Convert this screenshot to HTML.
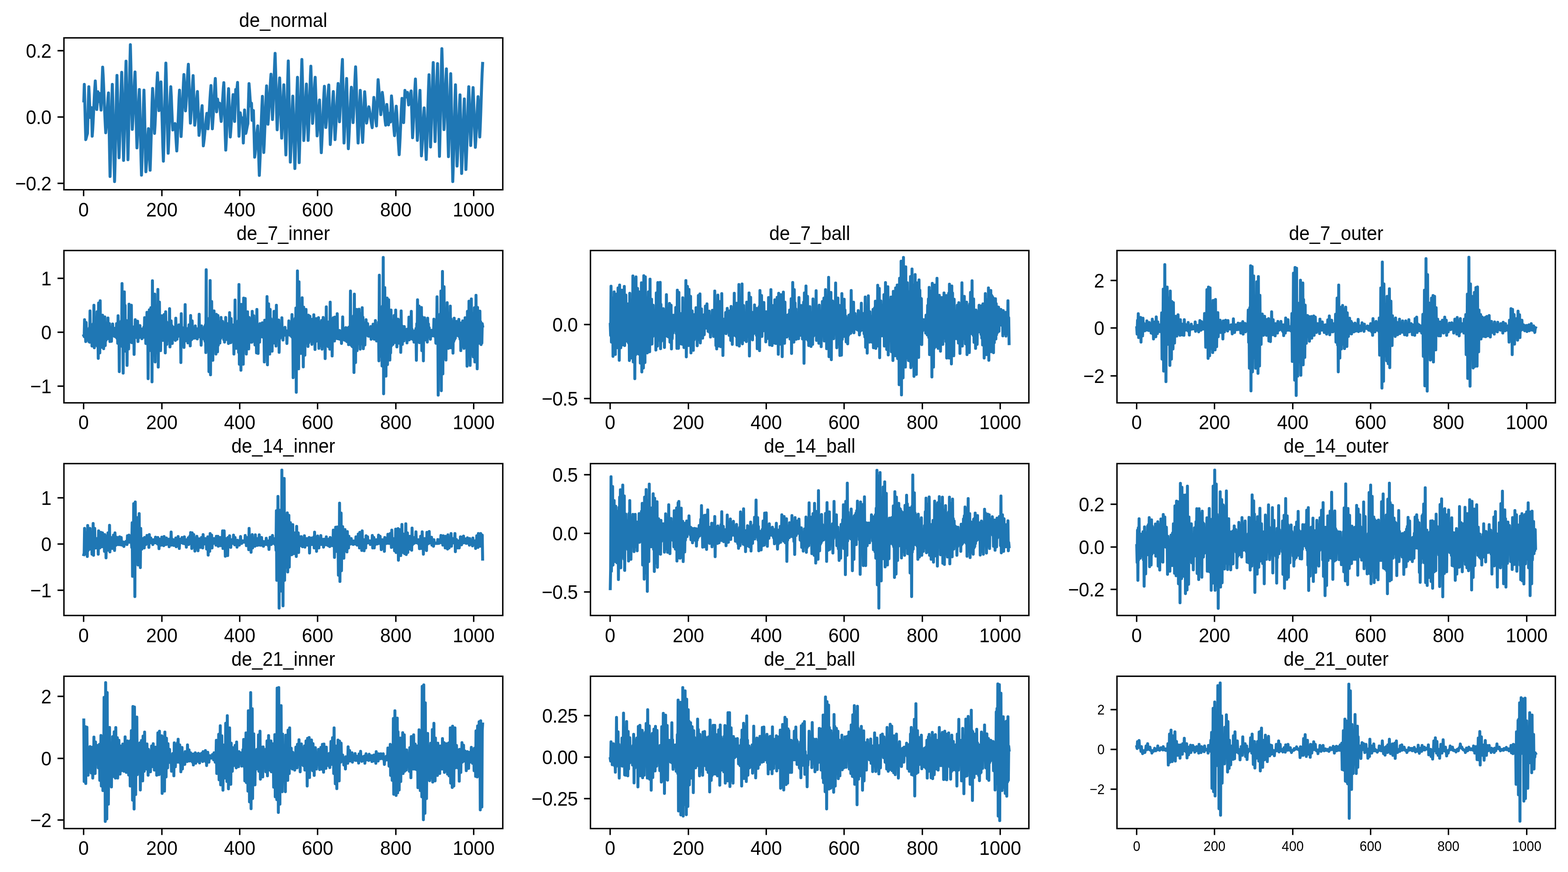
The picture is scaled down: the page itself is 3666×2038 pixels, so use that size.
<!DOCTYPE html>
<html lang="en"><head><meta charset="utf-8"><title>signals</title>
<style>
html,body{margin:0;padding:0;background:#fff;}
body{width:3666px;height:2038px;overflow:hidden;}
svg{display:block;}
text{font-family:"Liberation Sans","DejaVu Sans",sans-serif;fill:#000;}
.t{font-size:45.6px;text-anchor:middle;}
.x{font-size:46.8px;text-anchor:middle;}
.y{font-size:46.8px;text-anchor:end;letter-spacing:-0.7px;}
.xs{font-size:32.8px;text-anchor:middle;}
.ys{font-size:32.8px;text-anchor:end;}
.s{fill:none;stroke:#1f77b4;stroke-width:6.9;stroke-linejoin:round;stroke-linecap:square;}
.k{stroke:#000;stroke-width:3.33;fill:none;}
</style></head>
<body>
<svg width="3666" height="2038" viewBox="0 0 3666 2038">
<rect width="3666" height="2038" fill="#fff"/>
<g>
<path class="s" d="M195.9,235.8 196.5,216.5 197.1,197.3 198.2,237.1 199.4,286.5 200.5,326.3 201.8,321.8 203.2,316.2 204.5,311.7 205.5,278 206.6,236.2 207.7,202.6 208.8,224.8 210,252.3 211.1,274.5 212.4,263.1 213.8,251.7 214.7,285 215.6,318.3 216.7,303.5 217.7,285.2 218.7,264.6 219.7,243.1 220.7,222.4 221.8,204.1 222.8,189.3 223.9,209.9 225.1,235.4 226.2,255.9 227.6,235.2 228.9,214.5 229.8,225.9 230.8,237.4 231.8,227.9 232.9,218.5 234,230.5 235.2,245.3 236.3,257.3 237.6,226.3 238.8,187.9 240,156.9 241.1,174.6 242.1,196.3 243.1,220.9 244.1,246.4 245.2,271 246.2,292.7 247.2,310.3 248.3,297.6 249.3,281.6 250.4,263.8 251.5,245.9 252.5,229.9 253.6,217.2 254.8,277.4 256.1,352.3 257.3,412.5 258.4,376.2 259.4,329.9 260.5,279.9 261.5,233.6 262.6,197.3 263.7,235.6 264.7,284.4 265.8,337.3 266.8,386.1 267.9,424.4 269,382.6 270.1,329.2 271.2,271.4 272.4,217.9 273.5,176.1 274.7,218.2 275.9,272.4 277.1,326.5 278.3,368.7 279.3,341.4 280.4,307.1 281.4,268.8 282.5,230.5 283.6,196.2 284.6,168.9 285.7,214 286.7,271.9 287.8,329.7 288.9,374.8 290,335.7 291.2,285.8 292.4,231.9 293.5,182 294.7,142.9 295.8,193.3 297,258.1 298.1,322.8 299.2,373.2 300.3,327.9 301.4,270.1 302.6,207.5 303.7,149.7 304.8,104.4 305.9,147.7 307,203.4 308.2,259 309.3,302.4 310.4,284 311.4,261 312.5,235.2 313.5,209.5 314.6,186.5 315.7,168.1 316.8,207 317.9,256.9 319.1,306.8 320.2,345.6 321.3,322.6 322.4,293.3 323.5,261.6 324.6,232.2 325.8,209.2 326.8,243 327.8,286 328.8,332.6 329.8,375.6 330.8,409.3 332,375.8 333.1,333.1 334.3,286.8 335.5,244.1 336.6,210.6 337.8,252.3 338.9,306 340,359.6 341.1,401.4 342.3,384.4 343.5,362.8 344.6,339.4 345.8,317.7 347,300.8 348.3,330.7 349.6,368 351,397.9 352.1,365.6 353.3,324.5 354.5,280 355.6,238.8 356.8,206.6 357.9,229.6 359.1,259.1 360.2,288.7 361.3,311.7 362.5,292.3 363.6,268.1 364.8,240.9 365.9,213.8 367.1,189.6 368.2,170.2 369.4,197.5 370.5,231.3 371.7,258.6 372.8,243.9 373.9,225 375,206.1 376.2,191.4 377.3,222.7 378.5,262.5 379.7,305.6 380.8,345.4 382,376.7 383.2,338 384.3,288.7 385.5,235.4 386.7,186.1 387.8,147.4 388.9,182.9 390,228.2 391,277.3 392.1,322.6 393.2,358.1 394.2,336.8 395.2,310.2 396.2,280.3 397.2,250.5 398.2,223.9 399.3,202.6 400.5,224.7 401.6,253.1 402.8,281.6 404,303.7 405.1,301.2 406.2,298 407.2,294.5 408.3,291.3 409.3,288.8 410.7,308.6 412,333.1 413.3,352.8 414.4,333.3 415.4,308.9 416.5,281.7 417.6,254.4 418.6,230 419.7,210.6 420.9,244 422.2,285.6 423.4,319.1 424.5,299.3 425.6,274.4 426.7,246.6 427.8,218.9 428.9,194 430,174.2 431.3,200.4 432.5,232.9 433.8,259.1 434.9,244.2 436,225.6 437.1,204.7 438.2,183.9 439.3,165.2 440.4,150.3 441.6,180.4 442.8,219.1 444,257.7 445.2,287.8 446.2,272.6 447.3,253.6 448.4,232.3 449.4,211.1 450.5,192 451.5,176.8 452.8,212.5 454,256.9 455.3,292.6 456.3,281.8 457.4,268.3 458.4,253.3 459.5,238.2 460.6,224.7 461.6,214 462.9,245.6 464.1,284.9 465.3,316.4 466.4,308.5 467.4,298.6 468.4,287.5 469.4,275.9 470.5,264.7 471.5,254.9 472.5,246.9 474,293.9 475.4,340.9 476.4,333.4 477.5,324.2 478.5,313.9 479.5,302.9 480.6,291.9 481.6,281.6 482.6,272.5 483.6,265 485,283 486.3,301.1 487.5,287.2 488.6,269.9 489.8,250.5 490.9,231.1 492.1,213.8 493.3,199.9 494.3,231.1 495.4,269.9 496.5,301.1 497.6,285 498.8,264.8 499.9,242.3 501.1,219.7 502.2,199.6 503.4,183.5 504.4,207.5 505.5,237.3 506.5,261.3 507.6,246.5 508.7,231.8 509.7,239.9 510.8,248 512,244.5 513.2,241.1 514.5,254.2 515.8,270.6 517.2,283.8 518.2,271.4 519.2,255.9 520.2,238.6 521.2,221.2 522.2,205.7 523.3,193.3 524.4,227.8 525.5,272.1 526.6,316.4 527.8,350.9 528.9,331.3 530,306.6 531.1,279 532.2,251.5 533.3,226.8 534.4,207.1 535.7,242 537.1,285.3 538.4,320.2 539.5,306.6 540.6,289.6 541.7,270.7 542.8,251.7 543.9,234.7 545,221.2 546.2,240.5 547.3,264.5 548.5,283.8 549.8,246.5 551.1,209.2 552.2,212.7 553.2,216.1 554.3,204.5 555.4,192.8 556.5,231.5 557.7,279.6 558.8,318.3 560.3,291 561.7,263.6 563.1,273.1 564.4,282.5 565.7,279 567,275.6 568,304.9 568.9,334.2 570.4,295.6 571.8,257 573.3,284.3 574.7,311.7 575.9,306.7 577.1,300.4 578.3,294.1 579.5,289.1 580.8,242.3 582.2,195.4 583.5,211.6 584.8,231.8 586.1,248 587.1,244.5 588,241.1 588.7,261.1 589.3,281.2 590.4,274.1 591.5,265.4 592.5,258.3 594,312.9 595.4,367.4 596.5,359 597.5,348.6 598.5,336.9 599.5,324.7 600.6,312.9 601.6,302.6 602.6,294.1 603.8,329.8 605.1,374.2 606.3,409.9 607.3,388.6 608.4,362.5 609.4,332.9 610.4,302.1 611.4,272.5 612.5,246.4 613.5,225.1 614.5,265.6 615.6,315.8 616.7,356.3 617.8,335 618.9,308.3 620,278.5 621.1,248.7 622.2,222 623.3,200.7 624.4,228.4 625.4,262.8 626.5,290.4 627.5,277 628.5,260.4 629.6,241.7 630.6,222.2 631.6,203.4 632.6,186.8 633.6,173.4 634.8,206.1 635.9,246.6 637.1,279.3 638.1,258.2 639.1,231.7 640.1,202.1 641.2,172.5 642.2,146 643.2,124.8 644.4,163.9 645.6,214 646.8,264.1 648,303.2 649.1,282.8 650.3,256.7 651.5,228.6 652.6,202.6 653.8,182.2 655,213 656.2,252.5 657.4,292 658.6,322.8 659.6,301.8 660.6,275 661.6,245.9 662.6,219.1 663.6,198.1 664.8,234 666,280.1 667.2,326.2 668.4,362.1 669.5,325 670.6,277.8 671.8,226.7 672.9,179.4 674,142.4 675.2,194.1 676.4,260.6 677.6,327 678.8,378.8 679.9,352.8 681.1,319.7 682.3,283.8 683.4,250.6 684.6,224.6 685.8,261.7 687,309.3 688.2,356.9 689.4,393.9 690.4,364.8 691.4,328.1 692.4,287.2 693.4,246.4 694.5,209.7 695.5,180.6 696.8,242.1 698.1,318.6 699.5,380.1 700.5,347.1 701.6,305.8 702.6,259.5 703.7,213.3 704.8,171.9 705.8,138.9 707,180.4 708.1,233.6 709.2,286.9 710.3,328.4 711.4,310.3 712.4,287.7 713.4,262.4 714.4,237.2 715.4,214.5 716.4,196.5 717.8,237.1 719.1,287.5 720.4,328.1 721.5,304.4 722.5,274.7 723.6,241.5 724.7,208.3 725.7,178.5 726.8,154.8 728.1,196 729.4,247.2 730.8,288.3 731.8,273.6 732.8,255.1 733.8,234.4 734.8,213.8 735.9,195.3 736.9,180.6 738,210.5 739.1,249 740.3,287.5 741.4,317.5 742.5,303.4 743.6,285.3 744.7,265.8 745.8,247.8 747,233.6 748,260.6 749.1,295.2 750.1,329.8 751.2,356.8 752.2,339 753.2,317 754.3,292.2 755.3,266.4 756.3,241.5 757.3,219.6 758.4,201.8 759.5,231.4 760.7,268.2 761.8,297.9 763,284.3 764.1,267.3 765.3,248.2 766.4,229.2 767.6,212.2 768.7,198.6 769.9,241.5 771,294.8 772.2,337.7 773.2,323.5 774.2,306 775.2,286.1 776.3,265.5 777.3,245.7 778.3,228.2 779.3,214 780.7,248.6 782,291.6 783.3,326.3 784.3,311.2 785.4,292.6 786.4,271.6 787.4,249.8 788.4,228.8 789.5,210.2 790.5,195.2 791.5,222.7 792.6,257 793.7,284.6 794.8,264.7 796,239.7 797.1,211.8 798.3,183.8 799.4,158.8 800.6,138.9 801.8,199.1 803,274 804.3,334.2 805.3,313.6 806.3,287.7 807.3,258.9 808.3,230 809.4,204.1 810.4,183.5 811.7,234.1 813,296.9 814.4,347.5 815.4,331 816.4,310.7 817.4,287.7 818.5,263.7 819.5,240.7 820.5,220.4 821.5,203.9 822.8,229.4 824.2,261 825.5,286.5 826.7,264.5 827.9,236.5 829,206.1 830.2,178.1 831.4,156.2 832.6,186.2 833.7,224.5 834.9,265.9 836.1,304.2 837.2,334.2 838.3,313.5 839.3,287 840.3,258.3 841.3,231.8 842.3,211.1 843.4,231.6 844.5,257.8 845.6,286.2 846.7,312.4 847.9,332.9 849.1,307 850.3,273.7 851.4,240.4 852.6,214.5 853.8,230.6 854.9,251.2 856,271.7 857.2,287.8 858.2,281.3 859.3,273.1 860.3,264.2 861.4,256 862.5,249.6 863.6,255.2 864.7,262.1 865.8,269.9 866.9,278.1 868,285.9 869.1,292.8 870.2,298.4 871.5,276.6 872.8,249.6 874.1,227.8 875.2,236.9 876.2,248.3 877.2,261.1 878.2,273.9 879.2,285.3 880.2,294.4 881.5,261 882.7,219.5 884,186.1 885,197.3 886.1,211.3 887.1,227 888.2,242.7 889.3,256.7 890.3,267.9 891.5,251.8 892.6,231.9 893.8,215.9 894.9,224.7 896,235.5 897.2,247.8 898.3,260.6 899.5,272.9 900.6,283.8 901.7,292.6 903.1,268.4 904.4,244.3 905.7,258.9 907,277.1 908.4,291.8 909.3,278.4 910.2,265 911.6,275 912.9,285.1 914.1,254.7 915.3,224.3 916.3,235 917.3,248.1 918.3,262.9 919.4,278.4 920.4,293.2 921.4,306.3 922.4,317 923.8,295.8 925.1,269.4 926.4,248.2 927.6,263.7 928.7,283.2 929.9,304.9 931,326.6 932.2,346.1 933.3,361.6 934.4,343.6 935.5,321 936.6,295.7 937.7,270.5 938.8,247.9 939.9,229.9 941.2,247.4 942.4,269 943.7,286.5 944.7,263.3 945.8,234.5 946.8,211.3 947.9,216.1 949,222 950,226.8 951.4,221.3 952.7,215.9 954,230.6 955.3,245.3 956.5,239.8 957.7,232.7 958.8,225 960,218 961.2,212.4 962.3,246.1 963.5,288 964.6,321.8 965.7,303 966.8,279.5 967.9,253.3 969,227 970.2,203.5 971.3,184.8 972.4,216.2 973.5,256.5 974.6,296.7 975.8,328.1 976.8,312.1 977.8,292 978.8,269.6 979.8,247.2 980.9,227.1 981.9,211.1 983,258.3 984.2,317 985.3,364.2 986.4,348.9 987.4,329.7 988.5,308.2 989.6,286.7 990.6,267.5 991.7,252.2 992.9,278.6 994.1,312.5 995.3,346.3 996.5,372.7 997.6,345.6 998.7,311.7 999.8,273.7 1000.9,235.8 1002,201.8 1003.1,174.7 1004.3,226.8 1005.4,291.5 1006.6,343.5 1007.6,316.5 1008.7,282.6 1009.7,244.8 1010.8,206.9 1011.9,173.1 1012.9,146.1 1014,186.5 1015,238.4 1016.1,290.3 1017.2,330.8 1018.3,300.1 1019.5,260.9 1020.7,218.6 1021.8,179.4 1023,148.7 1024.1,196.1 1025.3,257 1026.4,317.9 1027.5,365.3 1028.6,322.8 1029.7,268.8 1030.9,210.2 1032,156.1 1033.1,113.7 1034.1,145.6 1035.1,186.3 1036.1,230.3 1037.1,271 1038.1,302.9 1039.2,279 1040.4,248.4 1041.5,215.4 1042.6,184.9 1043.7,160.9 1044.9,205.8 1046.1,263.5 1047.3,321.2 1048.5,366.1 1049.5,333.4 1050.6,291.6 1051.7,246.5 1052.7,204.8 1053.8,172.1 1055,227.3 1056.2,298.3 1057.4,369.2 1058.6,424.4 1059.6,393.5 1060.7,354.7 1061.7,311.3 1062.8,267.9 1063.9,229 1064.9,198.1 1066.2,256.7 1067.4,329.5 1068.6,388.1 1069.8,365.3 1070.9,336.8 1072.1,304.9 1073.2,273 1074.4,244.5 1075.5,221.7 1076.8,278.3 1078,348.7 1079.3,405.3 1080.3,381.5 1081.4,351.7 1082.4,318.3 1083.5,284.9 1084.6,255.1 1085.6,231.2 1086.9,282.1 1088.1,345.2 1089.3,396.1 1090.4,369.6 1091.6,336.4 1092.7,299.3 1093.8,262.2 1094.9,229 1096,202.6 1097.1,232.7 1098.2,271.3 1099.4,310 1100.5,340.1 1101.6,317.2 1102.7,288.1 1103.8,256.6 1104.9,227.5 1106.1,204.7 1107.1,228.3 1108.2,258.3 1109.2,290.8 1110.3,320.8 1111.4,344.3 1112.4,328.1 1113.5,307.8 1114.6,285.1 1115.6,262.4 1116.7,242.1 1117.7,225.9 1119.1,255 1120.4,291.1 1121.7,320.2 1122.8,296.6 1123.9,267.1 1125,234.2 1126.1,201.2 1127.2,171.7 1128.4,148.2"/>
<path class="k" d="M195.5,443.5 v15 M378.5,443.5 v15 M560.5,443.5 v15 M742.5,443.5 v15 M925.5,443.5 v15 M1107.5,443.5 v15 M149.5,118.5 h-15 M149.5,273.5 h-15 M149.5,428.5 h-15"/>
<rect class="k" x="149.5" y="88.5" width="1026" height="355"/>
<text class="x" transform="translate(195.5,505.6) scale(0.94,1)">0</text>
<text class="x" transform="translate(378.5,505.6) scale(0.94,1)">200</text>
<text class="x" transform="translate(560.5,505.6) scale(0.94,1)">400</text>
<text class="x" transform="translate(742.5,505.6) scale(0.94,1)">600</text>
<text class="x" transform="translate(925.5,505.6) scale(0.94,1)">800</text>
<text class="x" transform="translate(1107.5,505.6) scale(0.94,1)">1000</text>
<text class="y" transform="translate(119.7,134.5) scale(0.94,1)">0.2</text>
<text class="y" transform="translate(119.7,289.5) scale(0.94,1)">0.0</text>
<text class="y" transform="translate(119.7,444.5) scale(0.94,1)">−0.2</text>
<text class="t" transform="translate(662.2,63.2) scale(0.957,1)">de_normal</text>
</g>
<g>
<path class="s" d="M195.9,784.6 196.8,786.6 197.7,747.2 198.7,786.3 199.6,782.9 200.5,798.2 201.4,753.8 202.3,790.8 203.2,776.7 204.1,792.5 205,773 206,794.2 206.9,770.3 207.8,798.2 208.7,767 209.6,799.7 210.5,726.8 211.4,799.6 212.3,762.7 213.2,798 214.2,763.9 215.1,808.8 216,759.3 216.9,799 217.8,756.9 218.7,800.5 219.6,713.5 220.5,812.8 221.4,755.8 222.4,800.8 223.3,753.3 224.2,803.1 225.1,753 226,806.7 226.9,728.6 227.8,809.1 228.7,751.7 229.7,837.5 230.6,708.2 231.5,803.5 232.4,753.8 233.3,824.7 234.2,702.9 235.1,810.4 236,755.4 236.9,811.7 237.9,757.8 238.8,808.6 239.7,736.6 240.6,805.8 241.5,756.4 242.4,814.9 243.3,755.6 244.2,801.7 245.1,740.6 246.1,807.5 247,755 247.9,795.1 248.8,758.8 249.7,790.5 250.6,759.8 251.5,791.5 252.4,743.2 253.4,789.1 254.3,762.9 255.2,789.6 256.1,756.5 257,798.2 257.9,766.4 258.8,784.2 259.7,766.4 260.6,797.7 261.6,766 262.5,783.8 263.4,757.3 264.3,784.3 265.2,768.2 266.1,784 267,767.5 267.9,786.2 268.8,767.3 269.8,784.8 270.7,767.1 271.6,787.9 272.5,756.5 273.4,790.3 274.3,761.9 275.2,802.2 276.1,737.9 277.1,794 278,758.1 278.9,868.5 279.8,755.7 280.7,797 281.6,753.6 282.5,798.8 283.4,750.4 284.3,805.3 285.3,662.8 286.2,810.3 287.1,746.4 288,872 288.9,745.8 289.8,810 290.7,682.2 291.6,811 292.5,714 293.5,820.7 294.4,748.6 295.3,810.5 296.2,749.4 297.1,853.9 298,750.5 298.9,807.4 299.8,752.3 300.8,815.4 301.7,710.9 302.6,799.8 303.5,754.5 304.4,792.4 305.3,756.6 306.2,791.8 307.1,713.5 308,800.8 309,763.9 309.9,792.8 310.8,764 311.7,789.1 312.6,765 313.5,828.2 314.4,764.5 315.3,786.7 316.2,747.2 317.2,788.2 318.1,765.4 319,788.9 319.9,766.1 320.8,789.1 321.7,750.7 322.6,798.2 323.5,766.9 324.4,789.8 325.4,767.7 326.3,787.9 327.2,761 328.1,787.4 329,768.7 329.9,787.9 330.8,769.2 331.7,791.5 332.7,770 333.6,788.4 334.5,768.3 335.4,788.3 336.3,764.4 337.2,788.1 338.1,742.4 339,787.6 339.9,759.6 340.9,802.7 341.8,757.2 342.7,796.8 343.6,730 344.5,799.5 345.4,755.5 346.3,885 347.2,756.6 348.1,808.6 349.1,724.1 350,813.3 350.9,744.6 351.8,819.3 352.7,719.3 353.6,818 354.5,732.4 355.4,892.4 356.4,656.2 357.3,824.2 358.2,736.1 359.1,829.7 360,747.7 360.9,830.1 361.8,687.5 362.7,845.9 363.6,738.1 364.6,824.3 365.5,743.3 366.4,818.4 367.3,741.1 368.2,813.3 369.1,676.4 370,857.9 370.9,747.8 371.8,804.2 372.8,706.1 373.7,794.9 374.6,753.3 375.5,819.4 376.4,752.8 377.3,789.8 378.2,737.9 379.1,787.2 380.1,751.7 381,795.5 381.9,752.4 382.8,787.7 383.7,735.3 384.6,787.5 385.5,751.5 386.4,824.7 387.3,728.6 388.3,788.3 389.2,752.5 390.1,804.8 391,759.6 391.9,794.6 392.8,761.1 393.7,794.6 394.6,762.5 395.5,795.2 396.5,721.5 397.4,810.7 398.3,761.7 399.2,793.6 400.1,749.9 401,792.3 401.9,761.2 402.8,802.7 403.8,764.5 404.7,792.9 405.6,764.8 406.5,792 407.4,766.3 408.3,791.1 409.2,765.5 410.1,795.5 411,743.8 412,788.2 412.9,763.6 413.8,792.9 414.7,763.8 415.6,786.5 416.5,762.7 417.4,784.4 418.3,759.2 419.2,785.3 420.2,763.4 421.1,786.1 422,763.9 422.9,847.3 423.8,733.1 424.7,788.5 425.6,765.4 426.5,789.6 427.5,766.9 428.4,789.9 429.3,766.2 430.2,812 431.1,765.9 432,795.6 432.9,711.9 433.8,796.6 434.7,767.3 435.7,796.2 436.6,769.5 437.5,795.1 438.4,767.9 439.3,801.4 440.2,768.1 441.1,790.3 442,759.2 442.9,791 443.9,768.4 444.8,808.3 445.7,737.4 446.6,794.7 447.5,769.3 448.4,793.3 449.3,749.9 450.2,791 451.2,769.3 452.1,790.1 453,769.2 453.9,790.3 454.8,768.8 455.7,789.8 456.6,761.8 457.5,789.8 458.4,768.1 459.4,789.8 460.3,768.7 461.2,792.1 462.1,768.5 463,786.7 463.9,770.6 464.8,787.3 465.7,734.5 466.6,786.6 467.6,769.9 468.5,787.4 469.4,769.6 470.3,806.7 471.2,761.8 472.1,787.8 473,768.8 473.9,788.5 474.9,768 475.8,790.7 476.7,767.5 477.6,793.2 478.5,763.2 479.4,797.6 480.3,759.3 481.2,823.9 482.1,630.4 483.1,803.5 484,750.6 484.9,808.4 485.8,748.5 486.7,812.8 487.6,748.1 488.5,868.5 489.4,743.7 490.3,810.7 491.3,655.7 492.2,875.9 493.1,737.9 494,810.5 494.9,704.8 495.8,809.3 496.7,746.9 497.6,842 498.6,746.6 499.5,812 500.4,726.8 501.3,812.7 502.2,744.6 503.1,811.3 504,752.8 504.9,827.4 505.8,734.7 506.8,806.2 507.7,750.6 508.6,822.1 509.5,737.4 510.4,806.8 511.3,752 512.2,801.8 513.1,756.6 514,801.6 515,759.2 515.9,790.7 516.8,741.9 517.7,787.5 518.6,757 519.5,784.9 520.4,751.2 521.3,784.6 522.3,757.5 523.2,793.7 524.1,757.2 525,799.5 525.9,755.6 526.8,790.7 527.7,741.9 528.6,793.5 529.5,756.7 530.5,793.1 531.4,756.4 532.3,791.9 533.2,756.6 534.1,802.7 535,756.8 535.9,790.9 536.8,730.8 537.7,791.2 538.7,760 539.6,800.8 540.5,744.6 541.4,795 542.3,759.5 543.2,794.9 544.1,759.5 545,794.7 546,759.5 546.9,827.4 547.8,760.4 548.7,798.8 549.6,701.3 550.5,804 551.4,757.5 552.3,814.1 553.2,757.1 554.2,807.7 555.1,753.5 556,809.8 556.9,749.9 557.8,823.4 558.7,664.9 559.6,851.3 560.5,746.9 561.4,825.2 562.4,738 563.3,865.3 564.2,711.4 565.1,815.6 566,725.6 566.9,818.8 567.8,732.6 568.7,851.3 569.7,696.8 570.6,811.5 571.5,745.2 572.4,815.6 573.3,697.6 574.2,808.5 575.1,751 576,827.4 576.9,752.7 577.9,810.2 578.8,728.6 579.7,807.7 580.6,750.2 581.5,815.4 582.4,741.9 583.3,798.9 584.2,745.1 585.1,798.5 586.1,748.4 587,799.8 587.9,751.8 588.8,799.8 589.7,727.8 590.6,795.1 591.5,743.6 592.4,794.3 593.3,737.9 594.3,797.4 595.2,749.8 596.1,806.1 597,754.9 597.9,797.1 598.8,758.1 599.7,824.7 600.6,723.3 601.6,809.1 602.5,759.9 603.4,826 604.3,762.4 605.2,798.1 606.1,761.7 607,799.5 607.9,756.5 608.8,787.9 609.8,764.8 610.7,784.7 611.6,765 612.5,785.6 613.4,754.4 614.3,787.6 615.2,758.6 616.1,786.7 617,759.1 618,845.9 618.9,748.5 619.8,793.7 620.7,760.3 621.6,799.6 622.5,758.8 623.4,802 624.3,693.3 625.3,852.6 626.2,750.1 627.1,799.7 628,710.1 628.9,800.3 629.8,737.5 630.7,827.4 631.6,723.3 632.5,807.9 633.5,745 634.4,806.4 635.3,749.6 636.2,820.7 637.1,755.4 638,798 638.9,759.5 639.8,801.2 640.7,727.8 641.7,801.8 642.6,755.4 643.5,799.8 644.4,757.1 645.3,808.8 646.2,713.5 647.1,795.6 648,758.7 649,794.9 649.9,755 650.8,792.3 651.7,748 652.6,823.4 653.5,758.7 654.4,790.8 655.3,762.3 656.2,788.2 657.2,764.2 658.1,785.9 659,742.7 659.9,785.5 660.8,767.9 661.7,794.7 662.6,770.9 663.5,783.5 664.4,773.7 665.4,783.3 666.3,765 667.2,782.1 668.1,773.9 669,781 669.9,773.5 670.8,802.7 671.7,773.7 672.7,779.4 673.6,772.6 674.5,778.8 675.4,749.9 676.3,778.3 677.2,768.6 678.1,783.6 679,766 679.9,780.8 680.9,765.4 681.8,786.7 682.7,735.3 683.6,788.8 684.5,761.4 685.4,882.6 686.3,754.6 687.2,802.1 688.1,747.4 689.1,806.6 690,744.1 690.9,817.1 691.8,719.9 692.7,916.8 693.6,741.7 694.5,827.3 695.4,633.1 696.4,824.1 697.3,745.5 698.2,861.9 699.1,658.8 700,820.6 700.9,727.7 701.8,818 702.7,724.1 703.6,826 704.6,724.2 705.5,810.8 706.4,696 707.3,802.9 708.2,729.5 709.1,857.4 710,718 710.9,804.2 711.8,739 712.8,830 713.7,736.5 714.6,797.7 715.5,723.3 716.4,797.3 717.3,739.1 718.2,801.8 719.1,739.7 720.1,809.6 721,736.6 721.9,801 722.8,749.3 723.7,792.9 724.6,739.2 725.5,796.6 726.4,750.3 727.3,794.6 728.3,746.6 729.2,804.8 730.1,746.3 731,795.7 731.9,745.6 732.8,799.1 733.7,735.8 734.6,797.5 735.5,747 736.5,816.8 737.4,748.8 738.3,798.1 739.2,744.6 740.1,794.9 741,754.3 741.9,795.5 742.8,753.4 743.8,797.1 744.7,742.4 745.6,814.1 746.5,756.2 747.4,808.3 748.3,753.9 749.2,805.4 750.1,752.4 751,802.9 752,749 752.9,816 753.8,749.5 754.7,799.6 755.6,741.9 756.5,802.5 757.4,751.4 758.3,802.7 759.2,749.1 760.2,838 761.1,747.8 762,808 762.9,717.2 763.8,805.2 764.7,752.1 765.6,803.8 766.5,752.5 767.5,810.1 768.4,755.3 769.3,802.9 770.2,758.5 771.1,816 772,706.1 772.9,802 773.8,755.2 774.7,801.8 775.7,757.3 776.6,831.9 777.5,753.6 778.4,790 779.3,742.7 780.2,788.8 781.1,755.4 782,796.9 782.9,741.1 783.9,791.7 784.8,759 785.7,791 786.6,763.6 787.5,788.7 788.4,733.1 789.3,791.5 790.2,771.6 791.2,790.8 792.1,775.4 793,792.3 793.9,772.4 794.8,792.9 795.7,777 796.6,793.5 797.5,776.4 798.4,802.7 799.4,776.1 800.3,793.4 801.2,740.6 802.1,792.9 803,773.5 803.9,793.8 804.8,773.6 805.7,795.1 806.6,773.1 807.6,794.9 808.5,765.8 809.4,796.6 810.3,769.6 811.2,798.4 812.1,768.1 813,797.3 813.9,766.5 814.9,805.3 815.8,764.8 816.7,795.4 817.6,763.7 818.5,801.8 819.4,680.3 820.3,805.7 821.2,754.1 822.1,807.9 823.1,750.4 824,810.2 824.9,747.6 825.8,811 826.7,738.4 827.6,870.6 828.5,687.5 829.4,805.4 830.3,728.9 831.3,847.3 832.2,734.9 833.1,798.4 834,723.3 834.9,819.4 835.8,736.8 836.7,803.7 837.6,733.6 838.6,802.7 839.5,722.8 840.4,802.8 841.3,732.5 842.2,816 843.1,736.9 844,797.3 844.9,732.6 845.8,803.8 846.8,719.3 847.7,798.3 848.6,741.5 849.5,814.9 850.4,754.4 851.3,783.5 852.2,764.1 853.1,806.1 854,763.9 855,782.8 855.9,747.2 856.8,783.1 857.7,762.8 858.6,783.6 859.5,756.5 860.4,785.1 861.3,766.8 862.2,785.8 863.2,767.2 864.1,785.5 865,767.9 865.9,786.4 866.8,763.1 867.7,792.9 868.6,766.6 869.5,789.3 870.5,765.9 871.4,790.3 872.3,757.8 873.2,790.9 874.1,767.6 875,792.9 875.9,767.3 876.8,790.8 877.7,749.1 878.7,789.2 879.6,763 880.5,796.9 881.4,762.2 882.3,792.9 883.2,761.2 884.1,796.7 885,753 885.9,843.3 886.9,643.2 887.8,813 888.7,729.2 889.6,832.7 890.5,724.4 891.4,819.1 892.3,721 893.2,855.2 894.2,715.7 895.1,831.7 896,601.8 896.9,920.2 897.8,707.9 898.7,837 899.6,672.1 900.5,836.1 901.4,721.2 902.4,879.1 903.3,721.6 904.2,822.8 905.1,696.8 906,852.1 906.9,722.4 907.8,812 908.7,700.8 909.6,805.8 910.6,740.3 911.5,841.4 912.4,749.5 913.3,824.7 914.2,724.7 915.1,808.3 916,750.4 916.9,804.4 917.9,749.9 918.8,804.8 919.7,753.3 920.6,801 921.5,737.4 922.4,800.5 923.3,746.8 924.2,800.2 925.1,724.7 926.1,798.8 927,747.8 927.9,810.7 928.8,750.3 929.7,800.6 930.6,745.9 931.5,801.1 932.4,748.5 933.3,802 934.3,750 935.2,802.3 936.1,750.5 937,823.4 937.9,726.8 938.8,803.1 939.7,761.6 940.6,804.8 941.6,767.4 942.5,794.3 943.4,771.5 944.3,796.9 945.2,763.1 946.1,791.5 947,773.7 947.9,790.5 948.8,773.6 949.8,790.2 950.7,769.8 951.6,801.4 952.5,772 953.4,791.7 954.3,768.7 955.2,789.9 956.1,741.1 957,794.2 958,761 958.9,788.7 959.8,758.2 960.7,790.6 961.6,727.8 962.5,791.7 963.4,769.4 964.3,792.6 965.3,775.1 966.2,793.8 967.1,775.3 968,799.5 968.9,774.3 969.8,793.2 970.7,772.4 971.6,794.5 972.5,767.8 973.5,842 974.4,756.8 975.3,796.8 976.2,700.8 977.1,795.5 978,737.6 978.9,790.5 979.8,715.4 980.7,800.8 981.7,731.7 982.6,792.7 983.5,728.7 984.4,796 985.3,718.8 986.2,819.4 987.1,740.8 988,798.7 989,746.8 989.9,843.3 990.8,748.7 991.7,795.4 992.6,742.7 993.5,792 994.4,749.9 995.3,793.7 996.2,749.9 997.2,794.7 998.1,750.1 999,799.5 999.9,743.8 1000.8,788.2 1001.7,757.3 1002.6,785.4 1003.5,765.9 1004.4,786.4 1005.4,774.1 1006.3,792.9 1007.2,774.7 1008.1,784.5 1009,771.9 1009.9,783.8 1010.8,774.8 1011.7,784.9 1012.7,773.4 1013.6,782.9 1014.5,745.9 1015.4,785.1 1016.3,769.2 1017.2,786.6 1018.1,767.6 1019,802.2 1019.9,763.4 1020.9,790.5 1021.8,693.6 1022.7,799.5 1023.6,748.4 1024.5,923.4 1025.4,740.4 1026.3,825.3 1027.2,736 1028.1,824.2 1029.1,734.2 1030,825.9 1030.9,680.1 1031.8,913.1 1032.7,717.4 1033.6,849.8 1034.5,634.4 1035.4,873.8 1036.4,712 1037.3,837.3 1038.2,670.3 1039.1,827.3 1040,730 1040.9,817.9 1041.8,731.4 1042.7,841.4 1043.6,736.1 1044.6,813.8 1045.5,707.4 1046.4,807.3 1047.3,735.1 1048.2,814.1 1049.1,741 1050,802.9 1050.9,740.7 1051.8,796.9 1052.8,715.4 1053.7,812.8 1054.6,745.4 1055.5,798.2 1056.4,750.8 1057.3,798.2 1058.2,752.2 1059.1,825.2 1060.1,757.4 1061,797.7 1061.9,743.8 1062.8,793.2 1063.7,756.6 1064.6,790.2 1065.5,753.3 1066.4,783.6 1067.3,751.2 1068.3,783.6 1069.2,754.5 1070.1,784.2 1071,755.7 1071.9,783.9 1072.8,746.4 1073.7,786.6 1074.6,757.4 1075.5,792.3 1076.5,757.5 1077.4,819.4 1078.3,754.9 1079.2,805.2 1080.1,754.1 1081,809.1 1081.9,749.9 1082.8,809.8 1083.8,752.5 1084.7,814.1 1085.6,753.1 1086.5,807.1 1087.4,742.7 1088.3,801.8 1089.2,756.5 1090.1,802.7 1091,754.6 1092,855.8 1092.9,727.8 1093.8,822.6 1094.7,741.2 1095.6,822.9 1096.5,704 1097.4,817.3 1098.3,737.2 1099.2,853.9 1100.2,736.8 1101.1,827.6 1102,698.6 1102.9,827.2 1103.8,738.2 1104.7,827.8 1105.6,732.2 1106.5,834 1107.5,732 1108.4,831.1 1109.3,719.3 1110.2,845.9 1111.1,728.6 1112,820.3 1112.9,690.2 1113.8,814.4 1114.7,736 1115.7,861.9 1116.6,718.8 1117.5,801.3 1118.4,739.3 1119.3,802.2 1120.2,739.5 1121.1,797.4 1122,727.3 1122.9,798.4 1123.9,752.1 1124.8,805.3 1125.7,759.9 1126.6,801.6 1127.5,756.5 1128.4,762.1"/>
<path class="k" d="M195.5,941.5 v15 M378.5,941.5 v15 M560.5,941.5 v15 M742.5,941.5 v15 M925.5,941.5 v15 M1107.5,941.5 v15 M149.5,650.5 h-15 M149.5,776.5 h-15 M149.5,902.5 h-15"/>
<rect class="k" x="149.5" y="585.5" width="1026" height="356"/>
<text class="x" transform="translate(195.5,1003.2) scale(0.94,1)">0</text>
<text class="x" transform="translate(378.5,1003.2) scale(0.94,1)">200</text>
<text class="x" transform="translate(560.5,1003.2) scale(0.94,1)">400</text>
<text class="x" transform="translate(742.5,1003.2) scale(0.94,1)">600</text>
<text class="x" transform="translate(925.5,1003.2) scale(0.94,1)">800</text>
<text class="x" transform="translate(1107.5,1003.2) scale(0.94,1)">1000</text>
<text class="y" transform="translate(119.7,666.5) scale(0.94,1)">1</text>
<text class="y" transform="translate(119.7,792.5) scale(0.94,1)">0</text>
<text class="y" transform="translate(119.7,918.5) scale(0.94,1)">−1</text>
<text class="t" transform="translate(662.2,560.8) scale(0.957,1)">de_7_inner</text>
</g>
<g>
<path class="s" d="M1426.8,758.1 1427.7,783.8 1428.6,668.9 1429.5,799.5 1430.5,697.3 1431.4,787.7 1432.3,698.7 1433.2,832.7 1434.1,695.9 1435,796.9 1435.9,682.2 1436.8,800.3 1437.7,697 1438.7,828.2 1439.6,701.8 1440.5,810.2 1441.4,687.5 1442.3,812.8 1443.2,698.4 1444.1,799.1 1445,672.9 1445.9,797.3 1446.9,695.4 1447.8,842 1448.7,666.3 1449.6,805.6 1450.5,686 1451.4,812.8 1452.3,686.8 1453.2,799.9 1454.2,678.2 1455.1,806.1 1456,692.9 1456.9,792.6 1457.8,703 1458.7,789.5 1459.6,669.5 1460.5,807.5 1461.4,699.3 1462.4,790.1 1463.3,689.6 1464.2,789.9 1465.1,711.1 1466,796.9 1466.9,715.3 1467.8,798.4 1468.7,710.1 1469.6,801.6 1470.6,720.3 1471.5,842.5 1472.4,685.4 1473.3,812.6 1474.2,712.3 1475.1,836.7 1476,705.1 1476.9,818.6 1477.8,700.8 1478.8,822.4 1479.7,645 1480.6,845.9 1481.5,698.5 1482.4,829 1483.3,651.7 1484.2,885 1485.1,694.3 1486.1,829.3 1487,647.2 1487.9,824.3 1488.8,693.5 1489.7,826 1490.6,674.2 1491.5,816.2 1492.4,689.3 1493.3,827.4 1494.3,682.2 1495.2,819.1 1496.1,684.8 1497,848.6 1497.9,689.5 1498.8,811 1499.7,661 1500.6,869.3 1501.5,693.2 1502.5,818.7 1503.4,700.3 1504.3,860 1505.2,644.5 1506.1,820.6 1507,695 1507.9,847.3 1508.8,647.2 1509.8,823.4 1510.7,695.7 1511.6,816.8 1512.5,696.9 1513.4,824.7 1514.3,698.1 1515.2,810.1 1516.1,682.2 1517,809 1518,704.4 1518.9,822.1 1519.8,652.5 1520.7,804.9 1521.6,703.3 1522.5,804.1 1523.4,699.4 1524.3,804 1525.2,723.1 1526.2,786.1 1527.1,713.5 1528,783.6 1528.9,739.4 1529.8,781 1530.7,738.2 1531.6,780 1532.5,735.4 1533.5,818.1 1534.4,684.8 1535.3,789.3 1536.2,708.4 1537.1,808.8 1538,660.4 1538.9,793.6 1539.8,705.3 1540.7,792.9 1541.7,706.2 1542.6,795.7 1543.5,659.9 1544.4,814.9 1545.3,711.4 1546.2,797.4 1547.1,727.1 1548,795.5 1548.9,727.6 1549.9,787.8 1550.8,721.5 1551.7,785.6 1552.6,733.6 1553.5,812 1554.4,735.2 1555.3,779.2 1556.2,736.4 1557.2,783.5 1558.1,688.8 1559,784.9 1559.9,736.8 1560.8,786.1 1561.7,733.7 1562.6,787.2 1563.5,731.6 1564.4,788.1 1565.4,709.3 1566.3,799.5 1567.2,731.9 1568.1,792.2 1569,713.5 1569.9,815.4 1570.8,738.4 1571.7,791.4 1572.6,740.6 1573.6,778.3 1574.5,736.6 1575.4,772 1576.3,741.8 1577.2,772 1578.1,739.2 1579,772 1579.9,718.8 1580.9,779.3 1581.8,733.3 1582.7,814.1 1583.6,678.2 1584.5,792.8 1585.4,736.2 1586.3,814.1 1587.2,683.5 1588.1,798.2 1589.1,737.5 1590,802.2 1590.9,741.5 1591.8,803.4 1592.7,732.6 1593.6,803.9 1594.5,735 1595.4,804.5 1596.3,696 1597.3,805 1598.2,726 1599.1,812.2 1600,719.6 1600.9,804.7 1601.8,713.1 1602.7,805 1603.6,655.7 1604.6,834 1605.5,708.7 1606.4,805.1 1607.3,669.5 1608.2,805.2 1609.1,713.8 1610,807.5 1610.9,676.4 1611.8,800.1 1612.8,718.6 1613.7,798.3 1614.6,692.8 1615.5,824.7 1616.4,732.2 1617.3,802.6 1618.2,726.8 1619.1,802.9 1620,737.6 1621,818.6 1621.9,736.4 1622.8,794.2 1623.7,735.3 1624.6,789.3 1625.5,737.4 1626.4,790.2 1627.3,719.3 1628.3,788 1629.2,735 1630.1,808 1631,731.5 1631.9,791.5 1632.8,690.7 1633.7,792.6 1634.6,728.8 1635.5,794.2 1636.5,687 1637.4,801.4 1638.3,737.2 1639.2,788.5 1640.1,722 1641,785.2 1641.9,740.3 1642.8,790.2 1643.7,737.9 1644.7,776.3 1645.6,736.3 1646.5,782.3 1647.4,734.9 1648.3,766.3 1649.2,715.4 1650.1,763.3 1651,731.2 1652,766.9 1652.9,710.1 1653.8,766 1654.7,734.9 1655.6,774.3 1656.5,740.6 1657.4,773.1 1658.3,727.3 1659.2,776.6 1660.2,750.3 1661.1,787.6 1662,748.8 1662.9,770.2 1663.8,745.9 1664.7,768.2 1665.6,725.2 1666.5,768.6 1667.4,738.9 1668.4,786.2 1669.3,734.6 1670.2,778.5 1671.1,680.1 1672,784.1 1672.9,726.6 1673.8,807.5 1674.7,721.4 1675.7,815.4 1676.6,715.4 1677.5,795.6 1678.4,689.6 1679.3,808.8 1680.2,717.5 1681.1,798.2 1682,704.8 1682.9,800.1 1683.9,721.8 1684.8,810.1 1685.7,723.5 1686.6,791.2 1687.5,686.2 1688.4,785 1689.3,746.4 1690.2,830.6 1691.1,750.7 1692.1,778.3 1693,745.9 1693.9,777.1 1694.8,747.6 1695.7,776.5 1696.6,730.5 1697.5,779.6 1698.4,741.5 1699.4,775 1700.3,720.7 1701.2,773 1702.1,733.8 1703,774.8 1703.9,731.4 1704.8,783.6 1705.7,726.8 1706.6,781.2 1707.6,731.7 1708.5,795.5 1709.4,716.2 1710.3,786.2 1711.2,730.9 1712.1,804.8 1713,726 1713.9,777.5 1714.8,723.1 1715.8,783.6 1716.7,685.4 1717.6,779.8 1718.5,715.5 1719.4,781.5 1720.3,712.5 1721.2,786.3 1722.1,708.7 1723.1,806.1 1724,711.5 1724.9,794 1725.8,716.2 1726.7,798.7 1727.6,664.9 1728.5,808.8 1729.4,721.9 1730.3,799.1 1731.3,724 1732.2,797.5 1733.1,729.9 1734,797.4 1734.9,663.6 1735.8,803.5 1736.7,733.9 1737.6,794.2 1738.5,714 1739.5,794.7 1740.4,744.2 1741.3,793.9 1742.2,743.2 1743.1,792.4 1744,737.1 1744.9,798.2 1745.8,706.1 1746.8,786.4 1747.7,721 1748.6,786.2 1749.5,719 1750.4,783.6 1751.3,684.8 1752.2,831.9 1753.1,727.4 1754,785.9 1755,694.9 1755.9,787.5 1756.8,737.4 1757.7,786.8 1758.6,730 1759.5,794.2 1760.4,739.2 1761.3,780.2 1762.2,738 1763.2,773.4 1764.1,712.7 1765,778.3 1765.9,730 1766.8,776.7 1767.7,725.4 1768.6,783.7 1769.5,720.7 1770.4,814.9 1771.4,721.8 1772.3,798.6 1773.2,721.4 1774.1,795.5 1775,716.6 1775.9,819.4 1776.8,679 1777.7,785.5 1778.7,717.8 1779.6,780.5 1780.5,690.7 1781.4,786.2 1782.3,725.6 1783.2,770.8 1784.1,727.7 1785,773 1785.9,706.9 1786.9,768.9 1787.8,729.7 1788.7,772 1789.6,733.3 1790.5,799 1791.4,728.6 1792.3,791.6 1793.2,738 1794.1,790.2 1795.1,738.2 1796,790.7 1796.9,695.5 1797.8,789.8 1798.7,717.9 1799.6,806.1 1800.5,715 1801.4,796.4 1802.4,676.9 1803.3,799.2 1804.2,725 1805.1,807.5 1806,714 1806.9,802 1807.8,721.6 1808.7,800 1809.6,717.7 1810.6,798.9 1811.5,700.8 1812.4,802.2 1813.3,709 1814.2,802.6 1815.1,706.7 1816,799.3 1816.9,694.9 1817.8,793.7 1818.8,706 1819.7,827.9 1820.6,685.4 1821.5,792.3 1822.4,701.7 1823.3,795 1824.2,701.4 1825.1,804.3 1826.1,688.8 1827,790.2 1827.9,704.5 1828.8,833.5 1829.7,704.7 1830.6,792.9 1831.5,682.7 1832.4,788.4 1833.3,720.9 1834.3,802.2 1835.2,706.1 1836.1,785.3 1837,741.7 1837.9,782 1838.8,741.4 1839.7,787.6 1840.6,736.6 1841.5,780.8 1842.5,737.2 1843.4,781.9 1844.3,734.5 1845.2,784.9 1846.1,724.7 1847,792.1 1847.9,731.1 1848.8,791.4 1849.8,698.1 1850.7,826 1851.6,719.9 1852.5,791.7 1853.4,660.2 1854.3,788.4 1855.2,710 1856.1,799.5 1857,676.9 1858,791.6 1858.9,708.2 1859.8,792.9 1860.7,722.3 1861.6,792.9 1862.5,745.8 1863.4,788.5 1864.3,740.6 1865.2,786.5 1866.2,748.9 1867.1,791.5 1868,695.5 1868.9,779.1 1869.8,731.6 1870.7,783.6 1871.6,720.6 1872.5,781.3 1873.5,714 1874.4,782.9 1875.3,717.8 1876.2,792.1 1877.1,716.4 1878,786.8 1878.9,706.1 1879.8,849.1 1880.7,684.8 1881.7,790.5 1882.6,713 1883.5,792.2 1884.4,668.4 1885.3,791.5 1886.2,717.3 1887.1,789.9 1888,692.8 1888.9,795.4 1889.9,722.2 1890.8,807.5 1891.7,724.3 1892.6,803.2 1893.5,716.7 1894.4,803.2 1895.3,743.8 1896.2,809.6 1897.2,735.3 1898.1,799.4 1899,746.2 1899.9,804.8 1900.8,698.6 1901.7,785.5 1902.6,717.5 1903.5,783 1904.4,716.5 1905.4,778.3 1906.3,720 1907.2,775.7 1908.1,679.5 1909,795.5 1909.9,727.6 1910.8,775.3 1911.7,730 1912.6,781.3 1913.6,740 1914.5,802.2 1915.4,713.2 1916.3,794.3 1917.2,744.4 1918.1,796.7 1919,737.9 1919.9,810.1 1920.9,737.4 1921.8,783.4 1922.7,704.8 1923.6,775.3 1924.5,714.4 1925.4,780.9 1926.3,696.8 1927.2,796.9 1928.1,713.1 1929.1,785.3 1930,676.9 1930.9,789.5 1931.8,707 1932.7,814.9 1933.6,704.2 1934.5,801.6 1935.4,706.1 1936.3,809.5 1937.3,648.2 1938.2,833.5 1939.1,698.3 1940,802.4 1940.9,694.4 1941.8,799.9 1942.7,683.5 1943.6,840.6 1944.6,715.5 1945.5,786.1 1946.4,703.4 1947.3,775 1948.2,732.9 1949.1,791.5 1950,727.3 1950.9,762.4 1951.8,733.1 1952.8,763.2 1953.7,661.5 1954.6,776.6 1955.5,716.2 1956.4,812.8 1957.3,718.4 1958.2,803.9 1959.1,696.8 1960,804.1 1961,726.1 1961.9,804.5 1962.8,714 1963.7,830.8 1964.6,728.3 1965.5,798.9 1966.4,721.1 1967.3,830 1968.3,686.2 1969.2,793.2 1970.1,719.4 1971,786.6 1971.9,726.2 1972.8,786.2 1973.7,699.4 1974.6,782.6 1975.5,724.7 1976.5,783.5 1977.4,738.6 1978.3,799 1979.2,743.2 1980.1,790.2 1981,745.1 1981.9,803.5 1982.8,746.6 1983.7,783.7 1984.7,736.6 1985.6,780.7 1986.5,737.8 1987.4,776.5 1988.3,734.2 1989.2,778.8 1990.1,679 1991,773.8 1992,734.9 1992.9,772.9 1993.8,737 1994.7,771.5 1995.6,706.1 1996.5,777.7 1997.4,741 1998.3,768.9 1999.2,732.6 2000.2,767.5 2001.1,742 2002,766.8 2002.9,742.1 2003.8,770.3 2004.7,742.2 2005.6,768 2006.5,726 2007.4,772.4 2008.4,738.7 2009.3,782.8 2010.2,737.1 2011.1,774.2 2012,735.2 2012.9,771.1 2013.8,708.7 2014.7,771.6 2015.7,740.3 2016.6,770.8 2017.5,732.6 2018.4,771.7 2019.3,739.4 2020.2,780 2021.1,739.2 2022,787.4 2022.9,694.1 2023.9,811.5 2024.8,724.8 2025.7,800.7 2026.6,726.8 2027.5,825.2 2028.4,727.9 2029.3,796.2 2030.2,691.5 2031.1,796.9 2032.1,732.5 2033,799.5 2033.9,728.6 2034.8,797.3 2035.7,739.3 2036.6,797.3 2037.5,739.7 2038.4,799.5 2039.3,739.3 2040.3,800.3 2041.2,723.3 2042.1,812.8 2043,726.1 2043.9,800.4 2044.8,719.7 2045.7,805.6 2046.6,704 2047.6,814.1 2048.5,710.9 2049.4,803.3 2050.3,711.8 2051.2,808.8 2052.1,666.8 2053,798.9 2053.9,706.7 2054.8,797.1 2055.8,674.2 2056.7,836.1 2057.6,708.4 2058.5,783.9 2059.4,703.4 2060.3,779.4 2061.2,714.1 2062.1,784.9 2063,714 2064,776.3 2064.9,717.3 2065.8,777.6 2066.7,688.8 2067.6,808.8 2068.5,694.5 2069.4,794.2 2070.3,660.4 2071.3,800.7 2072.2,700 2073.1,816.8 2074,704.5 2074.9,808.3 2075.8,670.3 2076.7,829.5 2077.6,703.4 2078.5,772.4 2079.5,702 2080.4,771.1 2081.3,700.7 2082.2,771.1 2083.1,694.1 2084,822.1 2084.9,698.7 2085.8,805.4 2086.7,698 2087.7,842.5 2088.6,680.9 2089.5,814.6 2090.4,698.2 2091.3,824.7 2092.2,696.9 2093.1,831.4 2094,672.9 2095,829.8 2095.9,682.5 2096.8,832.3 2097.7,666.3 2098.6,838 2099.5,672.1 2100.4,827.8 2101.3,665.7 2102.2,899 2103.2,650.4 2104.1,839 2105,664.3 2105.9,837.1 2106.8,610.5 2107.7,922.9 2108.6,671.6 2109.5,853 2110.4,672.8 2111.4,883.1 2112.3,601.8 2113.2,844.8 2114.1,655.1 2115,838.3 2115.9,663.3 2116.8,857.9 2117.7,623.8 2118.7,828.2 2119.6,683.6 2120.5,836.7 2121.4,661 2122.3,832.8 2123.2,687.6 2124.1,842.5 2125,687.1 2125.9,842.6 2126.9,681.5 2127.8,844.2 2128.7,646.4 2129.6,859.2 2130.5,672.5 2131.4,852.5 2132.3,628.6 2133.2,854.4 2134.1,665.6 2135.1,851.3 2136,673.2 2136.9,879.6 2137.8,679.5 2138.7,847.7 2139.6,641.6 2140.5,851.4 2141.4,665.2 2142.4,875.1 2143.3,661 2144.2,835 2145.1,665.6 2146,826.8 2146.9,668.5 2147.8,835.3 2148.7,654.3 2149.6,804.4 2150.6,678.1 2151.5,795.2 2152.4,697 2153.3,791.3 2154.2,698.1 2155.1,805.3 2156,746.1 2156.9,773 2157.8,753.3 2158.8,768.6 2159.7,747.2 2160.6,770.3 2161.5,751.2 2162.4,768.9 2163.3,747.4 2164.2,778.3 2165.1,736.6 2166.1,773 2167,739.7 2167.9,782.8 2168.8,714 2169.7,779.3 2170.6,698.6 2171.5,788.7 2172.4,671.6 2173.3,828.7 2174.3,688.9 2175.2,808.4 2176.1,685.6 2177,820.4 2177.9,679.9 2178.8,881 2179.7,662.3 2180.6,833.3 2181.5,686.9 2182.5,857.9 2183.4,687.8 2184.3,813.7 2185.2,666.3 2186.1,805.2 2187,684.9 2187.9,810.1 2188.8,690.6 2189.8,806.3 2190.7,650.4 2191.6,808.6 2192.5,696.4 2193.4,814.1 2194.3,697.3 2195.2,806.4 2196.1,690.2 2197,803.8 2198,698.1 2198.9,820.7 2199.8,701.2 2200.7,799.5 2201.6,695.5 2202.5,793.2 2203.4,705.1 2204.3,804.8 2205.2,701.5 2206.2,789.9 2207.1,684.8 2208,790.2 2208.9,704.9 2209.8,789.2 2210.7,706.5 2211.6,798.2 2212.5,690.7 2213.5,836.7 2214.4,697 2215.3,819.1 2216.2,691.7 2217.1,825.2 2218,685.5 2218.9,836.7 2219.8,664.2 2220.7,820.5 2221.7,679 2222.6,828 2223.5,677.3 2224.4,850.5 2225.3,668.4 2226.2,818.2 2227.1,685 2228,795.2 2228.9,702.6 2229.9,831.4 2230.8,699.4 2231.7,787.4 2232.6,727.7 2233.5,791.5 2234.4,727.6 2235.3,788.6 2236.2,728.4 2237.2,790.8 2238.1,713.5 2239,792.8 2239.9,722.3 2240.8,801.6 2241.7,707.4 2242.6,800.9 2243.5,718.2 2244.4,826 2245.4,716.4 2246.3,800.3 2247.2,714.8 2248.1,793.5 2249,661 2249.9,808.8 2250.8,709.5 2251.7,781.9 2252.6,705.6 2253.6,791.5 2254.5,692.8 2255.4,785 2256.3,720.2 2257.2,803.5 2258.1,718.8 2259,795.5 2259.9,706.1 2260.9,828.7 2261.8,721.1 2262.7,810.2 2263.6,720 2264.5,799.5 2265.4,715.4 2266.3,823.9 2267.2,710.8 2268.1,778.1 2269.1,683.5 2270,774.4 2270.9,704.3 2271.8,779.6 2272.7,656.2 2273.6,777.7 2274.5,714.4 2275.4,783.8 2276.3,698.6 2277.3,800 2278.2,729.7 2279.1,798.2 2280,733.5 2280.9,814.1 2281.8,724.7 2282.7,786.9 2283.6,729.2 2284.6,804.8 2285.5,729.1 2286.4,776.4 2287.3,728.2 2288.2,772.2 2289.1,713.5 2290,775.6 2290.9,723.5 2291.8,773.5 2292.8,721.1 2293.7,781.8 2294.6,714.6 2295.5,790.1 2296.4,715.6 2297.3,806.1 2298.2,710.1 2299.1,804.9 2300,718.3 2301,836.7 2301.9,720 2302.8,805.6 2303.7,686.2 2304.6,807.8 2305.5,709.9 2306.4,828.7 2307.3,705.8 2308.3,807.1 2309.2,700 2310.1,803 2311,672.9 2311.9,842 2312.8,693.8 2313.7,807.3 2314.6,691.6 2315.5,811.6 2316.5,679 2317.4,822.1 2318.3,690.2 2319.2,811.2 2320.1,693.3 2321,810.1 2321.9,696.2 2322.8,824.2 2323.7,700.7 2324.7,800.7 2325.6,702 2326.5,792.4 2327.4,698.1 2328.3,792.1 2329.2,709.9 2330.1,781.9 2331,716.7 2331.9,777.3 2332.9,722.8 2333.8,772.6 2334.7,718 2335.6,774.3 2336.5,727.5 2337.4,760.1 2338.3,727.9 2339.2,757.9 2340.2,723.3 2341.1,759.7 2342,729 2342.9,760.9 2343.8,730 2344.7,784.9 2345.6,726 2346.5,772.4 2347.4,734.4 2348.4,776 2349.3,734.3 2350.2,780.4 2351.1,730 2352,785.4 2352.9,734.8 2353.8,780.7 2354.7,738.9 2355.6,780.2 2356.6,702.9 2357.5,779.5 2358.4,742.5 2359.3,803.2"/>
<path class="k" d="M1426.5,941.5 v15 M1609.5,941.5 v15 M1791.5,941.5 v15 M1973.5,941.5 v15 M2156.5,941.5 v15 M2338.5,941.5 v15 M1380.5,758.5 h-15 M1380.5,931.5 h-15"/>
<rect class="k" x="1380.5" y="585.5" width="1025" height="356"/>
<text class="x" transform="translate(1426.5,1003.2) scale(0.94,1)">0</text>
<text class="x" transform="translate(1609.5,1003.2) scale(0.94,1)">200</text>
<text class="x" transform="translate(1791.5,1003.2) scale(0.94,1)">400</text>
<text class="x" transform="translate(1973.5,1003.2) scale(0.94,1)">600</text>
<text class="x" transform="translate(2156.5,1003.2) scale(0.94,1)">800</text>
<text class="x" transform="translate(2338.5,1003.2) scale(0.94,1)">1000</text>
<text class="y" transform="translate(1350.6,774.5) scale(0.94,1)">0.0</text>
<text class="y" transform="translate(1350.6,947.5) scale(0.94,1)">−0.5</text>
<text class="t" transform="translate(1893.1,560.8) scale(0.957,1)">de_7_ball</text>
</g>
<g>
<path class="s" d="M2657.7,766.1 2658.6,780.9 2659.5,748.8 2660.4,777.4 2661.3,733.1 2662.2,788.9 2663.2,748.1 2664.1,781.5 2665,749.5 2665.9,785.4 2666.8,741.9 2667.7,799.5 2668.6,750.2 2669.5,777.7 2670.4,751.3 2671.4,784.9 2672.3,743.8 2673.2,773.9 2674.1,755.5 2675,772.5 2675.9,757.6 2676.8,773 2677.7,758.2 2678.6,771.2 2679.6,758.7 2680.5,771.4 2681.4,749.9 2682.3,771.2 2683.2,759.8 2684.1,771.6 2685,760 2685.9,772.4 2686.9,753.8 2687.8,771.6 2688.7,758.9 2689.6,773 2690.5,759.1 2691.4,778.3 2692.3,758.5 2693.2,777.5 2694.1,745.9 2695.1,780.2 2696,756 2696.9,792.1 2697.8,753.4 2698.7,782.8 2699.6,752.5 2700.5,779.9 2701.4,752.6 2702.3,787 2703.3,740.6 2704.2,774.9 2705.1,760.4 2706,779.6 2706.9,752.5 2707.8,770.1 2708.7,763.6 2709.6,770.4 2710.6,759.2 2711.5,775.1 2712.4,763.5 2713.3,771.4 2714.2,763.4 2715.1,772.1 2716,731.3 2716.9,839.3 2717.8,747.5 2718.8,808.9 2719.7,675.6 2720.6,867.2 2721.5,706.5 2722.4,822.6 2723.3,618.5 2724.2,818.6 2725.1,700.6 2726,891.9 2727,707.4 2727.9,794.1 2728.8,671 2729.7,804.8 2730.6,715.4 2731.5,803.9 2732.4,696.8 2733.3,798.4 2734.3,719.2 2735.2,853.9 2736.1,680.1 2737,817.6 2737.9,725.5 2738.8,839.3 2739.7,704.8 2740.6,805.8 2741.5,726.2 2742.5,815.4 2743.4,707.4 2744.3,795.6 2745.2,744.3 2746.1,801.6 2747,745.6 2747.9,778.9 2748.8,739.2 2749.7,777.8 2750.7,748 2751.6,785.4 2752.5,750 2753.4,780.9 2754.3,735.8 2755.2,779.8 2756.1,752.3 2757,779.5 2758,753.1 2758.9,783.6 2759.8,747.2 2760.7,780.3 2761.6,756.8 2762.5,781.9 2763.4,758.6 2764.3,782.8 2765.2,757.8 2766.2,777.3 2767.1,760 2768,783.6 2768.9,747.2 2769.8,772.3 2770.7,757.8 2771.6,771.4 2772.5,758.6 2773.4,771.4 2774.4,759.7 2775.3,771.6 2776.2,760.8 2777.1,772.6 2778,753.8 2778.9,774.2 2779.8,762.8 2780.7,783.1 2781.7,763.5 2782.6,771.3 2783.5,763.2 2784.4,769.4 2785.3,757.8 2786.2,768.7 2787.1,763.5 2788,769 2788.9,763.3 2789.9,768.5 2790.8,763.3 2791.7,768.5 2792.6,763.1 2793.5,768.9 2794.4,752.5 2795.3,774.3 2796.2,761.8 2797.1,770.1 2798.1,760.9 2799,770.1 2799.9,760.5 2800.8,771.1 2801.7,761 2802.6,775.6 2803.5,761.4 2804.4,772.4 2805.4,749.1 2806.3,771.2 2807.2,762.9 2808.1,771.6 2809,751.7 2809.9,769.3 2810.8,763.6 2811.7,768.8 2812.6,763.7 2813.6,769 2814.5,763.5 2815.4,768.8 2816.3,732.6 2817.2,769.4 2818.1,747.6 2819,811.5 2819.9,737.8 2820.8,799 2821.8,676.9 2822.7,802.1 2823.6,704.2 2824.5,837.5 2825.4,671 2826.3,809.5 2827.2,695.5 2828.1,831.4 2829.1,672.9 2830,814.7 2830.9,741.9 2831.8,814.3 2832.7,732.6 2833.6,812.6 2834.5,744.3 2835.4,823.9 2836.3,702.1 2837.3,805.6 2838.2,720.5 2839.1,793.7 2840,718.4 2840.9,817.6 2841.8,700 2842.7,794.2 2843.6,739.1 2844.5,810.1 2845.5,740 2846.4,779.3 2847.3,730.8 2848.2,786.8 2849.1,751.2 2850,774.6 2850.9,755.6 2851.8,774.1 2852.8,748.5 2853.7,777 2854.6,754 2855.5,772.9 2856.4,753.9 2857.3,775.8 2858.2,753.6 2859.1,792.1 2860,749.9 2861,771.5 2861.9,753.6 2862.8,775.6 2863.7,753.9 2864.6,769.7 2865.5,748.5 2866.4,769.6 2867.3,755.1 2868.2,768.9 2869.2,756.9 2870.1,773.5 2871,749.1 2871.9,768.7 2872.8,760 2873.7,768.5 2874.6,762.4 2875.5,769 2876.5,763.2 2877.4,768.3 2878.3,759.2 2879.2,769.7 2880.1,764.2 2881,780.4 2881.9,764.4 2882.8,773.9 2883.7,745.1 2884.7,773 2885.6,763.1 2886.5,777 2887.4,763 2888.3,771.4 2889.2,759.2 2890.1,770.5 2891,762.3 2891.9,769.6 2892.9,761.8 2893.8,770.3 2894.7,755.2 2895.6,768.7 2896.5,761.3 2897.4,769.3 2898.3,761.3 2899.2,770.8 2900.2,756 2901.1,778.3 2902,762 2902.9,772.8 2903.8,763 2904.7,774.4 2905.6,751.7 2906.5,780.9 2907.4,761.3 2908.4,773.8 2909.3,762 2910.2,772 2911.1,756 2912,775.6 2912.9,763.6 2913.8,770.4 2914.7,763.4 2915.6,770.3 2916.6,763.4 2917.5,769.6 2918.4,724.7 2919.3,799.9 2920.2,741.7 2921.1,860.5 2922,719.1 2922.9,844.6 2923.9,621.2 2924.8,913.6 2925.7,668.1 2926.6,839.6 2927.5,623.3 2928.4,869 2929.3,683.9 2930.2,829.8 2931.1,645 2932.1,835.3 2933,720.6 2933.9,833.6 2934.8,714 2935.7,860.5 2936.6,724.9 2937.5,846.3 2938.4,658.8 2939.3,848.9 2940.3,676.5 2941.2,872.5 2942.1,646.4 2943,829.3 2943.9,702.8 2944.8,855.2 2945.7,690.2 2946.6,792.7 2947.5,745.3 2948.5,804.8 2949.4,743.2 2950.3,781.2 2951.2,733.9 2952.1,778.1 2953,743.2 2953.9,783.6 2954.8,744.8 2955.8,777.4 2956.7,739.2 2957.6,781.2 2958.5,745.9 2959.4,781 2960.3,746.6 2961.2,783.6 2962.1,748 2963,781.3 2964,748.3 2964.9,782.2 2965.8,744.6 2966.7,796.9 2967.6,755.1 2968.5,786 2969.4,756.5 2970.3,798.2 2971.2,755.8 2972.2,778.5 2973.1,728.6 2974,779.6 2974.9,758.2 2975.8,782.3 2976.7,747.2 2977.6,779.9 2978.5,758.9 2979.5,778.8 2980.4,759.1 2981.3,784.9 2982.2,756.5 2983.1,776.1 2984,758.2 2984.9,773.2 2985.8,757.7 2986.7,778.3 2987.7,751.2 2988.6,770.2 2989.5,757.9 2990.4,771.6 2991.3,757.5 2992.2,769.4 2993.1,756.6 2994,768.7 2994.9,751.2 2995.9,770.3 2996.8,761.2 2997.7,772.3 2998.6,764.3 2999.5,775 3000.4,759.2 3001.3,784.4 3002.2,765.5 3003.2,776.6 3004.1,765.1 3005,778.3 3005.9,743.2 3006.8,773 3007.7,760.3 3008.6,771.6 3009.5,758.7 3010.4,771.6 3011.4,747.2 3012.3,771.6 3013.2,763 3014.1,771.5 3015,765.6 3015.9,771.1 3016.8,763.1 3017.7,773 3018.6,765.6 3019.6,771 3020.5,732.6 3021.4,844.6 3022.3,744.8 3023.2,800.9 3024.1,638.4 3025,825.4 3025.9,652 3026.9,888.4 3027.8,625.1 3028.7,836.8 3029.6,674.1 3030.5,924.2 3031.4,627 3032.3,831.8 3033.2,732.3 3034.1,879.1 3035.1,728.9 3036,819.8 3036.9,708.7 3037.8,845.9 3038.7,719.6 3039.6,840.2 3040.5,654.9 3041.4,877 3042.3,688.8 3043.3,842.4 3044.2,700.2 3045.1,834.7 3046,661.5 3046.9,852.6 3047.8,700.2 3048.7,821.6 3049.6,731 3050.6,835.3 3051.5,713.2 3052.4,792.3 3053.3,748.7 3054.2,802.2 3055.1,747.9 3056,779.4 3056.9,737.4 3057.8,786.2 3058.8,742.8 3059.7,780.4 3060.6,740 3061.5,797.4 3062.4,743.8 3063.3,784.5 3064.2,744.5 3065.1,782 3066,739.8 3067,790.2 3067.9,745.9 3068.8,777.9 3069.7,746.7 3070.6,779.5 3071.5,738.5 3072.4,783.6 3073.3,748.8 3074.3,777.5 3075.2,741.1 3076.1,775 3077,758.4 3077.9,777 3078.8,762.2 3079.7,774.2 3080.6,756.5 3081.5,773.3 3082.5,763.1 3083.4,772.3 3084.3,761.8 3085.2,779.6 3086.1,745.9 3087,770.5 3087.9,758.8 3088.8,770 3089.7,757.4 3090.7,771.6 3091.6,752.5 3092.5,769.9 3093.4,759.3 3094.3,770.2 3095.2,760.6 3096.1,777 3097,762 3098,773.9 3098.9,759.2 3099.8,775.4 3100.7,762.3 3101.6,780.9 3102.5,763.2 3103.4,776.2 3104.3,747.7 3105.2,775.6 3106.2,756.3 3107.1,776.7 3108,738.5 3108.9,782.3 3109.8,753 3110.7,776.3 3111.6,755 3112.5,774.7 3113.4,748.5 3114.4,773 3115.3,760.3 3116.2,775.6 3117.1,760.2 3118,772.6 3118.9,756.5 3119.8,771.9 3120.7,762 3121.7,774.2 3122.6,734.5 3123.5,799.5 3124.4,746.9 3125.3,793 3126.2,696.8 3127.1,805.9 3128,720.4 3128.9,869 3129.9,666.3 3130.8,829.4 3131.7,722.8 3132.6,836.7 3133.5,718 3134.4,809.6 3135.3,722.4 3136.2,815.4 3137.1,722 3138.1,804.8 3139,714 3139.9,803.8 3140.8,722.7 3141.7,803.8 3142.6,723.3 3143.5,814.6 3144.4,724.1 3145.4,793.8 3146.3,718 3147.2,794.4 3148.1,740.5 3149,809.6 3149.9,731.3 3150.8,776.1 3151.7,745.4 3152.6,786.2 3153.6,747.2 3154.5,779.9 3155.4,743.8 3156.3,778 3157.2,750.7 3158.1,777.2 3159,751.2 3159.9,780.4 3160.8,754.7 3161.8,774.7 3162.7,757.7 3163.6,773.9 3164.5,759 3165.4,775.6 3166.3,758.8 3167.2,774.2 3168.1,755.2 3169.1,773.9 3170,758.9 3170.9,773.3 3171.8,759.7 3172.7,772 3173.6,758.7 3174.5,771.8 3175.4,746.4 3176.3,774.8 3177.3,762.7 3178.2,771.5 3179.1,764.8 3180,770.9 3180.9,761.8 3181.8,773 3182.7,765 3183.6,769.6 3184.5,754.4 3185.5,768.9 3186.4,765.1 3187.3,768.4 3188.2,765 3189.1,774.3 3190,757.8 3190.9,767.3 3191.8,764.8 3192.8,767.4 3193.7,764.9 3194.6,767.7 3195.5,765.2 3196.4,767.5 3197.3,761.8 3198.2,768.7 3199.1,765.1 3200,771.6 3201,763.7 3201.9,771.8 3202.8,761.6 3203.7,772.4 3204.6,756.5 3205.5,772.8 3206.4,757.6 3207.3,775.8 3208.2,756.5 3209.2,783.6 3210.1,744.6 3211,772.9 3211.9,755 3212.8,772.9 3213.7,755 3214.6,775.6 3215.5,756.5 3216.4,771.8 3217.4,751.2 3218.3,771.7 3219.2,763.6 3220.1,771.6 3221,759.2 3221.9,770.1 3222.8,763.1 3223.7,774.2 3224.7,743.2 3225.6,830 3226.5,759.2 3227.4,809.6 3228.3,672.9 3229.2,820.2 3230.1,710.6 3231,907 3231.9,612.4 3232.9,838.8 3233.8,701.3 3234.7,891.1 3235.6,663.6 3236.5,817.1 3237.4,720.1 3238.3,831.4 3239.2,711.4 3240.1,824.4 3241.1,710.9 3242,843.3 3242.9,692.8 3243.8,830.1 3244.7,705.3 3245.6,849.9 3246.5,702.1 3247.4,838.7 3248.4,675 3249.3,859.2 3250.2,712.4 3251.1,801.4 3252,704 3252.9,791.3 3253.8,741.8 3254.7,807.5 3255.6,737.9 3256.6,776.2 3257.5,746.1 3258.4,778.3 3259.3,748.6 3260.2,774.5 3261.1,751.5 3262,786.2 3262.9,743.2 3263.8,776.8 3264.8,757.7 3265.7,776.8 3266.6,753.8 3267.5,782.3 3268.4,756 3269.3,776.3 3270.2,755.7 3271.1,776.6 3272.1,745.9 3273,779.6 3273.9,755.1 3274.8,776.4 3275.7,756.5 3276.6,776.2 3277.5,758.7 3278.4,776.1 3279.3,749.9 3280.3,776.5 3281.2,763.3 3282.1,777.4 3283,759.2 3283.9,782.3 3284.8,764.5 3285.7,776.6 3286.6,749.9 3287.5,776.7 3288.5,763.6 3289.4,783.6 3290.3,760.5 3291.2,776.1 3292.1,759 3293,774.3 3293.9,747.2 3294.8,775.6 3295.8,759.8 3296.7,773.2 3297.6,761.8 3298.5,773.3 3299.4,756.5 3300.3,775 3301.2,762.4 3302.1,782.3 3303,759.2 3304,777.4 3304.9,763.4 3305.8,777.2 3306.7,760.4 3307.6,783.6 3308.5,744.6 3309.4,772.9 3310.3,754.3 3311.2,772.2 3312.2,741.1 3313.1,777 3314,756.5 3314.9,772.3 3315.8,761.1 3316.7,772.3 3317.6,759.2 3318.5,773 3319.5,763.1 3320.4,772.9 3321.3,761.8 3322.2,774 3323.1,763.6 3324,778.3 3324.9,764.1 3325.8,775.9 3326.7,734.7 3327.7,832.7 3328.6,747.6 3329.5,831 3330.4,678.2 3331.3,901.7 3332.2,708.3 3333.1,875.5 3334,604.4 3334.9,868.7 3335.9,705.1 3336.8,914.1 3337.7,641.9 3338.6,806.3 3339.5,721.6 3340.4,812.8 3341.3,708.2 3342.2,809.1 3343.2,717.2 3344.1,841.4 3345,722.5 3345.9,828.4 3346.8,696.8 3347.7,839.3 3348.6,717.4 3349.5,816 3350.4,690.7 3351.4,845.9 3352.3,715.1 3353.2,811.2 3354.1,692.8 3355,808.4 3355.9,733.2 3356.8,817.6 3357.7,719.3 3358.6,778 3359.6,754.9 3360.5,783.6 3361.4,745.9 3362.3,776.6 3363.2,755.3 3364.1,784.9 3365,755.2 3365.9,777.6 3366.9,752.5 3367.8,784.9 3368.7,756.3 3369.6,776.8 3370.5,756.4 3371.4,775.6 3372.3,748.5 3373.2,776.3 3374.1,755.9 3375.1,778.3 3376,752.6 3376.9,775.3 3377.8,741.1 3378.7,775.4 3379.6,753.5 3380.5,775.4 3381.4,748.5 3382.3,783.6 3383.3,759.4 3384.2,773.2 3385.1,760.9 3386,775.6 3386.9,759.6 3387.8,769.9 3388.7,755.2 3389.6,768.8 3390.6,758 3391.5,770.3 3392.4,757.4 3393.3,768.8 3394.2,754.4 3395.1,768.5 3396,758.3 3396.9,769.4 3397.8,757.4 3398.8,778.3 3399.7,756.1 3400.6,771.2 3401.5,745.9 3402.4,771.9 3403.3,753.9 3404.2,773.7 3405.1,753.1 3406,780.9 3407,741.9 3407.9,776.3 3408.8,750 3409.7,776.8 3410.6,750 3411.5,784.9 3412.4,752.4 3413.3,776.7 3414.3,744.6 3415.2,774.5 3416.1,758.7 3417,774.3 3417.9,756.5 3418.8,772.2 3419.7,759.2 3420.6,772 3421.5,760.5 3422.5,778.3 3423.4,745.9 3424.3,773.6 3425.2,757.4 3426.1,775 3427,735.3 3427.9,828.7 3428.8,738.9 3429.7,815.7 3430.7,687.5 3431.6,884.4 3432.5,692.4 3433.4,858.3 3434.3,601.3 3435.2,847.8 3436.1,692 3437,902.5 3438,663.6 3438.9,813 3439.8,707.9 3440.7,828.7 3441.6,692.8 3442.5,819.7 3443.4,713 3444.3,860 3445.2,709 3446.2,833 3447.1,683.5 3448,856.6 3448.9,707.1 3449.8,828.2 3450.7,672.1 3451.6,830.9 3452.5,708.7 3453.4,855.8 3454.4,670.8 3455.3,797.1 3456.2,741 3457.1,822.1 3458,724.7 3458.9,792.3 3459.8,741.4 3460.7,787.7 3461.7,735.3 3462.6,792.1 3463.5,740.1 3464.4,785.7 3465.3,740.9 3466.2,786.2 3467.1,743.2 3468,784.5 3468.9,746.7 3469.9,785.6 3470.8,746.4 3471.7,786.3 3472.6,741.9 3473.5,786.9 3474.4,742.1 3475.3,783.8 3476.2,739.8 3477.1,779.4 3478.1,749.6 3479,784.9 3479.9,749.9 3480.8,782.4 3481.7,737.4 3482.6,782.7 3483.5,752.4 3484.4,787.6 3485.3,756.2 3486.3,774.7 3487.2,751.2 3488.1,777 3489,758.3 3489.9,774.2 3490.8,758.7 3491.7,775 3492.6,757.9 3493.6,780.9 3494.5,752.5 3495.4,774 3496.3,759.4 3497.2,773.3 3498.1,759.3 3499,771.2 3499.9,758.5 3500.8,775.6 3501.8,753.3 3502.7,770.4 3503.6,759.2 3504.5,769.2 3505.4,759.9 3506.3,769.9 3507.2,759.8 3508.1,771.6 3509,756.5 3510,771.1 3510.9,759.5 3511.8,770.9 3512.7,760.7 3513.6,778.3 3514.5,753.3 3515.4,770.2 3516.3,761.1 3517.3,770.7 3518.2,761.4 3519.1,773 3520,756.5 3520.9,770.8 3521.8,764.9 3522.7,770.6 3523.6,765.7 3524.5,771.6 3525.5,761.8 3526.4,771.1 3527.3,765.4 3528.2,799.5 3529.1,748.5 3530,780.9 3530.9,755.3 3531.8,790.9 3532.7,721.5 3533.7,792.8 3534.6,735.8 3535.5,828.7 3536.4,723.3 3537.3,788.9 3538.2,742.3 3539.1,788.9 3540,735.3 3541,804.3 3541.9,747.2 3542.8,788.8 3543.7,747.2 3544.6,786.4 3545.5,744.6 3546.4,784.6 3547.3,747.6 3548.2,795 3549.2,727.3 3550.1,778 3551,743.2 3551.9,777.4 3552.8,735.8 3553.7,788.9 3554.6,752 3555.5,772.4 3556.4,757 3557.4,769.1 3558.3,748.5 3559.2,770.3 3560.1,761.8 3561,768.6 3561.9,759.2 3562.8,768.5 3563.7,761.8 3564.7,773 3565.6,761.5 3566.5,769.2 3567.4,761 3568.3,769.4 3569.2,760.8 3570.1,774.8 3571,761.1 3571.9,770.6 3572.9,761.2 3573.8,771.1 3574.7,759.2 3575.6,773 3576.5,762 3577.4,770.7 3578.3,763.2 3579.2,770.9 3580.1,756.5 3581.1,771.3 3582,764.8 3582.9,771.1 3583.8,766 3584.7,772 3585.6,761.8 3586.5,772.7 3587.4,767.9 3588.4,777 3589.3,768.2 3590.2,766.1"/>
<path class="k" d="M2657.5,941.5 v15 M2839.5,941.5 v15 M3022.5,941.5 v15 M3204.5,941.5 v15 M3386.5,941.5 v15 M3569.5,941.5 v15 M2611.5,655.5 h-15 M2611.5,766.5 h-15 M2611.5,878.5 h-15"/>
<rect class="k" x="2611.5" y="585.5" width="1025" height="356"/>
<text class="x" transform="translate(2657.5,1003.2) scale(0.94,1)">0</text>
<text class="x" transform="translate(2839.5,1003.2) scale(0.94,1)">200</text>
<text class="x" transform="translate(3022.5,1003.2) scale(0.94,1)">400</text>
<text class="x" transform="translate(3204.5,1003.2) scale(0.94,1)">600</text>
<text class="x" transform="translate(3386.5,1003.2) scale(0.94,1)">800</text>
<text class="x" transform="translate(3569.5,1003.2) scale(0.94,1)">1000</text>
<text class="y" transform="translate(2581.5,671.5) scale(0.94,1)">2</text>
<text class="y" transform="translate(2581.5,782.5) scale(0.94,1)">0</text>
<text class="y" transform="translate(2581.5,894.5) scale(0.94,1)">−2</text>
<text class="t" transform="translate(3123.9,560.8) scale(0.957,1)">de_7_outer</text>
</g>
<g>
<path class="s" d="M195.9,1296.2 196.8,1292.7 197.7,1234.9 198.7,1292.3 199.6,1246.7 200.5,1295.2 201.4,1245.5 202.3,1292.6 203.2,1247.3 204.1,1300.5 205,1228.3 206,1286.5 206.9,1249.4 207.8,1280.8 208.7,1256.4 209.6,1283.2 210.5,1234.9 211.4,1281.4 212.3,1259.8 213.2,1281.9 214.2,1253.5 215.1,1295.2 216,1259.3 216.9,1285.7 217.8,1223.5 218.7,1297.8 219.6,1246.5 220.5,1281.4 221.4,1234.9 222.4,1279.3 223.3,1258.4 224.2,1280.6 225.1,1259.1 226,1278.8 226.9,1258.8 227.8,1278.9 228.7,1260.2 229.7,1295.2 230.6,1240.8 231.5,1276.3 232.4,1253.3 233.3,1280.6 234.2,1251.8 235.1,1277.4 236,1244.2 236.9,1278 237.9,1252.7 238.8,1277.9 239.7,1245.5 240.6,1276.1 241.5,1256 242.4,1277.5 243.3,1256.1 244.2,1288.5 245.1,1249.5 246.1,1285.7 247,1254.7 247.9,1303.7 248.8,1253.5 249.7,1283.4 250.6,1257.3 251.5,1283 252.4,1245.5 253.4,1285.9 254.3,1255.6 255.2,1283.7 256.1,1227.8 257,1289.9 257.9,1259 258.8,1280.4 259.7,1256.2 260.6,1279.3 261.6,1259.7 262.5,1281.9 263.4,1258 264.3,1280.2 265.2,1250.8 266.1,1278.1 267,1254.4 267.9,1286.4 268.8,1245.5 269.8,1270.8 270.7,1254.9 271.6,1274 272.5,1257.9 273.4,1271.9 274.3,1256.2 275.2,1271.8 276.1,1259.1 277.1,1272.7 278,1259.5 278.9,1272.9 279.8,1254.8 280.7,1272.4 281.6,1262.4 282.5,1273.2 283.4,1256.2 284.3,1273.3 285.3,1265.7 286.2,1274.2 287.1,1268.7 288,1273.9 288.9,1266.8 289.8,1277.1 290.7,1270.5 291.6,1271.9 292.5,1270.5 293.5,1271.2 294.4,1265.4 295.3,1270.2 296.2,1268.7 297.1,1272.6 298,1252.2 298.9,1267.9 299.8,1263.5 300.8,1266.7 301.7,1250.8 302.6,1267.3 303.5,1260.5 304.4,1266.3 305.3,1258.8 306.2,1266.7 307.1,1260.9 308,1279.3 309,1221.7 309.9,1346.9 310.8,1225.6 311.7,1304.1 312.6,1177.1 313.5,1324.7 314.4,1185.9 315.3,1394.2 316.2,1173.1 317.2,1288.9 318.1,1219.4 319,1304.5 319.9,1222.8 320.8,1294.3 321.7,1209.7 322.6,1320.4 323.5,1215.4 324.4,1300.7 325.4,1200.4 326.3,1310.8 327.2,1236.5 328.1,1326.5 329,1234.9 329.9,1280.8 330.8,1264.1 331.7,1283.2 332.7,1265 333.6,1277.7 334.5,1258.8 335.4,1275.1 336.3,1264.6 337.2,1280.6 338.1,1256.2 339,1271.3 339.9,1260.5 340.9,1272.6 341.8,1258.4 342.7,1270.5 343.6,1251.4 344.5,1269.7 345.4,1257.5 346.3,1270.1 347.2,1257.9 348.1,1279.3 349.1,1249.5 350,1268.5 350.9,1257.8 351.8,1266.6 352.7,1257.5 353.6,1268.6 354.5,1262.8 355.4,1268 356.4,1264.4 357.3,1272.6 358.2,1261.5 359.1,1268.5 360,1264.3 360.9,1268.5 361.8,1264.5 362.7,1268.5 363.6,1255.4 364.6,1268.6 365.5,1262.4 366.4,1268.8 367.3,1261.1 368.2,1271.3 369.1,1256.2 370,1269.8 370.9,1261.1 371.8,1282.4 372.8,1260.1 373.7,1274.9 374.6,1262.9 375.5,1272.5 376.4,1261.8 377.3,1274 378.2,1255.4 379.1,1271.3 380.1,1261.9 381,1271.3 381.9,1261.5 382.8,1275.3 383.7,1254 384.6,1271.5 385.5,1261.7 386.4,1272.5 387.3,1262 388.3,1272.6 389.2,1257.5 390.1,1271.8 391,1261.7 391.9,1271.7 392.8,1261.9 393.7,1271.4 394.6,1260.1 395.5,1277.9 396.5,1261.8 397.4,1271.8 398.3,1259.4 399.2,1271.9 400.1,1243.4 401,1274 401.9,1259.6 402.8,1272.9 403.8,1263.3 404.7,1272.7 405.6,1261.5 406.5,1274.7 407.4,1263.5 408.3,1273.5 409.2,1263.8 410.1,1274.2 411,1257.5 412,1277.9 412.9,1261.4 413.8,1275.3 414.7,1260.2 415.6,1276 416.5,1254 417.4,1274.1 418.3,1260.6 419.2,1281.9 420.2,1260.4 421.1,1267.3 422,1260.3 422.9,1268.3 423.8,1260.7 424.7,1268.6 425.6,1256.2 426.5,1267.8 427.5,1261.8 428.4,1270 429.3,1262.5 430.2,1269.8 431.1,1254.8 432,1270.8 432.9,1264.1 433.8,1271.7 434.7,1264.4 435.7,1278.7 436.6,1261.5 437.5,1271.8 438.4,1262 439.3,1270.6 440.2,1256.9 441.1,1272.6 442,1255.9 442.9,1269.1 443.9,1253 444.8,1270 445.7,1244.7 446.6,1267.1 447.5,1253.3 448.4,1281.9 449.3,1245.5 450.2,1273.3 451.2,1257.1 452.1,1277.4 453,1249.5 453.9,1278.8 454.8,1259.4 455.7,1288 456.6,1258.8 457.5,1280.2 458.4,1263.1 459.4,1281.4 460.3,1253.5 461.2,1282.1 462.1,1262.2 463,1287.2 463.9,1259.8 464.8,1276.5 465.7,1259.1 466.6,1274.7 467.6,1259.7 468.5,1279.3 469.4,1259.8 470.3,1273.7 471.2,1256.2 472.1,1272.4 473,1259.3 473.9,1280.6 474.9,1249.5 475.8,1271 476.7,1259.7 477.6,1271.3 478.5,1260 479.4,1270.8 480.3,1258.8 481.2,1271.2 482.1,1261.6 483.1,1283.2 484,1262.7 484.9,1280 485.8,1254.8 486.7,1297.3 487.6,1258.7 488.5,1282.8 489.4,1256.5 490.3,1288.5 491.3,1246.9 492.2,1278.2 493.1,1258.6 494,1275.9 494.9,1250.8 495.8,1280.6 496.7,1259.8 497.6,1269.5 498.6,1260 499.5,1270 500.4,1258.8 501.3,1268.8 502.2,1260.1 503.1,1268.9 504,1259.9 504.9,1274 505.8,1253.5 506.8,1269.6 507.7,1259.2 508.6,1270.7 509.5,1253.5 510.4,1276.6 511.3,1258.9 512.2,1272 513.1,1258.8 514,1271.4 515,1256.2 515.9,1275.3 516.8,1258.7 517.7,1272.9 518.6,1259.4 519.5,1274.8 520.4,1240.8 521.3,1281.9 522.3,1250.8 523.2,1274.4 524.1,1240.8 525,1276.7 525.9,1261.3 526.8,1300 527.7,1264.4 528.6,1289.7 529.5,1258.8 530.5,1287.7 531.4,1263 532.3,1298.4 533.2,1256.2 534.1,1275.9 535,1259.3 535.9,1277.9 536.8,1252.2 537.7,1273.3 538.7,1263.2 539.6,1279.3 540.5,1261.5 541.4,1270.4 542.3,1263.4 543.2,1269.6 544.1,1263.3 545,1270 546,1250.8 546.9,1268.4 547.8,1261.2 548.7,1273.2 549.6,1256.2 550.5,1270.9 551.4,1262.9 552.3,1272.1 553.2,1264.5 554.2,1278.7 555.1,1262.8 556,1273.1 556.9,1265 557.8,1272.3 558.7,1265 559.6,1274 560.5,1263.5 561.4,1269.4 562.4,1254 563.3,1268.9 564.2,1265.2 565.1,1270 566,1265.6 566.9,1267.7 567.8,1264.1 568.7,1267.1 569.7,1265.1 570.6,1267 571.5,1263.8 572.4,1267.3 573.3,1251.4 574.2,1266.1 575.1,1259.1 576,1275.3 576.9,1258 577.9,1271.1 578.8,1256.2 579.7,1273.2 580.6,1257.8 581.5,1284.6 582.4,1234.9 583.3,1276.8 584.2,1256.9 585.1,1281 586.1,1253.5 587,1290.7 587.9,1257 588.8,1278.1 589.7,1249.5 590.6,1280.6 591.5,1266.3 592.4,1275.5 593.3,1264.1 594.3,1274.1 595.2,1265.3 596.1,1276.6 597,1250 597.9,1274.4 598.8,1261.2 599.7,1274.3 600.6,1262.1 601.6,1274.6 602.5,1258.8 603.4,1274 604.3,1261.5 605.2,1273.7 606.1,1250 607,1273.4 607.9,1260.5 608.8,1274.2 609.8,1262.7 610.7,1274.1 611.6,1256.2 612.5,1274.4 613.4,1267.2 614.3,1273.9 615.2,1265.4 616.1,1276.6 617,1267 618,1272.2 618.9,1266.4 619.8,1271.6 620.7,1264.9 621.6,1272.6 622.5,1258 623.4,1271.9 624.3,1265.3 625.3,1272.5 626.2,1265.4 627.1,1275 628,1264.1 628.9,1284 629.8,1265.5 630.7,1273.1 631.6,1255.6 632.5,1271.5 633.5,1263 634.4,1272.6 635.3,1260.8 636.2,1269.4 637.1,1251.4 638,1268.9 638.9,1261.4 639.8,1270 640.7,1260.3 641.7,1268 642.6,1258.8 643.5,1272.7 644.4,1259.9 645.3,1285.9 646.2,1193.8 647.1,1356.2 648,1201.8 649,1319.6 649.9,1160.1 650.8,1337.1 651.7,1230.9 652.6,1421.2 653.5,1213.9 654.4,1348.9 655.3,1192.5 656.2,1381.4 657.2,1207.9 658.1,1345.4 659,1098.8 659.9,1323.8 660.8,1166.7 661.7,1415.9 662.6,1180.5 663.5,1332.3 664.4,1118.2 665.4,1356.2 666.3,1215.3 667.2,1313.3 668.1,1208.4 669,1325.7 669.9,1221.5 670.8,1311.5 671.7,1198.6 672.7,1336.8 673.6,1222.6 674.5,1309 675.4,1204.4 676.3,1325.2 677.2,1232 678.1,1292.3 679,1221.7 679.9,1289 680.9,1234 681.8,1296.5 682.7,1234.3 683.6,1295.2 684.5,1226.2 685.4,1288.9 686.3,1246.5 687.2,1286.9 688.1,1246.5 689.1,1293.9 690,1245.5 690.9,1291.8 691.8,1253.1 692.7,1300.5 693.6,1230.1 694.5,1287.4 695.4,1251.3 696.4,1283.4 697.3,1245.5 698.2,1291.2 699.1,1253.6 700,1273.2 700.9,1256.8 701.8,1272.3 702.7,1258.9 703.6,1275.3 704.6,1254.3 705.5,1274.8 706.4,1264.1 707.3,1277.9 708.2,1261.5 709.1,1275.1 710,1262.8 710.9,1275 711.8,1252.2 712.8,1278.7 713.7,1261.5 714.6,1272.2 715.5,1259.6 716.4,1271.8 717.3,1258.8 718.2,1274 719.1,1261.6 720.1,1274 721,1262 721.9,1273.9 722.8,1256.2 723.7,1292.5 724.6,1262.3 725.5,1273.4 726.4,1261.2 727.3,1271.9 728.3,1257.5 729.2,1272.6 730.1,1262 731,1272.2 731.9,1259.1 732.8,1272.2 733.7,1254.9 734.6,1280.6 735.5,1243.7 736.5,1276.9 737.4,1260.3 738.3,1279.2 739.2,1256.2 740.1,1288.5 741,1261.6 741.9,1278.2 742.8,1252.7 743.8,1275.5 744.7,1263.9 745.6,1280.6 746.5,1261.5 747.4,1271.4 748.3,1264.4 749.2,1271.7 750.1,1251.6 751,1272.6 752,1259.7 752.9,1272.3 753.8,1261.4 754.7,1272 755.6,1262.5 756.5,1278.7 757.4,1260.1 758.3,1272.5 759.2,1263 760.2,1272.3 761.1,1262.9 762,1273.1 762.9,1254.8 763.8,1273.4 764.7,1261.4 765.6,1273.4 766.5,1262.3 767.5,1275.3 768.4,1260.1 769.3,1274.6 770.2,1264.1 771.1,1277.4 772,1256.2 772.9,1275.2 773.8,1263.8 774.7,1275.1 775.7,1263.8 776.6,1275.3 777.5,1261.5 778.4,1274 779.3,1238.9 780.2,1273 781.1,1248.1 782,1302.6 782.9,1247.3 783.9,1284.2 784.8,1232.3 785.7,1288.5 786.6,1245.5 787.5,1288.8 788.4,1231.7 789.3,1289.5 790.2,1243.5 791.2,1344.3 792.1,1242.1 793,1331.5 793.9,1176 794.8,1358.9 795.7,1216.9 796.6,1315.9 797.5,1199.1 798.4,1333.7 799.4,1239 800.3,1297.3 801.2,1230.9 802.1,1292.8 803,1240.1 803.9,1304.5 804.8,1242.5 805.7,1287.8 806.6,1237.6 807.6,1283.9 808.5,1249.2 809.4,1283.5 810.3,1252.7 811.2,1289.9 812.1,1242.4 813,1276.4 813.9,1259.8 814.9,1280.6 815.8,1253.5 816.7,1270 817.6,1261.1 818.5,1270 819.4,1262.6 820.3,1271.3 821.2,1258.8 822.1,1270 823.1,1265.7 824,1270 824.9,1265.6 825.8,1272.6 826.7,1264.1 827.6,1270.9 828.5,1265.5 829.4,1271.2 830.3,1264.6 831.3,1271.2 832.2,1254.8 833.1,1272 834,1260.1 834.9,1274 835.8,1258.2 836.7,1271.1 837.6,1248.2 838.6,1270.4 839.5,1255.9 840.4,1280.6 841.3,1244.2 842.2,1276.3 843.1,1256.2 844,1277.9 844.9,1255 845.8,1286.4 846.8,1240.8 847.7,1278.9 848.6,1265.5 849.5,1278.9 850.4,1264.8 851.3,1287.2 852.2,1261.5 853.1,1276 854,1264 855,1280.6 855.9,1252.2 856.8,1270.2 857.7,1261.9 858.6,1268.2 859.5,1254.8 860.4,1268.6 861.3,1265 862.2,1268.7 863.2,1265.8 864.1,1268.7 865,1264.1 865.9,1272.6 866.8,1266.2 867.7,1271.7 868.6,1264.8 869.5,1272.2 870.5,1251.4 871.4,1280.6 872.3,1261.7 873.2,1276.7 874.1,1256.2 875,1280.6 875.9,1263.6 876.8,1273.4 877.7,1263.6 878.7,1270.4 879.6,1261.5 880.5,1269.1 881.4,1263.5 882.3,1271.3 883.2,1262.6 884.1,1269.2 885,1250.8 885.9,1270 886.9,1259.6 887.8,1269.6 888.7,1253.5 889.6,1270.9 890.5,1262.7 891.4,1284.6 892.3,1264.2 893.2,1278.8 894.2,1261.5 895.1,1281.2 896,1265.6 896.9,1281.4 897.8,1264.5 898.7,1288.5 899.6,1256.2 900.5,1270.7 901.4,1261 902.4,1269.7 903.3,1259.7 904.2,1270 905.1,1258 906,1269.2 906.9,1248.7 907.8,1269.2 908.7,1255.6 909.6,1270 910.6,1255.6 911.5,1269.7 912.4,1246.9 913.3,1270.2 914.2,1251.6 915.1,1279.3 916,1238.9 916.9,1275.4 917.9,1261 918.8,1276.8 919.7,1261.5 920.6,1278.4 921.5,1258.8 922.4,1287.2 923.3,1260 924.2,1281.9 925.1,1236.8 926.1,1291.2 927,1246.1 927.9,1281.6 928.8,1245.5 929.7,1283.2 930.6,1235.5 931.5,1309.2 932.4,1243.9 933.3,1289.9 934.3,1237.6 935.2,1291.3 936.1,1245.5 937,1298.4 937.9,1252.3 938.8,1290.7 939.7,1225.6 940.6,1290.8 941.6,1255.5 942.5,1291.2 943.4,1248.2 944.3,1289.5 945.2,1255.8 946.1,1293.9 947,1255.9 947.9,1287.4 948.8,1224.3 949.8,1296 950.7,1255.8 951.6,1285.2 952.5,1245.5 953.4,1291.2 954.3,1259.3 955.2,1278.1 956.1,1258.9 957,1276.7 958,1253.5 958.9,1283.2 959.8,1258 960.7,1280.1 961.6,1256 962.5,1285.9 963.4,1234.1 964.3,1273.2 965.3,1258.5 966.2,1269.7 967.1,1258.7 968,1270 968.9,1256.2 969.8,1267.8 970.7,1259.2 971.6,1266.9 972.5,1242.9 973.5,1268.6 974.4,1261.6 975.3,1268.5 976.2,1263.5 977.1,1269.1 978,1261.5 978.9,1271.5 979.8,1263.5 980.7,1282.4 981.7,1262.9 982.6,1277.1 983.5,1253.5 984.4,1281.9 985.3,1260.1 986.2,1279.4 987.1,1242.9 988,1279.2 989,1263.1 989.9,1295.2 990.8,1262.8 991.7,1277.8 992.6,1258.8 993.5,1280.6 994.4,1262.8 995.3,1277.5 996.2,1261.2 997.2,1286.7 998.1,1244.2 999,1271.7 999.9,1254.5 1000.8,1268.4 1001.7,1251.9 1002.6,1270 1003.5,1242.1 1004.4,1269 1005.4,1257.9 1006.3,1268.7 1007.2,1260.7 1008.1,1268.9 1009,1255.6 1009.9,1274 1010.8,1264.7 1011.7,1269.2 1012.7,1266.5 1013.6,1276.6 1014.5,1261.5 1015.4,1269.6 1016.3,1269.2 1017.2,1270 1018.1,1269.2 1019,1270 1019.9,1269.3 1020.9,1270 1021.8,1269.3 1022.7,1270 1023.6,1260.9 1024.5,1268.8 1025.4,1266.4 1026.3,1270 1027.2,1263.9 1028.1,1268.4 1029.1,1260.8 1030,1268.1 1030.9,1251.4 1031.8,1268.6 1032.7,1256.2 1033.6,1267.6 1034.5,1256.7 1035.4,1274 1036.4,1252.2 1037.3,1269.1 1038.2,1256.9 1039.1,1269.9 1040,1257.7 1040.9,1280.6 1041.8,1253.5 1042.7,1275.6 1043.6,1257.9 1044.6,1277.3 1045.5,1257.4 1046.4,1283.2 1047.3,1250 1048.2,1276.7 1049.1,1260.8 1050,1280.6 1050.9,1258.8 1051.8,1274.6 1052.8,1262 1053.7,1273.3 1054.6,1246.9 1055.5,1276.6 1056.4,1260.7 1057.3,1269.4 1058.2,1258.8 1059.1,1269 1060.1,1261 1061,1268.6 1061.9,1260.6 1062.8,1268.3 1063.7,1246.9 1064.6,1289.3 1065.5,1260.9 1066.4,1279.3 1067.3,1260.9 1068.3,1277.9 1069.2,1266.2 1070.1,1280.6 1071,1266.4 1071.9,1275.4 1072.8,1264.1 1073.7,1280.6 1074.6,1266.1 1075.5,1272.5 1076.5,1254.8 1077.4,1271.5 1078.3,1264.6 1079.2,1273.2 1080.1,1255.4 1081,1269.2 1081.9,1262.3 1082.8,1267.7 1083.8,1253 1084.7,1268.6 1085.6,1260.3 1086.5,1267.4 1087.4,1259.5 1088.3,1267.9 1089.2,1259.7 1090.1,1270 1091,1260.3 1092,1269.1 1092.9,1256.9 1093.8,1269.6 1094.7,1261.6 1095.6,1269.9 1096.5,1262.6 1097.4,1274 1098.3,1258.8 1099.2,1270.4 1100.2,1264.1 1101.1,1271.9 1102,1264.5 1102.9,1271 1103.8,1264.8 1104.7,1275.8 1105.6,1257.5 1106.5,1267.7 1107.5,1265.5 1108.4,1267.7 1109.3,1265.6 1110.2,1267.9 1111.1,1264.1 1112,1281.9 1112.9,1266.5 1113.8,1276.5 1114.7,1252.2 1115.7,1277.4 1116.6,1257.8 1117.5,1279.3 1118.4,1246.9 1119.3,1273.9 1120.2,1254.6 1121.1,1272.3 1122,1254.3 1122.9,1276.6 1123.9,1246.9 1124.8,1273.1 1125.7,1255.7 1126.6,1274.4 1127.5,1250.8 1128.4,1306.8"/>
<path class="k" d="M195.5,1438.5 v15 M378.5,1438.5 v15 M560.5,1438.5 v15 M742.5,1438.5 v15 M925.5,1438.5 v15 M1107.5,1438.5 v15 M149.5,1163.5 h-15 M149.5,1271.5 h-15 M149.5,1379.5 h-15"/>
<rect class="k" x="149.5" y="1083.5" width="1026" height="355"/>
<text class="x" transform="translate(195.5,1500.7) scale(0.94,1)">0</text>
<text class="x" transform="translate(378.5,1500.7) scale(0.94,1)">200</text>
<text class="x" transform="translate(560.5,1500.7) scale(0.94,1)">400</text>
<text class="x" transform="translate(742.5,1500.7) scale(0.94,1)">600</text>
<text class="x" transform="translate(925.5,1500.7) scale(0.94,1)">800</text>
<text class="x" transform="translate(1107.5,1500.7) scale(0.94,1)">1000</text>
<text class="y" transform="translate(119.7,1179.5) scale(0.94,1)">1</text>
<text class="y" transform="translate(119.7,1287.5) scale(0.94,1)">0</text>
<text class="y" transform="translate(119.7,1395.5) scale(0.94,1)">−1</text>
<text class="t" transform="translate(662.2,1058.3) scale(0.957,1)">de_14_inner</text>
</g>
<g>
<path class="s" d="M1426.8,1375.8 1427.7,1329.4 1428.6,1114.2 1429.5,1335 1430.5,1184.2 1431.4,1321.5 1432.3,1137.3 1433.2,1320.4 1434.1,1187.8 1435,1305.8 1435.9,1169.9 1436.8,1307 1437.7,1196.8 1438.7,1312.4 1439.6,1183.2 1440.5,1313.1 1441.4,1202.3 1442.3,1315.1 1443.2,1197.8 1444.1,1307.4 1445,1194.7 1445.9,1354.4 1446.9,1186 1447.8,1319.7 1448.7,1161.9 1449.6,1317.4 1450.5,1144.7 1451.4,1327 1452.3,1177.3 1453.2,1295.9 1454.2,1174.9 1455.1,1301.8 1456,1133.6 1456.9,1299.1 1457.8,1181.4 1458.7,1306.5 1459.6,1159.3 1460.5,1333.1 1461.4,1213.5 1462.4,1271 1463.3,1201.8 1464.2,1274 1465.1,1220.3 1466,1273 1466.9,1217.7 1467.8,1284.2 1468.7,1221.1 1469.6,1311.1 1470.6,1200.3 1471.5,1301.4 1472.4,1169.9 1473.3,1302.1 1474.2,1217.4 1475.1,1307.1 1476,1209.7 1476.9,1258.3 1477.8,1216.1 1478.8,1258.1 1479.7,1202.3 1480.6,1255.6 1481.5,1214.8 1482.4,1289.1 1483.3,1215.5 1484.2,1278 1485.1,1202.3 1486.1,1277.6 1487,1222.3 1487.9,1277.7 1488.8,1220.3 1489.7,1287.2 1490.6,1223.4 1491.5,1267.8 1492.4,1221.8 1493.3,1263.9 1494.3,1200.4 1495.2,1267.3 1496.1,1209.6 1497,1262.9 1497.9,1203.3 1498.8,1264.7 1499.7,1195.3 1500.6,1261.6 1501.5,1176.5 1502.5,1320.4 1503.4,1194 1504.3,1316.8 1505.2,1186.7 1506.1,1353.6 1507,1161.9 1507.9,1312.6 1508.8,1188.4 1509.8,1339 1510.7,1144.2 1511.6,1313.8 1512.5,1173.4 1513.4,1382 1514.3,1169.8 1515.2,1305.1 1516.1,1172.5 1517,1312.4 1518,1131.4 1518.9,1276.7 1519.8,1188.5 1520.7,1271.2 1521.6,1195.3 1522.5,1277.9 1523.4,1187.2 1524.3,1269.6 1525.2,1195.4 1526.2,1272.6 1527.1,1154 1528,1283.7 1528.9,1181.5 1529.8,1335.5 1530.7,1164.6 1531.6,1316.1 1532.5,1180.7 1533.5,1314 1534.4,1187.2 1535.3,1316.2 1536.2,1172.6 1537.1,1325.7 1538,1216.8 1538.9,1289.1 1539.8,1212.4 1540.7,1293.9 1541.7,1223.8 1542.6,1287.1 1543.5,1224.5 1544.4,1295.2 1545.3,1216.3 1546.2,1265.2 1547.1,1224.1 1548,1256.6 1548.9,1225.8 1549.9,1257.3 1550.8,1224.3 1551.7,1257.6 1552.6,1226.8 1553.5,1290.4 1554.4,1226.1 1555.3,1279.8 1556.2,1201 1557.2,1282.6 1558.1,1212.5 1559,1281.9 1559.9,1211 1560.8,1290.7 1561.7,1217.4 1562.6,1282.4 1563.5,1179.7 1564.4,1280.6 1565.4,1217.4 1566.3,1293.9 1567.2,1220.7 1568.1,1262.4 1569,1211.6 1569.9,1262 1570.8,1234.8 1571.7,1260.9 1572.6,1229.6 1573.6,1263 1574.5,1235.9 1575.4,1277.9 1576.3,1193.8 1577.2,1266.2 1578.1,1205.1 1579,1283.2 1579.9,1199.2 1580.9,1269.3 1581.8,1187.2 1582.7,1311.1 1583.6,1198.1 1584.5,1300.1 1585.4,1175.2 1586.3,1303.9 1587.2,1172 1588.1,1301.8 1589.1,1196.3 1590,1304.5 1590.9,1203.4 1591.8,1296.3 1592.7,1187.7 1593.6,1300.4 1594.5,1230.9 1595.4,1303 1596.3,1218.5 1597.3,1312.4 1598.2,1232.2 1599.1,1288.7 1600,1229.8 1600.9,1289.9 1601.8,1223 1602.7,1262.2 1603.6,1225.5 1604.6,1251.6 1605.5,1217.7 1606.4,1254.1 1607.3,1222.7 1608.2,1243.5 1609.1,1219.3 1610,1246.1 1610.9,1205.7 1611.8,1245.8 1612.8,1235.5 1613.7,1250 1614.6,1232.3 1615.5,1261.5 1616.4,1236.5 1617.3,1255.5 1618.2,1234.9 1619.1,1268.6 1620,1237.5 1621,1259.7 1621.9,1238.2 1622.8,1262 1623.7,1234.9 1624.6,1260.5 1625.5,1236.5 1626.4,1263.3 1627.3,1235.8 1628.3,1276.1 1629.2,1236.5 1630.1,1262 1631,1237.3 1631.9,1256.8 1632.8,1237.4 1633.7,1251.4 1634.6,1228.3 1635.5,1252.7 1636.5,1230 1637.4,1245.2 1638.3,1213.9 1639.2,1246.1 1640.1,1181.8 1641,1242.3 1641.9,1207.8 1642.8,1278.7 1643.7,1205.7 1644.7,1273.9 1645.6,1212.8 1646.5,1277.9 1647.4,1204.4 1648.3,1272.9 1649.2,1205.4 1650.1,1272.2 1651,1203.9 1652,1284 1652.9,1205.2 1653.8,1266.3 1654.7,1191.7 1655.6,1267.5 1656.5,1232.3 1657.4,1266.2 1658.3,1232.3 1659.2,1270 1660.2,1236.2 1661.1,1267.5 1662,1233.2 1662.9,1268.6 1663.8,1223 1664.7,1277.9 1665.6,1228.3 1666.5,1267.3 1667.4,1227.2 1668.4,1272.6 1669.3,1222.4 1670.2,1266.4 1671.1,1207.1 1672,1301 1672.9,1235.3 1673.8,1269.7 1674.7,1232.3 1675.7,1267.5 1676.6,1235.8 1677.5,1270 1678.4,1229.1 1679.3,1265.8 1680.2,1237.8 1681.1,1268.6 1682,1234.9 1682.9,1262.6 1683.9,1237.8 1684.8,1263.1 1685.7,1226.1 1686.6,1263 1687.5,1195.9 1688.4,1263.3 1689.3,1233.8 1690.2,1262.9 1691.1,1230.1 1692.1,1266 1693,1239.1 1693.9,1264.5 1694.8,1241.4 1695.7,1265.1 1696.6,1237.6 1697.5,1275.3 1698.4,1238 1699.4,1268.4 1700.3,1203.6 1701.2,1266.2 1702.1,1222.8 1703,1267.3 1703.9,1223.4 1704.8,1256.3 1705.7,1221.7 1706.6,1255.5 1707.6,1212.9 1708.5,1260.7 1709.4,1226.2 1710.3,1251.9 1711.2,1223.6 1712.1,1248.3 1713,1221.7 1713.9,1250.1 1714.8,1218.5 1715.8,1249.1 1716.7,1236.8 1717.6,1252 1718.5,1237.6 1719.4,1264.7 1720.3,1240.6 1721.2,1262.9 1722.1,1225.6 1723.1,1266 1724,1243.7 1724.9,1270.5 1725.8,1243.1 1726.7,1281.4 1727.6,1237.6 1728.5,1271.7 1729.4,1232.6 1730.3,1275.3 1731.3,1196.4 1732.2,1263 1733.1,1204.3 1734,1266 1734.9,1203.3 1735.8,1264.2 1736.7,1201.6 1737.6,1271.8 1738.5,1189.3 1739.5,1269.4 1740.4,1243.1 1741.3,1273.7 1742.2,1240.2 1743.1,1289.1 1744,1242.6 1744.9,1276.6 1745.8,1239.7 1746.8,1275.6 1747.7,1228.8 1748.6,1271.6 1749.5,1239.6 1750.4,1272 1751.3,1236.3 1752.2,1277.9 1753.1,1230.9 1754,1276.9 1755,1220.3 1755.9,1287.8 1756.8,1234.3 1757.7,1268.9 1758.6,1232.3 1759.5,1270 1760.4,1235 1761.3,1260.4 1762.2,1227.3 1763.2,1258.1 1764.1,1208.9 1765,1259.4 1765.9,1215.7 1766.8,1250.3 1767.7,1168.6 1768.6,1254.1 1769.5,1215.3 1770.4,1252.7 1771.4,1209.7 1772.3,1262.3 1773.2,1230.8 1774.1,1287.2 1775,1242.6 1775.9,1276.3 1776.8,1241.6 1777.7,1276.3 1778.7,1242.7 1779.6,1285.1 1780.5,1241.4 1781.4,1275.1 1782.3,1237.1 1783.2,1275.1 1784.1,1217.7 1785,1271.6 1785.9,1224.6 1786.9,1274 1787.8,1199.1 1788.7,1269.4 1789.6,1217.7 1790.5,1268.3 1791.4,1198.6 1792.3,1267.8 1793.2,1230.3 1794.1,1276.6 1795.1,1229.6 1796,1258.9 1796.9,1235.2 1797.8,1258 1798.7,1224.3 1799.6,1251.7 1800.5,1233.7 1801.4,1249.3 1802.4,1234.8 1803.3,1250.1 1804.2,1235.6 1805.1,1250.7 1806,1232.3 1806.9,1252.7 1807.8,1239.7 1808.7,1256.8 1809.6,1237.6 1810.6,1270.8 1811.5,1240.6 1812.4,1257.4 1813.3,1237.2 1814.2,1255.5 1815.1,1223 1816,1254.9 1816.9,1238.7 1817.8,1283.2 1818.8,1241.9 1819.7,1270.9 1820.6,1238.9 1821.5,1268.5 1822.4,1241.5 1823.3,1265.8 1824.2,1230.1 1825.1,1267.3 1826.1,1234.8 1827,1261.5 1827.9,1203.1 1828.8,1257.8 1829.7,1211.6 1830.6,1258.7 1831.5,1211.9 1832.4,1264.7 1833.3,1207.1 1834.3,1261 1835.2,1217.9 1836.1,1268.6 1837,1221 1837.9,1265.8 1838.8,1212.4 1839.7,1311.9 1840.6,1232.3 1841.5,1262.5 1842.5,1229.6 1843.4,1254.8 1844.3,1231.9 1845.2,1256.7 1846.1,1221.7 1847,1254.4 1847.9,1226.5 1848.8,1253.1 1849.8,1222.2 1850.7,1252.3 1851.6,1204.9 1852.5,1254.1 1853.4,1223.5 1854.3,1252.8 1855.2,1221.7 1856.1,1265.1 1857,1223.4 1858,1295.7 1858.9,1209.7 1859.8,1252 1860.7,1221.4 1861.6,1251.4 1862.5,1220.7 1863.4,1247.1 1864.3,1217.7 1865.2,1245.9 1866.2,1219.4 1867.1,1246.1 1868,1213.2 1868.9,1246.9 1869.8,1232.5 1870.7,1262 1871.6,1238.9 1872.5,1263.4 1873.5,1233.6 1874.4,1279.3 1875.3,1250.2 1876.2,1276.9 1877.1,1248.2 1878,1288 1878.9,1249.6 1879.8,1272.9 1880.7,1236.2 1881.7,1275.3 1882.6,1239.4 1883.5,1273.1 1884.4,1208.4 1885.3,1290.7 1886.2,1219.6 1887.1,1279.5 1888,1216.3 1888.9,1274.5 1889.9,1216.1 1890.8,1275.3 1891.7,1175.2 1892.6,1266.7 1893.5,1212.9 1894.4,1268.6 1895.3,1208.4 1896.2,1268.7 1897.2,1212.6 1898.1,1293.9 1899,1212.9 1899.9,1279.5 1900.8,1200.4 1901.7,1279.9 1902.6,1212.3 1903.5,1297.8 1904.4,1176.5 1905.4,1296.4 1906.3,1206.9 1907.2,1315.9 1908.1,1207.9 1909,1292.6 1909.9,1195.1 1910.8,1288.2 1911.7,1215.9 1912.6,1307.1 1913.6,1146.6 1914.5,1278.9 1915.4,1225.9 1916.3,1287.2 1917.2,1221.7 1918.1,1271.7 1919,1226.6 1919.9,1268.1 1920.9,1202.5 1921.8,1263.9 1922.7,1226 1923.6,1262 1924.5,1231.1 1925.4,1262 1926.3,1231.9 1927.2,1256.6 1928.1,1231.8 1929.1,1256.7 1930,1199.9 1930.9,1260.4 1931.8,1206.8 1932.7,1311.9 1933.6,1174.7 1934.5,1286.4 1935.4,1208.5 1936.3,1285.9 1937.3,1212.9 1938.2,1276.8 1939.1,1196.4 1940,1284 1940.9,1240.6 1941.8,1272.6 1942.7,1237.6 1943.6,1272.6 1944.6,1238.3 1945.5,1270.9 1946.4,1224.3 1947.3,1292.5 1948.2,1225.7 1949.1,1258.4 1950,1172 1950.9,1249.1 1951.8,1211.8 1952.8,1254.1 1953.7,1214.6 1954.6,1254.7 1955.5,1203.1 1956.4,1275.3 1957.3,1236.5 1958.2,1270.4 1959.1,1232.3 1960,1282.4 1961,1250.4 1961.9,1309.8 1962.8,1248.2 1963.7,1295.8 1964.6,1251.7 1965.5,1304.5 1966.4,1225.6 1967.3,1262.7 1968.3,1231.4 1969.2,1259.4 1970.1,1214.9 1971,1258.3 1971.9,1179.7 1972.8,1281.9 1973.7,1190.8 1974.6,1282.2 1975.5,1190.5 1976.5,1342.9 1977.4,1171.8 1978.3,1287.8 1979.2,1192.5 1980.1,1297.8 1981,1129.3 1981.9,1264.3 1982.8,1197.1 1983.7,1252.4 1984.7,1216.4 1985.6,1256.7 1986.5,1211 1987.4,1250.1 1988.3,1216.7 1989.2,1259.4 1990.1,1189.8 1991,1259.3 1992,1211.9 1992.9,1333.7 1993.8,1211 1994.7,1299.7 1995.6,1211.9 1996.5,1307.1 1997.4,1205.7 1998.3,1273.6 1999.2,1203.9 2000.2,1261.6 2001.1,1199.4 2002,1272.6 2002.9,1193.7 2003.8,1249.8 2004.7,1171.2 2005.6,1251.4 2006.5,1211.6 2007.4,1249.6 2008.4,1211 2009.3,1261.7 2010.2,1211.5 2011.1,1342.2 2012,1173.1 2012.9,1283 2013.8,1191.6 2014.7,1293.9 2015.7,1191.1 2016.6,1282.9 2017.5,1179.2 2018.4,1321.7 2019.3,1182.9 2020.2,1298.4 2021.1,1161.2 2022,1297.1 2022.9,1230 2023.9,1321.7 2024.8,1221.7 2025.7,1274.3 2026.6,1227.6 2027.5,1275.3 2028.4,1225.8 2029.3,1261.6 2030.2,1222.4 2031.1,1258.3 2032.1,1229.5 2033,1268.6 2033.9,1228.7 2034.8,1251.5 2035.7,1221.8 2036.6,1254.1 2037.5,1203.1 2038.4,1254.2 2039.3,1211.4 2040.3,1264.1 2041.2,1208.3 2042.1,1284.6 2043,1207.9 2043.9,1282.4 2044.8,1209.1 2045.7,1289.4 2046.6,1203.1 2047.6,1304.5 2048.5,1187.9 2049.4,1297.4 2050.3,1099.1 2051.2,1366.8 2052.1,1163.7 2053,1338.3 2053.9,1112.9 2054.8,1421.2 2055.8,1152.1 2056.7,1335.3 2057.6,1104.4 2058.5,1329.4 2059.4,1171.5 2060.3,1357.5 2061.2,1163.3 2062.1,1299.2 2063,1174.1 2064,1297.2 2064.9,1138.1 2065.8,1305.8 2066.7,1167.1 2067.6,1302.5 2068.5,1126.1 2069.4,1324.9 2070.3,1173.3 2071.3,1309.6 2072.2,1153.2 2073.1,1310.3 2074,1232.4 2074.9,1320.4 2075.8,1237.6 2076.7,1300 2077.6,1239.8 2078.5,1305.8 2079.5,1211 2080.4,1271.3 2081.3,1219.8 2082.2,1270 2083.1,1213.9 2084,1263.8 2084.9,1209.7 2085.8,1263.3 2086.7,1214.1 2087.7,1272.6 2088.6,1182.4 2089.5,1277.6 2090.4,1187.2 2091.3,1349.6 2092.2,1149.2 2093.1,1335.2 2094,1170.7 2095,1341.6 2095.9,1161.9 2096.8,1301.5 2097.7,1182.1 2098.6,1309.8 2099.5,1184.5 2100.4,1276.7 2101.3,1176.5 2102.2,1275.3 2103.2,1188.1 2104.1,1268.1 2105,1189.9 2105.9,1267.2 2106.8,1194.2 2107.7,1303.9 2108.6,1203 2109.5,1289.4 2110.4,1197.8 2111.4,1285.5 2112.3,1206 2113.2,1287 2114.1,1200.8 2115,1297.8 2115.9,1181.3 2116.8,1269.1 2117.7,1188.6 2118.7,1280.6 2119.6,1157.4 2120.5,1265.1 2121.4,1177.7 2122.3,1293.9 2123.2,1189.5 2124.1,1287.5 2125,1197.1 2125.9,1294.9 2126.9,1187.2 2127.8,1339 2128.7,1199.5 2129.6,1316.7 2130.5,1189.8 2131.4,1394.2 2132.3,1183.5 2133.2,1289.9 2134.1,1110.2 2135.1,1283.2 2136,1169.3 2136.9,1269.9 2137.8,1151.9 2138.7,1266.4 2139.6,1199.4 2140.5,1272.6 2141.4,1212.6 2142.4,1265.8 2143.3,1204.4 2144.2,1276 2145.1,1212.3 2146,1307.1 2146.9,1201.8 2147.8,1292.7 2148.7,1215.1 2149.6,1301.8 2150.6,1218.8 2151.5,1290.7 2152.4,1221.9 2153.3,1289.4 2154.2,1210.2 2155.1,1297.8 2156,1239.9 2156.9,1282.1 2157.8,1241 2158.8,1288.5 2159.7,1242 2160.6,1277.5 2161.5,1228.4 2162.4,1280.6 2163.3,1196.1 2164.2,1266.9 2165.1,1164.1 2166.1,1291.7 2167,1185.1 2167.9,1278.3 2168.8,1179.2 2169.7,1286.9 2170.6,1186.7 2171.5,1289.8 2172.4,1161.4 2173.3,1297.8 2174.3,1233.9 2175.2,1297.1 2176.1,1225.6 2177,1307.1 2177.9,1231.3 2178.8,1304.2 2179.7,1228.5 2180.6,1304.5 2181.5,1216.3 2182.5,1313.8 2183.4,1223 2184.3,1293.9 2185.2,1171.2 2186.1,1299.2 2187,1185.5 2187.9,1283.9 2188.8,1186.3 2189.8,1295 2190.7,1179.2 2191.6,1323 2192.5,1175 2193.4,1269 2194.3,1177.1 2195.2,1267.3 2196.1,1160.6 2197,1265.3 2198,1183.8 2198.9,1296.5 2199.8,1179.2 2200.7,1286.9 2201.6,1188.3 2202.5,1294.5 2203.4,1161.9 2204.3,1316.4 2205.2,1198.8 2206.2,1296.4 2207.1,1192.5 2208,1319.1 2208.9,1206 2209.8,1295.2 2210.7,1181.8 2211.6,1293.6 2212.5,1210.2 2213.5,1295.6 2214.4,1200.4 2215.3,1301.8 2216.2,1204.3 2217.1,1296.4 2218,1196.7 2218.9,1291.7 2219.8,1161.9 2220.7,1317.7 2221.7,1175.9 2222.6,1284.8 2223.5,1179.2 2224.4,1286.5 2225.3,1180.3 2226.2,1301.3 2227.1,1166.5 2228,1280.2 2228.9,1212.5 2229.9,1283.2 2230.8,1217.7 2231.7,1255.5 2232.6,1229.1 2233.5,1256.7 2234.4,1230.8 2235.3,1255.9 2236.2,1232.3 2237.2,1297.8 2238.1,1240.6 2239,1277 2239.9,1232.3 2240.8,1270.9 2241.7,1245.3 2242.6,1272.6 2243.5,1242.9 2244.4,1269.4 2245.4,1246.4 2246.3,1288.5 2247.2,1225.1 2248.1,1273.5 2249,1234.3 2249.9,1271 2250.8,1224.8 2251.7,1268.2 2252.6,1212.9 2253.6,1264.9 2254.5,1205.7 2255.4,1266 2256.3,1185 2257.2,1264.3 2258.1,1196.9 2259,1269.7 2259.9,1189.8 2260.9,1300 2261.8,1188.5 2262.7,1278.2 2263.6,1165.1 2264.5,1288.5 2265.4,1215.1 2266.3,1276.7 2267.2,1200.4 2268.1,1303.1 2269.1,1224 2270,1291.1 2270.9,1220.3 2271.8,1289 2272.7,1229.6 2273.6,1288.7 2274.5,1226.3 2275.4,1295.2 2276.3,1213.7 2277.3,1280.3 2278.2,1212 2279.1,1276.9 2280,1199.1 2280.9,1269.9 2281.8,1209.4 2282.7,1263.7 2283.6,1213.8 2284.6,1262 2285.5,1204.9 2286.4,1254.4 2287.3,1225.1 2288.2,1256.7 2289.1,1221.7 2290,1254.3 2290.9,1226.3 2291.8,1297.3 2292.8,1227.3 2293.7,1282.1 2294.6,1217.7 2295.5,1288.7 2296.4,1227.2 2297.3,1288.5 2298.2,1221.7 2299.1,1295.2 2300,1221.1 2301,1268.9 2301.9,1190.3 2302.8,1272.6 2303.7,1198.6 2304.6,1267.4 2305.5,1201.6 2306.4,1292.5 2307.3,1203.9 2308.3,1274.9 2309.2,1201.8 2310.1,1276.5 2311,1208.6 2311.9,1273.3 2312.8,1203.1 2313.7,1281.9 2314.6,1215.4 2315.5,1239.9 2316.5,1213.7 2317.4,1241.6 2318.3,1217.6 2319.2,1242.3 2320.1,1207.6 2321,1250.6 2321.9,1220 2322.8,1276.6 2323.7,1228.3 2324.7,1276.3 2325.6,1215.5 2326.5,1285.9 2327.4,1247.8 2328.3,1269.3 2329.2,1242.9 2330.1,1277.9 2331,1211 2331.9,1257.1 2332.9,1222.7 2333.8,1254.7 2334.7,1216.2 2335.6,1254.1 2336.5,1207.1 2337.4,1251.2 2338.3,1210.1 2339.2,1275.3 2340.2,1159.3 2341.1,1292 2342,1208.3 2342.9,1281.5 2343.8,1203.1 2344.7,1280 2345.6,1217.7 2346.5,1288.5 2347.4,1212.4 2348.4,1278.5 2349.3,1226.7 2350.2,1275.5 2351.1,1227.5 2352,1277.9 2352.9,1226.2 2353.8,1273 2354.7,1228.5 2355.6,1275.4 2356.6,1217.1 2357.5,1287.2 2358.4,1267.9 2359.3,1277.7"/>
<path class="k" d="M1426.5,1438.5 v15 M1609.5,1438.5 v15 M1791.5,1438.5 v15 M1973.5,1438.5 v15 M2156.5,1438.5 v15 M2338.5,1438.5 v15 M1380.5,1109.5 h-15 M1380.5,1246.5 h-15 M1380.5,1383.5 h-15"/>
<rect class="k" x="1380.5" y="1083.5" width="1025" height="355"/>
<text class="x" transform="translate(1426.5,1500.7) scale(0.94,1)">0</text>
<text class="x" transform="translate(1609.5,1500.7) scale(0.94,1)">200</text>
<text class="x" transform="translate(1791.5,1500.7) scale(0.94,1)">400</text>
<text class="x" transform="translate(1973.5,1500.7) scale(0.94,1)">600</text>
<text class="x" transform="translate(2156.5,1500.7) scale(0.94,1)">800</text>
<text class="x" transform="translate(2338.5,1500.7) scale(0.94,1)">1000</text>
<text class="y" transform="translate(1350.6,1125.5) scale(0.94,1)">0.5</text>
<text class="y" transform="translate(1350.6,1262.5) scale(0.94,1)">0.0</text>
<text class="y" transform="translate(1350.6,1399.5) scale(0.94,1)">−0.5</text>
<text class="t" transform="translate(1893.1,1058.3) scale(0.957,1)">de_14_ball</text>
</g>
<g>
<path class="s" d="M2657.7,1275 2658.6,1314.3 2659.5,1239.1 2660.4,1356.2 2661.3,1233.6 2662.2,1308.4 2663.2,1212.4 2664.1,1298.1 2665,1250.1 2665.9,1304.5 2666.8,1248.2 2667.7,1292.3 2668.6,1251.4 2669.5,1299.2 2670.4,1248.4 2671.4,1291.8 2672.3,1242.9 2673.2,1308.3 2674.1,1246 2675,1370 2675.9,1231.5 2676.8,1333.6 2677.7,1250.5 2678.6,1341.1 2679.6,1245.5 2680.5,1294.6 2681.4,1248.3 2682.3,1296.5 2683.2,1229.6 2684.1,1290.2 2685,1226.2 2685.9,1295.8 2686.9,1209.7 2687.8,1324.4 2688.7,1224.5 2689.6,1306.3 2690.5,1227.3 2691.4,1320.4 2692.3,1215 2693.2,1295.3 2694.1,1230.3 2695.1,1290.4 2696,1237.4 2696.9,1291.2 2697.8,1234.9 2698.7,1290.6 2699.6,1239.3 2700.5,1292.3 2701.4,1224.8 2702.3,1299.7 2703.3,1232 2704.2,1295.7 2705.1,1229.8 2706,1296.2 2706.9,1219.5 2707.8,1323 2708.7,1226.1 2709.6,1303.4 2710.6,1226.6 2711.5,1332.3 2712.4,1225.6 2713.3,1312.4 2714.2,1212.9 2715.1,1309.4 2716,1224.9 2716.9,1304.7 2717.8,1221.4 2718.8,1313.8 2719.7,1202.5 2720.6,1273.8 2721.5,1212.6 2722.4,1277.9 2723.3,1208.4 2724.2,1272.4 2725.1,1236.4 2726,1278.7 2727,1232.3 2727.9,1274.6 2728.8,1256.8 2729.7,1342.2 2730.6,1253.5 2731.5,1325.4 2732.4,1282.3 2733.3,1322.5 2734.3,1274.7 2735.2,1335 2736.1,1273.2 2737,1274.7 2737.9,1250.8 2738.8,1274.1 2739.7,1253.5 2740.6,1321.7 2741.5,1245.8 2742.5,1304.1 2743.4,1224.3 2744.3,1320.4 2745.2,1225.2 2746.1,1339.8 2747,1182.4 2747.9,1330.9 2748.8,1209.7 2749.7,1345.6 2750.7,1171.2 2751.6,1323.4 2752.5,1184.2 2753.4,1321.8 2754.3,1172.6 2755.2,1364.2 2756.1,1191.4 2757,1331.5 2758,1193.8 2758.9,1408.8 2759.8,1129.6 2760.7,1332.8 2761.6,1169.1 2762.5,1352.2 2763.4,1138.9 2764.3,1335.1 2765.2,1160.3 2766.2,1326.4 2767.1,1157.4 2768,1346.9 2768.9,1157.3 2769.8,1333.8 2770.7,1157.4 2771.6,1387.3 2772.5,1157 2773.4,1340.5 2774.4,1160.8 2775.3,1378.8 2776.2,1136.2 2777.1,1324.6 2778,1217.4 2778.9,1365.5 2779.8,1208.4 2780.7,1291.2 2781.7,1230.9 2782.6,1301.8 2783.5,1232.7 2784.4,1299.4 2785.3,1224.3 2786.2,1315.1 2787.1,1266.1 2788,1313.3 2788.9,1264.1 2789.9,1331.8 2790.8,1267.6 2791.7,1300.2 2792.6,1233.6 2793.5,1293.9 2794.4,1242.6 2795.3,1291 2796.2,1219.5 2797.1,1299.5 2798.1,1189 2799,1340.3 2799.9,1203.4 2800.8,1333.1 2801.7,1192.5 2802.6,1354.4 2803.5,1189 2804.4,1303.8 2805.4,1204.3 2806.3,1315.1 2807.2,1200.4 2808.1,1310 2809,1200.1 2809.9,1349.1 2810.8,1194.6 2811.7,1302.6 2812.6,1221.7 2813.6,1301.8 2814.5,1224.3 2815.4,1293.2 2816.3,1240.1 2817.2,1290.4 2818.1,1237.6 2819,1291.2 2819.9,1241.8 2820.8,1283.5 2821.8,1210.2 2822.7,1335 2823.6,1220.8 2824.5,1316.1 2825.4,1214.2 2826.3,1326.8 2827.2,1188.5 2828.1,1336.3 2829.1,1234.4 2830,1330.8 2830.9,1232.3 2831.8,1379.6 2832.7,1213.7 2833.6,1351.5 2834.5,1230.5 2835.4,1362.8 2836.3,1136.2 2837.3,1350.9 2838.2,1167.8 2839.1,1346.6 2840,1098.8 2840.9,1379.6 2841.8,1166.4 2842.7,1346.8 2843.6,1131.4 2844.5,1368.2 2845.5,1202.1 2846.4,1354.9 2847.3,1221.8 2848.2,1421.8 2849.1,1208.4 2850,1351.2 2850.9,1220.9 2851.8,1355.5 2852.8,1149.5 2853.7,1372.1 2854.6,1191.3 2855.5,1341.7 2856.4,1167.8 2857.3,1362.1 2858.2,1179.3 2859.1,1322.4 2860,1180.5 2861,1312.9 2861.9,1189.9 2862.8,1329.7 2863.7,1184.5 2864.6,1309.1 2865.5,1192 2866.4,1316.4 2867.3,1147.4 2868.2,1315.7 2869.2,1212.7 2870.1,1331 2871,1231.9 2871.9,1310.9 2872.8,1212.4 2873.7,1317.7 2874.6,1249.5 2875.5,1316 2876.5,1242.9 2877.4,1331.8 2878.3,1251 2879.2,1318.7 2880.1,1245.4 2881,1310.8 2881.9,1241.9 2882.8,1317.7 2883.7,1240.4 2884.7,1281.9 2885.6,1229.1 2886.5,1283.2 2887.4,1242.2 2888.3,1281.9 2889.2,1237.6 2890.1,1290.1 2891,1244 2891.9,1327 2892.9,1246.4 2893.8,1300.3 2894.7,1242.9 2895.6,1293 2896.5,1220.9 2897.4,1296.5 2898.3,1234.4 2899.2,1291.3 2900.2,1229.4 2901.1,1291.3 2902,1227 2902.9,1301.8 2903.8,1209.7 2904.7,1282.9 2905.6,1223.8 2906.5,1285.9 2907.4,1226.4 2908.4,1282.6 2909.3,1227.8 2910.2,1283.6 2911.1,1217.7 2912,1285.9 2912.9,1254.5 2913.8,1288.8 2914.7,1256 2915.6,1313.8 2916.6,1258.3 2917.5,1308.7 2918.4,1247.7 2919.3,1315.1 2920.2,1209.2 2921.1,1311.6 2922,1226.1 2922.9,1332.3 2923.9,1211 2924.8,1316.4 2925.7,1223.3 2926.6,1323 2927.5,1156.6 2928.4,1308.5 2929.3,1191.8 2930.2,1312.4 2931.1,1170.7 2932.1,1301.1 2933,1201.8 2933.9,1384.6 2934.8,1219.6 2935.7,1335.4 2936.6,1228 2937.5,1332.5 2938.4,1221.7 2939.3,1341.6 2940.3,1207.6 2941.2,1318.3 2942.1,1221.8 2943,1325.7 2943.9,1214 2944.8,1299.9 2945.7,1188 2946.6,1311.1 2947.5,1231.6 2948.5,1302.5 2949.4,1224.3 2950.3,1305.9 2951.2,1244.8 2952.1,1316.9 2953,1249.3 2953.9,1309.2 2954.8,1242.9 2955.8,1364.2 2956.7,1242.6 2957.6,1305.8 2958.5,1203.6 2959.4,1296.2 2960.3,1237.9 2961.2,1307.1 2962.1,1232.3 2963,1279 2964,1239 2964.9,1283.2 2965.8,1180 2966.7,1278.8 2967.6,1232.1 2968.5,1307.9 2969.4,1246.5 2970.3,1294.9 2971.2,1242.9 2972.2,1291.4 2973.1,1236.5 2974,1296.5 2974.9,1186.4 2975.8,1339 2976.7,1215.8 2977.6,1296 2978.5,1216.3 2979.5,1293 2980.4,1256.1 2981.3,1295.2 2982.2,1253.5 2983.1,1299.6 2984,1259.4 2984.9,1362.8 2985.8,1234.9 2986.7,1303.1 2987.7,1247 2988.6,1291.6 2989.5,1181.8 2990.4,1293.9 2991.3,1238.1 2992.2,1281.2 2993.1,1242.9 2994,1277.7 2994.9,1248 2995.9,1280.6 2996.8,1242.6 2997.7,1289.2 2998.6,1217.7 2999.5,1342.2 3000.4,1224.7 3001.3,1326.7 3002.2,1204.4 3003.2,1374.8 3004.1,1210.3 3005,1323.9 3005.9,1165.1 3006.8,1329.6 3007.7,1215.6 3008.6,1354.1 3009.5,1205.7 3010.4,1329.5 3011.4,1226.6 3012.3,1349.1 3013.2,1233.1 3014.1,1307.2 3015,1231.5 3015.9,1315.1 3016.8,1235.7 3017.7,1272.9 3018.6,1227 3019.6,1272.6 3020.5,1242.3 3021.4,1272.9 3022.3,1249.5 3023.2,1299.2 3024.1,1248.2 3025,1323 3025.9,1249.8 3026.9,1307.5 3027.8,1232.3 3028.7,1300.6 3029.6,1237.3 3030.5,1303.1 3031.4,1220.3 3032.3,1289.2 3033.2,1226.1 3034.1,1297.8 3035.1,1195.1 3036,1286.2 3036.9,1239.4 3037.8,1293.7 3038.7,1246.9 3039.6,1305.8 3040.5,1242.9 3041.4,1299.5 3042.3,1244.5 3043.3,1306.3 3044.2,1241.7 3045.1,1283.6 3046,1226.2 3046.9,1274.1 3047.8,1236.8 3048.7,1275.3 3049.6,1227 3050.6,1272.5 3051.5,1233 3052.4,1275.8 3053.3,1225.4 3054.2,1280.6 3055.1,1192.5 3056,1285.4 3056.9,1202.6 3057.8,1320.4 3058.8,1186.4 3059.7,1380.1 3060.6,1233.2 3061.5,1341.8 3062.4,1234.9 3063.3,1346.1 3064.2,1243.5 3065.1,1322.2 3066,1232.3 3067,1313.3 3067.9,1241.9 3068.8,1320.4 3069.7,1211 3070.6,1358.9 3071.5,1250.7 3072.4,1322.9 3073.3,1240.2 3074.3,1319.1 3075.2,1249.6 3076.1,1337.6 3077,1246.7 3077.9,1317.3 3078.8,1216.3 3079.7,1319.1 3080.6,1241.2 3081.5,1320.5 3082.5,1232.4 3083.4,1323 3084.3,1225.7 3085.2,1286.4 3086.1,1210.2 3087,1277.4 3087.9,1214.4 3088.8,1283.2 3089.7,1192.5 3090.7,1282.2 3091.6,1207 3092.5,1308.5 3093.4,1174.7 3094.3,1346.9 3095.2,1237.6 3096.1,1338 3097,1232.3 3098,1392 3098.9,1245.6 3099.8,1326.8 3100.7,1232.3 3101.6,1368.2 3102.5,1241.3 3103.4,1297.2 3104.3,1205.7 3105.2,1309.8 3106.2,1216.3 3107.1,1299.5 3108,1208.2 3108.9,1303.9 3109.8,1194.6 3110.7,1295.1 3111.6,1201.8 3112.5,1304.5 3113.4,1150.5 3114.4,1292.6 3115.3,1200.4 3116.2,1354.1 3117.1,1200.9 3118,1303.3 3118.9,1202.8 3119.8,1311.1 3120.7,1194.3 3121.7,1301.3 3122.6,1235.6 3123.5,1308.5 3124.4,1239.7 3125.3,1276.4 3126.2,1244.9 3127.1,1277.9 3128,1245.4 3128.9,1278.3 3129.9,1242.9 3130.8,1307.9 3131.7,1251.2 3132.6,1296.5 3133.5,1243.4 3134.4,1295.6 3135.3,1271.2 3136.2,1319.6 3137.1,1269.4 3138.1,1311.9 3139,1270.8 3139.9,1316.4 3140.8,1242.9 3141.7,1336.3 3142.6,1187.2 3143.5,1320.7 3144.4,1198.2 3145.4,1357.5 3146.3,1130.9 3147.2,1349.6 3148.1,1198 3149,1332.2 3149.9,1199.4 3150.8,1366.3 3151.7,1188.5 3152.6,1325.4 3153.6,1217.4 3154.5,1328.4 3155.4,1204.4 3156.3,1318.8 3157.2,1237.9 3158.1,1316.7 3159,1244.8 3159.9,1316.9 3160.8,1229.6 3161.8,1307.5 3162.7,1240.9 3163.6,1304.6 3164.5,1233.6 3165.4,1307.1 3166.3,1239.2 3167.2,1305.7 3168.1,1232.3 3169.1,1307.1 3170,1237.7 3170.9,1302.5 3171.8,1181.1 3172.7,1305.3 3173.6,1208.2 3174.5,1344.3 3175.4,1189.8 3176.3,1294.7 3177.3,1212.6 3178.2,1299.2 3179.1,1203.1 3180,1298.2 3180.9,1231.2 3181.8,1302.4 3182.7,1234.9 3183.6,1309 3184.5,1240.6 3185.5,1306.6 3186.4,1233.2 3187.3,1308.4 3188.2,1173.1 3189.1,1329.1 3190,1220.4 3190.9,1312.1 3191.8,1207.1 3192.8,1320.4 3193.7,1254.9 3194.6,1313.3 3195.5,1262.9 3196.4,1341.1 3197.3,1256.2 3198.2,1323 3199.1,1247.1 3200,1328.7 3201,1151.3 3201.9,1340.3 3202.8,1175.8 3203.7,1311.7 3204.6,1133.6 3205.5,1364.2 3206.4,1173.3 3207.3,1329.8 3208.2,1160.1 3209.2,1333.3 3210.1,1218.1 3211,1334.7 3211.9,1208.4 3212.8,1361.5 3213.7,1214.1 3214.6,1333.4 3215.5,1219.1 3216.4,1349.6 3217.4,1217.7 3218.3,1348.9 3219.2,1225.4 3220.1,1341.9 3221,1226.3 3221.9,1354.9 3222.8,1215.5 3223.7,1305.6 3224.7,1237.4 3225.6,1309.8 3226.5,1237.6 3227.4,1308 3228.3,1230.1 3229.2,1309.8 3230.1,1172.6 3231,1293 3231.9,1178.4 3232.9,1295 3233.8,1154.5 3234.7,1327.6 3235.6,1219.6 3236.5,1315.8 3237.4,1216.3 3238.3,1329.7 3239.2,1220.8 3240.1,1324.9 3241.1,1203.6 3242,1333.7 3242.9,1212.2 3243.8,1387.5 3244.7,1166.7 3245.6,1346.1 3246.5,1173.9 3247.4,1335.8 3248.4,1129.3 3249.3,1357.5 3250.2,1174.6 3251.1,1331.7 3252,1179.8 3252.9,1354.9 3253.8,1185.9 3254.7,1290.4 3255.6,1181.1 3256.6,1304.5 3257.5,1213.9 3258.4,1291.3 3259.3,1211 3260.2,1293.9 3261.1,1220.3 3262,1292.5 3262.9,1221.7 3263.8,1303.4 3264.8,1228.4 3265.7,1345.1 3266.6,1224.3 3267.5,1310.1 3268.4,1225.2 3269.3,1299.9 3270.2,1193.3 3271.1,1312.4 3272.1,1242.2 3273,1294 3273.9,1253.8 3274.8,1296.5 3275.7,1248.2 3276.6,1291.9 3277.5,1253.2 3278.4,1301.8 3279.3,1246.9 3280.3,1298 3281.2,1249.4 3282.1,1342.4 3283,1248.8 3283.9,1325.6 3284.8,1244.2 3285.7,1321.2 3286.6,1245.7 3287.5,1324.4 3288.5,1236.8 3289.4,1309.7 3290.3,1230.4 3291.2,1311.1 3292.1,1209.2 3293,1300.2 3293.9,1222.4 3294.8,1300.3 3295.8,1217.7 3296.7,1307.1 3297.6,1269 3298.5,1303.7 3299.4,1266.8 3300.3,1303.8 3301.2,1268.9 3302.1,1312.4 3303,1256.2 3304,1298.6 3304.9,1262 3305.8,1304.5 3306.7,1246.5 3307.6,1279.4 3308.5,1208.4 3309.4,1270.2 3310.3,1220.7 3311.2,1280.6 3312.2,1203.1 3313.1,1264.7 3314,1215.1 3314.9,1264.3 3315.8,1229.3 3316.7,1282.5 3317.6,1221.7 3318.5,1337.6 3319.5,1263.9 3320.4,1361 3321.3,1258.8 3322.2,1315.6 3323.1,1248.4 3324,1297 3324.9,1205.7 3325.8,1304.5 3326.7,1202.4 3327.7,1303.4 3328.6,1177.9 3329.5,1315.1 3330.4,1190.2 3331.3,1305.3 3332.2,1139.9 3333.1,1361.5 3334,1246 3334.9,1337.7 3335.9,1238.9 3336.8,1368.2 3337.7,1251.6 3338.6,1344.7 3339.5,1245.5 3340.4,1349.6 3341.3,1257.3 3342.2,1345.6 3343.2,1243.4 3344.1,1342.2 3345,1217.7 3345.9,1358.9 3346.8,1224.7 3347.7,1339.5 3348.6,1217.1 3349.5,1374.8 3350.4,1222.1 3351.4,1324.8 3352.3,1226.4 3353.2,1336.3 3354.1,1219 3355,1327.5 3355.9,1231.1 3356.8,1333.7 3357.7,1201.8 3358.6,1291.2 3359.6,1230.3 3360.5,1288.9 3361.4,1233 3362.3,1287.5 3363.2,1232.1 3364.1,1296.9 3365,1232.4 3365.9,1370.8 3366.9,1179.2 3367.8,1342.1 3368.7,1197.1 3369.6,1342.2 3370.5,1165.9 3371.4,1343.9 3372.3,1191.4 3373.2,1394.7 3374.1,1200.4 3375.1,1337.4 3376,1207.2 3376.9,1340.3 3377.8,1189 3378.7,1333.7 3379.6,1215.6 3380.5,1323.1 3381.4,1203.1 3382.3,1336.3 3383.3,1212.4 3384.2,1286.3 3385.1,1207.1 3386,1287.2 3386.9,1191.9 3387.8,1286.1 3388.7,1250.6 3389.6,1291.2 3390.6,1248.2 3391.5,1289 3392.4,1250.3 3393.3,1297.9 3394.2,1210.2 3395.1,1321.7 3396,1244.2 3396.9,1316.3 3397.8,1250.6 3398.8,1323 3399.7,1245.5 3400.6,1320.6 3401.5,1249.5 3402.4,1356.2 3403.3,1245.2 3404.2,1330.3 3405.1,1235.5 3406,1341.6 3407,1252 3407.9,1324.7 3408.8,1245.5 3409.7,1320.6 3410.6,1253 3411.5,1325.7 3412.4,1184 3413.3,1320.9 3414.3,1225.7 3415.2,1323.5 3416.1,1221.7 3417,1324.2 3417.9,1233.7 3418.8,1336.3 3419.7,1233.8 3420.6,1306.2 3421.5,1224.3 3422.5,1309.8 3423.4,1227 3424.3,1309 3425.2,1185.8 3426.1,1319.1 3427,1201.6 3427.9,1311.3 3428.8,1205 3429.7,1327 3430.7,1200.4 3431.6,1322.5 3432.5,1216.4 3433.4,1333.7 3434.3,1205.5 3435.2,1321.4 3436.1,1168 3437,1322.4 3438,1176.5 3438.9,1328.6 3439.8,1193.3 3440.7,1378.8 3441.6,1171.8 3442.5,1334.5 3443.4,1195 3444.3,1349.6 3445.2,1193.8 3446.2,1320.8 3447.1,1189.8 3448,1321.7 3448.9,1196.7 3449.8,1269.5 3450.7,1194.8 3451.6,1272.6 3452.5,1179.7 3453.4,1269.1 3454.4,1239.8 3455.3,1297.8 3456.2,1232.3 3457.1,1289 3458,1252.7 3458.9,1301.8 3459.8,1248.2 3460.7,1303.5 3461.7,1259.7 3462.6,1305.9 3463.5,1256.2 3464.4,1320.4 3465.3,1260.7 3466.2,1296 3467.1,1249 3468,1301.8 3468.9,1224.3 3469.9,1297.8 3470.8,1241.5 3471.7,1300.1 3472.6,1244 3473.5,1313.2 3474.4,1242.1 3475.3,1291.4 3476.2,1246.4 3477.1,1284.9 3478.1,1245.5 3479,1291.2 3479.9,1246.7 3480.8,1286.7 3481.7,1226.2 3482.6,1288.2 3483.5,1241.3 3484.4,1291.2 3485.3,1238.9 3486.3,1295.1 3487.2,1251.4 3488.1,1341.6 3489,1248.2 3489.9,1321.6 3490.8,1257.3 3491.7,1318.3 3492.6,1208.4 3493.6,1322.5 3494.5,1223 3495.4,1305.2 3496.3,1195.6 3497.2,1305.4 3498.1,1246.8 3499,1320.4 3499.9,1253.6 3500.8,1372.1 3501.8,1248.2 3502.7,1325 3503.6,1253.4 3504.5,1315.5 3505.4,1221.7 3506.3,1311.3 3507.2,1227.8 3508.1,1327 3509,1177.1 3510,1304.9 3510.9,1199.6 3511.8,1317.7 3512.7,1147.9 3513.6,1307.3 3514.5,1213.8 3515.4,1364.2 3516.3,1192.5 3517.3,1334.9 3518.2,1191.7 3519.1,1335.8 3520,1212.8 3520.9,1372.1 3521.8,1220 3522.7,1311.1 3523.6,1225.2 3524.5,1316.4 3525.5,1220.3 3526.4,1275.7 3527.3,1232.2 3528.2,1273.6 3529.1,1228.3 3530,1273.6 3530.9,1244.9 3531.8,1312.4 3532.7,1242.9 3533.7,1308.2 3534.6,1245.8 3535.5,1331 3536.4,1209.7 3537.3,1319.9 3538.2,1218.8 3539.1,1313.4 3540,1217.3 3541,1319.1 3541.9,1193.3 3542.8,1305.3 3543.7,1222 3544.6,1316.1 3545.5,1203.1 3546.4,1335 3547.3,1235.7 3548.2,1303.1 3549.2,1227 3550.1,1307.1 3551,1235.3 3551.9,1304.5 3552.8,1228.8 3553.7,1320.8 3554.6,1206.5 3555.5,1354.9 3556.4,1217 3557.4,1342.9 3558.3,1200.4 3559.2,1357.5 3560.1,1222.4 3561,1333.9 3561.9,1205.7 3562.8,1364.7 3563.7,1217.3 3564.7,1310.2 3565.6,1202.5 3566.5,1317.7 3567.4,1208.1 3568.3,1297.7 3569.2,1196.4 3570.1,1296.6 3571,1203.9 3571.9,1307.1 3572.9,1175.2 3573.8,1327 3574.7,1205.2 3575.6,1318.8 3576.5,1196.4 3577.4,1392 3578.3,1214.9 3579.2,1352.7 3580.1,1220.4 3581.1,1364.2 3582,1194.6 3582.9,1308.4 3583.8,1223.7 3584.7,1289 3585.6,1219 3586.5,1293.9 3587.4,1240.3 3588.4,1286.9 3589.3,1237.6 3590.2,1281.6"/>
<path class="k" d="M2657.5,1438.5 v15 M2839.5,1438.5 v15 M3022.5,1438.5 v15 M3204.5,1438.5 v15 M3386.5,1438.5 v15 M3569.5,1438.5 v15 M2611.5,1178.5 h-15 M2611.5,1278.5 h-15 M2611.5,1377.5 h-15"/>
<rect class="k" x="2611.5" y="1083.5" width="1025" height="355"/>
<text class="x" transform="translate(2657.5,1500.7) scale(0.94,1)">0</text>
<text class="x" transform="translate(2839.5,1500.7) scale(0.94,1)">200</text>
<text class="x" transform="translate(3022.5,1500.7) scale(0.94,1)">400</text>
<text class="x" transform="translate(3204.5,1500.7) scale(0.94,1)">600</text>
<text class="x" transform="translate(3386.5,1500.7) scale(0.94,1)">800</text>
<text class="x" transform="translate(3569.5,1500.7) scale(0.94,1)">1000</text>
<text class="y" transform="translate(2581.5,1194.5) scale(0.94,1)">0.2</text>
<text class="y" transform="translate(2581.5,1294.5) scale(0.94,1)">0.0</text>
<text class="y" transform="translate(2581.5,1393.5) scale(0.94,1)">−0.2</text>
<text class="t" transform="translate(3123.9,1058.3) scale(0.957,1)">de_14_outer</text>
</g>
<g>
<path class="s" d="M195.9,1682.8 196.8,1826.4 197.7,1711.2 198.7,1805.2 199.6,1698.4 200.5,1831.1 201.4,1725.1 202.3,1799.3 203.2,1699.8 204.1,1797 205,1764 206,1811.8 206.9,1762.1 207.8,1774.7 208.7,1764.7 209.6,1775.9 210.5,1744.9 211.4,1773.6 212.3,1754.8 213.2,1806.5 214.2,1748.3 215.1,1792.6 216,1746.2 216.9,1818.4 217.8,1750.6 218.7,1796.4 219.6,1722.8 220.5,1786.1 221.4,1746.7 222.4,1807.8 223.3,1734.2 224.2,1783.9 225.1,1750.4 226,1778.3 226.9,1742.2 227.8,1777.2 228.7,1745.3 229.7,1794.5 230.6,1747.1 231.5,1785.5 232.4,1739.6 233.3,1823.7 234.2,1750.8 235.1,1805.9 236,1718.9 236.9,1837 237.9,1739.9 238.8,1820 239.7,1730.3 240.6,1847.6 241.5,1741.7 242.4,1825.5 243.3,1630 244.2,1827.1 245.1,1669.8 246.1,1919.8 247,1595.5 247.9,1846.3 248.8,1662.3 249.7,1913.9 250.6,1618.8 251.5,1822.7 252.4,1711.6 253.4,1879.4 254.3,1734.9 255.2,1799.2 256.1,1700.3 257,1813.1 257.9,1748.8 258.8,1802.2 259.7,1743.5 260.6,1839.1 261.6,1746.7 262.5,1811.6 263.4,1721.8 264.3,1811.2 265.2,1728.2 266.1,1814.9 267,1710.4 267.9,1800.1 268.8,1715.6 269.8,1818.4 270.7,1700.5 271.6,1802.2 272.5,1731.7 273.4,1804.1 274.3,1724.2 275.2,1818.4 276.1,1740.4 277.1,1807.6 278,1730.3 278.9,1804.3 279.8,1751.6 280.7,1809.1 281.6,1743.5 282.5,1795.9 283.4,1753.2 284.3,1801.1 285.3,1750.2 286.2,1790.7 287.1,1739 288,1790 288.9,1745.7 289.8,1802.5 290.7,1741.4 291.6,1787.1 292.5,1722.3 293.5,1789.6 294.4,1733.9 295.3,1805.1 296.2,1735.3 297.1,1790.4 298,1731.6 298.9,1799.3 299.8,1747.4 300.8,1811.2 301.7,1732.9 302.6,1804.4 303.5,1740.8 304.4,1837 305.3,1731 306.2,1809.4 307.1,1707.7 308,1816.3 309,1726.2 309.9,1870.1 310.8,1651.2 311.7,1825.1 312.6,1696.1 313.5,1890.8 314.4,1652.5 315.3,1828.8 316.2,1695.7 317.2,1856.9 318.1,1701.8 319,1801.1 319.9,1675.9 320.8,1810.4 321.7,1744 322.6,1797.5 323.5,1738.2 324.4,1797.2 325.4,1745.2 326.3,1791.4 327.2,1736.1 328.1,1846.3 329,1746.4 329.9,1800.5 330.8,1730.8 331.7,1806.1 332.7,1740 333.6,1825 334.5,1720.4 335.4,1791.8 336.3,1735.8 337.2,1802.5 338.1,1710.9 339,1789.5 339.9,1749.1 340.9,1793 341.8,1753.5 342.7,1797.2 343.6,1738.8 344.5,1790.3 345.4,1759.9 346.3,1811.8 347.2,1751.5 348.1,1795.8 349.1,1760.1 350,1792.9 350.9,1756.8 351.8,1803.8 352.7,1758.7 353.6,1786.4 354.5,1743.5 355.4,1791.9 356.4,1753.2 357.3,1787.1 358.2,1738.2 359.1,1786.4 360,1756.6 360.9,1799.8 361.8,1760.8 362.7,1794.4 363.6,1746.2 364.6,1799 365.5,1756.8 366.4,1811.8 367.3,1760.6 368.2,1805.2 369.1,1713 370,1802.2 370.9,1729.1 371.8,1810.4 372.8,1709 373.7,1801.8 374.6,1739.6 375.5,1807.8 376.4,1732.2 377.3,1800 378.2,1719.7 379.1,1854.2 380.1,1722.3 381,1821.5 381.9,1735.6 382.8,1824.7 383.7,1739.3 384.6,1848.9 385.5,1710.9 386.4,1806.6 387.3,1745.8 388.3,1815.7 389.2,1725.5 390.1,1786.2 391,1746.2 391.9,1794.5 392.8,1738.2 393.7,1779.3 394.6,1756.8 395.5,1781.2 396.5,1751.5 397.4,1781.8 398.3,1770.4 399.2,1782 400.1,1767.4 401,1802.5 401.9,1772.8 402.8,1795.4 403.8,1761.3 404.7,1800.3 405.6,1765.6 406.5,1813.1 407.4,1736.1 408.3,1786.6 409.2,1752.8 410.1,1791.9 411,1745.7 412,1779.5 412.9,1740.1 413.8,1777.1 414.7,1736.2 415.6,1781.2 416.5,1727.6 417.4,1777.7 418.3,1747.7 419.2,1775.9 420.2,1740.9 421.1,1782.9 422,1755.2 422.9,1803.8 423.8,1762 424.7,1793.5 425.6,1747 426.5,1797.2 427.5,1762.1 428.4,1785.7 429.3,1766.7 430.2,1782.8 431.1,1766.4 432,1786.5 432.9,1756.8 433.8,1778.3 434.7,1761.7 435.7,1777.5 436.6,1759.3 437.5,1779.9 438.4,1740.9 439.3,1775.7 440.2,1756.2 441.1,1774.7 442,1752.8 442.9,1778.6 443.9,1759.1 444.8,1775.7 445.7,1759.5 446.6,1776.9 447.5,1762.4 448.4,1779.1 449.3,1765 450.2,1781.3 451.2,1762.1 452.1,1787.9 453,1765.4 453.9,1783.4 454.8,1766 455.7,1781.7 456.6,1759.5 457.5,1783.9 458.4,1763.7 459.4,1779.5 460.3,1762.5 461.2,1779.5 462.1,1763.4 463,1778.1 463.9,1760.8 464.8,1776.9 465.7,1764.1 466.6,1783.1 467.6,1762.7 468.5,1777.4 469.4,1762.6 470.3,1776.7 471.2,1760.8 472.1,1776.8 473,1762.2 473.9,1779.9 474.9,1756.8 475.8,1776.7 476.7,1762.1 477.6,1775.6 478.5,1762 479.4,1777.9 480.3,1754.2 481.2,1780.1 482.1,1764.2 483.1,1789.2 484,1765.4 484.9,1778.6 485.8,1758.1 486.7,1777.6 487.6,1766.6 488.5,1781.2 489.4,1767.6 490.3,1771.7 491.3,1766.1 492.2,1771.6 493.1,1767.6 494,1772 494.9,1767.6 495.8,1771 496.7,1763.4 497.6,1772 498.6,1765.9 499.5,1775.9 500.4,1759.5 501.3,1774.1 502.2,1764.5 503.1,1781.2 504,1763.2 504.9,1774.2 505.8,1730.3 506.8,1807.8 507.7,1741.3 508.6,1796.4 509.5,1740.6 510.4,1806.5 511.3,1716.2 512.2,1822.4 513.1,1736.5 514,1810.2 515,1696.3 515.9,1834.3 516.8,1734.8 517.7,1817.9 518.6,1719.7 519.5,1823.8 520.4,1742.1 521.3,1846.8 522.3,1743.6 523.2,1814.6 524.1,1740.9 525,1818.4 525.9,1743.7 526.8,1809.8 527.7,1690.5 528.6,1805.4 529.5,1705.6 530.5,1826.4 531.4,1672.7 532.3,1824.1 533.2,1716 534.1,1843.6 535,1731.2 535.9,1820.5 536.8,1701.1 537.7,1804.5 538.7,1752.8 539.6,1833 540.5,1736.9 541.4,1790.6 542.3,1750.4 543.2,1802.5 544.1,1747.5 545,1783.9 546,1753.4 546.9,1789.2 547.8,1755 548.7,1784.7 549.6,1742.2 550.5,1784.7 551.4,1746 552.3,1794.5 553.2,1734.2 554.2,1783.6 555.1,1756.3 556,1783.1 556.9,1759.4 557.8,1791.9 558.7,1756.8 559.6,1780.8 560.5,1764.9 561.4,1783.9 562.4,1759.5 563.3,1780.4 564.2,1762.1 565.1,1790.5 566,1760 566.9,1781.8 567.8,1752.1 568.7,1784 569.7,1728.1 570.6,1791.1 571.5,1736.7 572.4,1825 573.3,1736.8 574.2,1809.2 575.1,1713 576,1829 576.9,1730.2 577.9,1814.2 578.8,1725 579.7,1848.9 580.6,1661.3 581.5,1828.6 582.4,1698.4 583.3,1874.1 584.2,1680.2 585.1,1848.4 586.1,1618.8 587,1890 587.9,1683.3 588.8,1848.7 589.7,1656.5 590.6,1866.2 591.5,1727.5 592.4,1816.6 593.3,1715.1 594.3,1811.5 595.2,1766.7 596.1,1834.3 597,1762.1 597.9,1794.5 598.8,1764.3 599.7,1797.2 600.6,1751.5 601.6,1794.4 602.5,1757.8 603.4,1794.4 604.3,1717.8 605.2,1802.5 606.1,1729.7 607,1792.5 607.9,1709 608.8,1821 609.8,1749 610.7,1805.9 611.6,1746.2 612.5,1803 613.4,1751 614.3,1815.7 615.2,1745.7 616.1,1787.7 617,1754 618,1789.2 618.9,1756.6 619.8,1783.6 620.7,1751.5 621.6,1803.8 622.5,1756.1 623.4,1792.7 624.3,1731.6 625.3,1813.1 626.2,1746 627.1,1789.7 628,1719.1 628.9,1783.8 629.8,1739.8 630.7,1799.8 631.6,1743.1 632.5,1791.4 633.5,1731.6 634.4,1803.8 635.3,1744.3 636.2,1791.3 637.1,1738.2 638,1798 638.9,1749.3 639.8,1839.6 640.7,1752 641.7,1829.6 642.6,1717 643.5,1862.2 644.4,1741.2 645.3,1842.4 646.2,1725 647.1,1868.8 648,1608.2 649,1852.8 649.9,1676.6 650.8,1898.8 651.7,1606.9 652.6,1847.1 653.5,1654.5 654.4,1879.4 655.3,1663 656.2,1830.9 657.2,1649.3 658.1,1820.7 659,1737 659.9,1850.2 660.8,1715.7 661.7,1804 662.6,1763 663.5,1807.8 664.4,1756.8 665.4,1803.9 666.3,1765.5 667.2,1850.2 668.1,1718.3 669,1819.9 669.9,1747.3 670.8,1814 671.7,1733.4 672.7,1823.7 673.6,1706.4 674.5,1797.9 675.4,1719.5 676.3,1807.8 677.2,1701.1 678.1,1793.9 679,1758.8 679.9,1794.5 680.9,1748.8 681.8,1792.8 682.7,1758.9 683.6,1797.2 684.5,1758.1 685.4,1791.1 686.3,1767 687.2,1791.4 688.1,1762.1 689.1,1799.8 690,1767 690.9,1788.8 691.8,1746.2 692.7,1787.7 693.6,1755.8 694.5,1794.5 695.4,1739.6 696.4,1780.9 697.3,1751.1 698.2,1786.5 699.1,1728.9 700,1782.1 700.9,1741.1 701.8,1803.8 702.7,1745.2 703.6,1783.2 704.6,1738.8 705.5,1786.5 706.4,1756.2 707.3,1785.3 708.2,1748.8 709.1,1789.2 710,1757 710.9,1784.9 711.8,1743.5 712.8,1799.8 713.7,1752.6 714.6,1794.4 715.5,1731.6 716.4,1798.7 717.3,1747 718.2,1837 719.1,1725.8 720.1,1813.3 721,1738.6 721.9,1802.4 722.8,1723.6 723.7,1817.1 724.6,1734.9 725.5,1790.3 726.4,1740.2 727.3,1797.2 728.3,1729.5 729.2,1795.1 730.1,1751.8 731,1801.1 731.9,1738.2 732.8,1792.2 733.7,1754.4 734.6,1812.3 735.5,1756.6 736.5,1792 737.4,1747.5 738.3,1789.2 739.2,1760.8 740.1,1797.2 741,1759.5 741.9,1777.4 742.8,1763 743.8,1778.6 744.7,1751.5 745.6,1776.5 746.5,1759.8 747.4,1798.5 748.3,1758.3 749.2,1783.9 750.1,1747 751,1794.6 752,1752.5 752.9,1797.7 753.8,1739.6 754.7,1791.7 755.6,1748.3 756.5,1804.6 757.4,1739 758.3,1790.5 759.2,1748.5 760.2,1792.8 761.1,1755.4 762,1795.8 762.9,1746.2 763.8,1787.2 764.7,1765.6 765.6,1785.5 766.5,1762.1 767.5,1789.2 768.4,1765.2 769.3,1783.4 770.2,1760.8 771.1,1794 772,1764.3 772.9,1782 773.8,1732.9 774.7,1786.5 775.7,1740.5 776.6,1777.8 777.5,1724.2 778.4,1782.1 779.3,1732 780.2,1807.8 781.1,1701.1 782,1795.1 782.9,1754.4 783.9,1831.7 784.8,1743.5 785.7,1803.8 786.6,1755.3 787.5,1843.1 788.4,1755.2 789.3,1812.9 790.2,1729.7 791.2,1796.5 792.1,1741 793,1825 793.9,1732.1 794.8,1775 795.7,1745.9 796.6,1781.2 797.5,1736.9 798.4,1773.6 799.4,1767.6 800.3,1773.8 801.2,1764.8 802.1,1774.2 803,1773.6 803.9,1787.9 804.8,1772.7 805.7,1782.4 806.6,1774.1 807.6,1797.2 808.5,1768.7 809.4,1784 810.3,1772.2 811.2,1781.3 812.1,1769 813,1783.9 813.9,1745.4 814.9,1778.3 815.8,1758.3 816.7,1776.9 817.6,1754.2 818.5,1778.6 819.4,1761.2 820.3,1774.3 821.2,1764.7 822.1,1774.8 823.1,1759.5 824,1781.2 824.9,1769.7 825.8,1774 826.7,1767.4 827.6,1775.9 828.5,1769.6 829.4,1773.9 830.3,1761.3 831.3,1777.3 832.2,1769.8 833.1,1776 834,1767.4 834.9,1777.2 835.8,1769.6 836.7,1778.2 837.6,1768.6 838.6,1783.4 839.5,1762.1 840.4,1775.4 841.3,1765.3 842.2,1775.9 843.1,1756 844,1774.9 844.9,1770.1 845.8,1779.4 846.8,1770.4 847.7,1775.9 848.6,1768.7 849.5,1776.9 850.4,1770 851.3,1778.1 852.2,1766.9 853.1,1783.9 854,1768.8 855,1776.5 855.9,1761.6 856.8,1775.8 857.7,1767.4 858.6,1775.9 859.5,1767.5 860.4,1775.4 861.3,1768.2 862.2,1777.3 863.2,1762.6 864.1,1775.6 865,1768.6 865.9,1775.6 866.8,1768.5 867.7,1775.8 868.6,1766.1 869.5,1779.9 870.5,1769 871.4,1776.1 872.3,1767.3 873.2,1778.6 874.1,1764.8 875,1775.7 875.9,1765 876.8,1777 877.7,1764.3 878.7,1783.9 879.6,1756.8 880.5,1776.5 881.4,1762.6 882.3,1774.5 883.2,1763.4 884.1,1778.6 885,1761.6 885.9,1772.2 886.9,1763.8 887.8,1771.3 888.7,1764.7 889.6,1773.3 890.5,1761.6 891.4,1772 892.3,1764.6 893.2,1772 894.2,1768.4 895.1,1773.3 896,1761.6 896.9,1774 897.8,1773.9 898.7,1786.5 899.6,1772.7 900.5,1777.7 901.4,1774.4 902.4,1776.1 903.3,1767.4 904.2,1775.9 905.1,1771.3 906,1776 906.9,1748.3 907.8,1775.5 908.7,1762.3 909.6,1790.5 910.6,1755.8 911.5,1782.7 912.4,1739.6 913.3,1812.3 914.2,1757.8 915.1,1804.2 916,1746.2 916.9,1823.7 917.9,1762.7 918.8,1810 919.7,1679.3 920.6,1856.3 921.5,1713.1 922.4,1821.2 923.3,1661.3 924.2,1831.2 925.1,1688.9 926.1,1859 927,1698.5 927.9,1833 928.8,1678.5 929.7,1852.9 930.6,1710.4 931.5,1824.3 932.4,1732.7 933.3,1846.3 934.3,1738.9 935.2,1816.2 936.1,1725 937,1826.4 937.9,1744.3 938.8,1799.6 939.7,1738 940.6,1801.4 941.6,1712.5 942.5,1807.8 943.4,1725.4 944.3,1795.6 945.2,1717.5 946.1,1802.5 947,1762.1 947.9,1791.3 948.8,1764.6 949.8,1799.8 950.7,1752.8 951.6,1777.6 952.5,1765.8 953.4,1778.6 954.3,1762.1 955.2,1778.7 956.1,1764.1 957,1802.5 958,1747.5 958.9,1789.6 959.8,1757.5 960.7,1817.6 961.6,1721.5 962.5,1789.2 963.4,1740 964.3,1789.3 965.3,1735.4 966.2,1797.2 967.1,1717.5 968,1792 968.9,1751.2 969.8,1797.2 970.7,1739 971.6,1790.4 972.5,1750.3 973.5,1798.5 974.4,1743.5 975.3,1793.4 976.2,1747.8 977.1,1840.9 978,1754.5 978.9,1812.9 979.8,1705.6 980.7,1823.4 981.7,1725.8 982.6,1847.6 983.5,1718 984.4,1829.4 985.3,1709 986.2,1862.2 987.1,1604.2 988,1851.8 989,1665.9 989.9,1915.8 990.8,1600.8 991.7,1855.7 992.6,1693.5 993.5,1900.7 994.4,1642.7 995.3,1842.8 996.2,1739.5 997.2,1866.2 998.1,1745.2 999,1799.8 999.9,1714.3 1000.8,1807.8 1001.7,1748.5 1002.6,1808.3 1003.5,1743.5 1004.4,1824.5 1005.4,1747.7 1006.3,1805.2 1007.2,1736.9 1008.1,1818.4 1009,1744.1 1009.9,1811.2 1010.8,1705.1 1011.7,1827.7 1012.7,1723.6 1013.6,1808.3 1014.5,1690.5 1015.4,1814.7 1016.3,1742.2 1017.2,1825 1018.1,1725 1019,1807.6 1019.9,1750.1 1020.9,1801.6 1021.8,1750.5 1022.7,1812.3 1023.6,1736.9 1024.5,1803.8 1025.4,1758.2 1026.3,1800.4 1027.2,1755.1 1028.1,1807.8 1029.1,1743.5 1030,1788.6 1030.9,1750.9 1031.8,1789.4 1032.7,1747.9 1033.6,1797.2 1034.5,1726.3 1035.4,1793.3 1036.4,1741 1037.3,1794.6 1038.2,1735.6 1039.1,1805.1 1040,1743.9 1040.9,1799.4 1041.8,1741.1 1042.7,1801.7 1043.6,1738.2 1044.6,1802.4 1045.5,1743.3 1046.4,1809.1 1047.3,1744.9 1048.2,1795.9 1049.1,1736.4 1050,1813.1 1050.9,1745.8 1051.8,1813.7 1052.8,1701.1 1053.7,1830.3 1054.6,1719.9 1055.5,1818.6 1056.4,1716.2 1057.3,1840.4 1058.2,1697.1 1059.1,1816 1060.1,1720.1 1061,1837 1061.9,1725 1062.8,1776.8 1063.7,1701.1 1064.6,1794.5 1065.5,1749.8 1066.4,1787.1 1067.3,1742.2 1068.3,1787.7 1069.2,1755.1 1070.1,1794.5 1071,1752.8 1071.9,1788.3 1072.8,1756.6 1073.7,1825.6 1074.6,1751.5 1075.5,1794.8 1076.5,1759.6 1077.4,1805.1 1078.3,1754.9 1079.2,1776.1 1080.1,1735.6 1081,1781.2 1081.9,1748.5 1082.8,1777.6 1083.8,1741.7 1084.7,1778.8 1085.6,1758.6 1086.5,1778.6 1087.4,1755.5 1088.3,1776.4 1089.2,1758.4 1090.1,1801.1 1091,1760.5 1092,1788.9 1092.9,1756.8 1093.8,1790 1094.7,1762.9 1095.6,1795.8 1096.5,1761.9 1097.4,1778.2 1098.3,1758.1 1099.2,1781.2 1100.2,1760.8 1101.1,1778.1 1102,1746.7 1102.9,1778.5 1103.8,1753.3 1104.7,1783.9 1105.6,1753 1106.5,1778.3 1107.5,1751.5 1108.4,1801.1 1109.3,1748.8 1110.2,1795.2 1111.1,1754.4 1112,1814.4 1112.9,1708.2 1113.8,1801.1 1114.7,1718.5 1115.7,1815.7 1116.6,1696.6 1117.5,1794.8 1118.4,1716 1119.3,1810.4 1120.2,1687 1121.1,1807.8 1122,1716.5 1122.9,1892.7 1123.9,1684.6 1124.8,1868.4 1125.7,1709.4 1126.6,1886.1 1127.5,1707.3 1128.4,1692.1"/>
<path class="k" d="M195.5,1936.5 v15 M378.5,1936.5 v15 M560.5,1936.5 v15 M742.5,1936.5 v15 M925.5,1936.5 v15 M1107.5,1936.5 v15 M149.5,1627.5 h-15 M149.5,1772.5 h-15 M149.5,1916.5 h-15"/>
<rect class="k" x="149.5" y="1580.5" width="1026" height="356"/>
<text class="x" transform="translate(195.5,1998.2) scale(0.94,1)">0</text>
<text class="x" transform="translate(378.5,1998.2) scale(0.94,1)">200</text>
<text class="x" transform="translate(560.5,1998.2) scale(0.94,1)">400</text>
<text class="x" transform="translate(742.5,1998.2) scale(0.94,1)">600</text>
<text class="x" transform="translate(925.5,1998.2) scale(0.94,1)">800</text>
<text class="x" transform="translate(1107.5,1998.2) scale(0.94,1)">1000</text>
<text class="y" transform="translate(119.7,1643.5) scale(0.94,1)">2</text>
<text class="y" transform="translate(119.7,1788.5) scale(0.94,1)">0</text>
<text class="y" transform="translate(119.7,1932.5) scale(0.94,1)">−2</text>
<text class="t" transform="translate(662.2,1555.9) scale(0.957,1)">de_21_inner</text>
</g>
<g>
<path class="s" d="M1426.8,1773 1427.7,1778.6 1428.6,1733.7 1429.5,1775.5 1430.5,1741.6 1431.4,1787.3 1432.3,1743.3 1433.2,1783.2 1434.1,1738.2 1435,1786.5 1435.9,1755.4 1436.8,1789.4 1437.7,1756.8 1438.7,1804.6 1439.6,1752.5 1440.5,1791.5 1441.4,1676.7 1442.3,1789.2 1443.2,1709.9 1444.1,1781.4 1445,1710.4 1445.9,1784.3 1446.9,1739.6 1447.8,1818.4 1448.7,1749 1449.6,1786.6 1450.5,1746.2 1451.4,1789.2 1452.3,1748.2 1453.2,1781 1454.2,1725 1455.1,1790.5 1456,1733.4 1456.9,1777.6 1457.8,1666.6 1458.7,1780.3 1459.6,1702.5 1460.5,1811 1461.4,1703.7 1462.4,1811.8 1463.3,1712 1464.2,1795.6 1465.1,1686.5 1466,1801.8 1466.9,1717.6 1467.8,1813.1 1468.7,1709.8 1469.6,1797.2 1470.6,1728.9 1471.5,1783.3 1472.4,1724.2 1473.3,1779.6 1474.2,1746.5 1475.1,1781.2 1476,1746.2 1476.9,1780.8 1477.8,1747.8 1478.8,1787.9 1479.7,1742.7 1480.6,1780.1 1481.5,1716.2 1482.4,1829.8 1483.3,1738.9 1484.2,1795 1485.1,1730.3 1486.1,1788.6 1487,1735.4 1487.9,1789.2 1488.8,1725 1489.7,1788.2 1490.6,1735.5 1491.5,1839.1 1492.4,1697.9 1493.3,1811 1494.3,1705.7 1495.2,1810 1496.1,1695.2 1497,1813.1 1497.9,1706.3 1498.8,1809 1499.7,1712.3 1500.6,1807.4 1501.5,1706.9 1502.5,1817.6 1503.4,1717.3 1504.3,1799.3 1505.2,1715.7 1506.1,1811.8 1507,1720 1507.9,1774.7 1508.8,1711.4 1509.8,1778.6 1510.7,1691 1511.6,1773.1 1512.5,1705 1513.4,1818.4 1514.3,1658.6 1515.2,1798.9 1516.1,1706.7 1517,1804.7 1518,1696.6 1518.9,1821 1519.8,1729.5 1520.7,1816.4 1521.6,1719.7 1522.5,1846.8 1523.4,1731.4 1524.3,1812 1525.2,1714.3 1526.2,1817.1 1527.1,1718.1 1528,1798.8 1528.9,1704.3 1529.8,1794.6 1530.7,1713.6 1531.6,1801.7 1532.5,1697.6 1533.5,1782.7 1534.4,1713.3 1535.3,1790.5 1536.2,1707.2 1537.1,1777.9 1538,1747.9 1538.9,1781.2 1539.8,1746.2 1540.7,1780.1 1541.7,1749.4 1542.6,1801.1 1543.5,1742.2 1544.4,1800.5 1545.3,1750.3 1546.2,1827.7 1547.1,1698.4 1548,1817.4 1548.9,1713.8 1549.9,1823.7 1550.8,1667.1 1551.7,1819.3 1552.6,1689.6 1553.5,1854.2 1554.4,1687.1 1555.3,1814.9 1556.2,1671.4 1557.2,1821 1558.1,1698.6 1559,1807 1559.9,1695.8 1560.8,1823.2 1561.7,1733.3 1562.6,1773.7 1563.5,1730.3 1564.4,1778.6 1565.4,1733.6 1566.3,1776 1567.2,1730.3 1568.1,1781.2 1569,1733.2 1569.9,1779.2 1570.8,1689.1 1571.7,1783.2 1572.6,1729.2 1573.6,1798 1574.5,1740.9 1575.4,1787.6 1576.3,1746.7 1577.2,1791.9 1578.1,1748.3 1579,1786.7 1579.9,1740.9 1580.9,1802.5 1581.8,1744.1 1582.7,1798.3 1583.6,1717 1584.5,1807.8 1585.4,1636.1 1586.3,1895.3 1587.2,1672.2 1588.1,1873.5 1589.1,1683.1 1590,1864.1 1590.9,1641.4 1591.8,1904.6 1592.7,1660.5 1593.6,1862.9 1594.5,1644.4 1595.4,1861.7 1596.3,1606.9 1597.3,1907.3 1598.2,1647.9 1599.1,1875.2 1600,1651.2 1600.9,1876.2 1601.8,1614.8 1602.7,1880.4 1603.6,1660.4 1604.6,1904.1 1605.5,1634.2 1606.4,1878.6 1607.3,1661.9 1608.2,1884.7 1609.1,1658.6 1610,1829.4 1610.9,1685.8 1611.8,1834.3 1612.8,1700.3 1613.7,1813.8 1614.6,1689.1 1615.5,1818.4 1616.4,1710 1617.3,1807.4 1618.2,1698.4 1619.1,1809.5 1620,1720 1621,1852.4 1621.9,1707.7 1622.8,1791 1623.7,1723.7 1624.6,1782.5 1625.5,1729.3 1626.4,1794.5 1627.3,1727.6 1628.3,1770.4 1629.2,1729.1 1630.1,1775.9 1631,1680.6 1631.9,1789.2 1632.8,1705.1 1633.7,1775.2 1634.6,1723.4 1635.5,1813.1 1636.5,1716.5 1637.4,1793.7 1638.3,1736.8 1639.2,1802.5 1640.1,1730.3 1641,1792 1641.9,1738 1642.8,1811.8 1643.7,1710.9 1644.7,1786 1645.6,1719.2 1646.5,1778.4 1647.4,1709.8 1648.3,1789.2 1649.2,1722.5 1650.1,1781.3 1651,1726.2 1652,1798.5 1652.9,1725 1653.8,1795.5 1654.7,1726.8 1655.6,1805.1 1656.5,1722.3 1657.4,1805.5 1658.3,1730.7 1659.2,1850.8 1660.2,1683 1661.1,1817.7 1662,1714.9 1662.9,1823.7 1663.8,1713.1 1664.7,1812.8 1665.6,1713.4 1666.5,1809.4 1667.4,1695.2 1668.4,1809.1 1669.3,1701.5 1670.2,1803 1671.1,1695.2 1672,1801.3 1672.9,1718.5 1673.8,1809.1 1674.7,1717 1675.7,1802.5 1676.6,1727 1677.5,1813.1 1678.4,1726.1 1679.3,1803 1680.2,1705.9 1681.1,1803.6 1682,1714.7 1682.9,1835.1 1683.9,1694.4 1684.8,1792.9 1685.7,1722.3 1686.6,1799.8 1687.5,1732 1688.4,1797.6 1689.3,1727.6 1690.2,1798.7 1691.1,1735.1 1692.1,1803.8 1693,1721.5 1693.9,1801.3 1694.8,1695.8 1695.7,1830.3 1696.6,1699.2 1697.5,1820 1698.4,1698 1699.4,1814.6 1700.3,1700.8 1701.2,1825 1702.1,1665.8 1703,1810.5 1703.9,1689 1704.8,1814.2 1705.7,1665.8 1706.6,1838.3 1707.6,1716.6 1708.5,1813.2 1709.4,1701.1 1710.3,1823.7 1711.2,1730.3 1712.1,1817.4 1713,1742.9 1713.9,1830.3 1714.8,1721.5 1715.8,1768.5 1716.7,1728.2 1717.6,1770.6 1718.5,1727 1719.4,1767.7 1720.3,1727.6 1721.2,1766.5 1722.1,1731.6 1723.1,1768 1724,1726.3 1724.9,1766.7 1725.8,1744.7 1726.7,1785.2 1727.6,1743.5 1728.5,1778.4 1729.4,1746.7 1730.3,1789.2 1731.3,1742.4 1732.2,1786 1733.1,1728.9 1734,1837 1734.9,1706.4 1735.8,1816.7 1736.7,1714.5 1737.6,1814.7 1738.5,1690.5 1739.5,1819.4 1740.4,1718.2 1741.3,1819.1 1742.2,1698.4 1743.1,1813.8 1744,1710.9 1744.9,1826.4 1745.8,1673.2 1746.8,1798.4 1747.7,1730 1748.6,1811.8 1749.5,1746.7 1750.4,1787.9 1751.3,1743.5 1752.2,1794.5 1753.1,1752.6 1754,1789.3 1755,1748.8 1755.9,1791.9 1756.8,1753.6 1757.7,1787.6 1758.6,1740.9 1759.5,1807 1760.4,1740.7 1761.3,1787.3 1762.2,1697.1 1763.2,1791.9 1764.1,1737.9 1765,1789.6 1765.9,1735.6 1766.8,1817.9 1767.7,1739.9 1768.6,1795.4 1769.5,1725 1770.4,1789.7 1771.4,1729.5 1772.3,1795.8 1773.2,1726.8 1774.1,1782.6 1775,1726.7 1775.9,1786.5 1776.8,1721 1777.7,1776.5 1778.7,1726.9 1779.6,1773.2 1780.5,1724.2 1781.4,1781.2 1782.3,1700.3 1783.2,1768.9 1784.1,1711.2 1785,1779.9 1785.9,1699.2 1786.9,1771 1787.8,1723.1 1788.7,1772.1 1789.6,1722.3 1790.5,1775.9 1791.4,1729.7 1792.3,1774.3 1793.2,1716.2 1794.1,1782.3 1795.1,1725.1 1796,1808.6 1796.9,1724.1 1797.8,1791.8 1798.7,1726.6 1799.6,1797.2 1800.5,1721 1801.4,1793.9 1802.4,1725 1803.3,1797.7 1804.2,1733.8 1805.1,1808.3 1806,1699 1806.9,1793.2 1807.8,1728.1 1808.7,1795.8 1809.6,1727.6 1810.6,1781.5 1811.5,1732.5 1812.4,1783.9 1813.3,1732.6 1814.2,1780 1815.1,1719.7 1816,1801.7 1816.9,1729.5 1817.8,1786.3 1818.8,1729.3 1819.7,1784.2 1820.6,1722.3 1821.5,1794.5 1822.4,1731.1 1823.3,1791.9 1824.2,1706.4 1825.1,1842.3 1826.1,1718.3 1827,1815.9 1827.9,1712.5 1828.8,1839.6 1829.7,1693.1 1830.6,1819.7 1831.5,1698.1 1832.4,1846.3 1833.3,1696.6 1834.3,1823.7 1835.2,1676.4 1836.1,1827.6 1837,1703.5 1837.9,1833.5 1838.8,1681.2 1839.7,1818.7 1840.6,1712.9 1841.5,1830.3 1842.5,1703.7 1843.4,1803.6 1844.3,1707.7 1845.2,1799.3 1846.1,1729.6 1847,1805.1 1847.9,1736 1848.8,1796.7 1849.8,1730.3 1850.7,1805.1 1851.6,1735.3 1852.5,1774 1853.4,1732.9 1854.3,1775.9 1855.2,1735.1 1856.1,1775.4 1857,1709 1858,1775.9 1858.9,1715.2 1859.8,1775.8 1860.7,1699.2 1861.6,1776.1 1862.5,1729 1863.4,1786.5 1864.3,1732.9 1865.2,1779.4 1866.2,1742.4 1867.1,1786.4 1868,1740.9 1868.9,1794.5 1869.8,1746.6 1870.7,1796.6 1871.6,1734.1 1872.5,1817.6 1873.5,1696.3 1874.4,1789.1 1875.3,1704.1 1876.2,1786.5 1877.1,1691.8 1878,1785.8 1878.9,1705.6 1879.8,1789.2 1880.7,1686.5 1881.7,1809.6 1882.6,1756.7 1883.5,1803.6 1884.4,1767.4 1885.3,1809.1 1886.2,1772.2 1887.1,1838.8 1888,1766.1 1888.9,1788.7 1889.9,1768.8 1890.8,1770.5 1891.7,1709 1892.6,1770.6 1893.5,1733.9 1894.4,1768.6 1895.3,1734.8 1896.2,1774.7 1897.2,1736.7 1898.1,1794 1899,1688.6 1899.9,1780.5 1900.8,1726.3 1901.7,1783.9 1902.6,1727.6 1903.5,1778.8 1904.4,1734.6 1905.4,1803.8 1906.3,1735.7 1907.2,1790.6 1908.1,1727.6 1909,1793.6 1909.9,1743 1910.8,1798.5 1911.7,1735.6 1912.6,1782.5 1913.6,1737.4 1914.5,1781.2 1915.4,1702.4 1916.3,1778.1 1917.2,1707.5 1918.1,1778.1 1919,1703.7 1919.9,1799.8 1920.9,1711.4 1921.8,1793.4 1922.7,1718 1923.6,1818.4 1924.5,1671.1 1925.4,1829 1926.3,1687 1927.2,1819.8 1928.1,1677.2 1929.1,1850.2 1930,1628.9 1930.9,1830 1931.8,1661.9 1932.7,1890.6 1933.6,1640 1934.5,1837.8 1935.4,1672.8 1936.3,1836.2 1937.3,1648 1938.2,1844.1 1939.1,1700.5 1940,1839.1 1940.9,1719.4 1941.8,1842.3 1942.7,1707.7 1943.6,1838.9 1944.6,1723.8 1945.5,1839.6 1946.4,1714.3 1947.3,1830.4 1948.2,1719.4 1949.1,1851.6 1950,1670 1950.9,1813.4 1951.8,1698 1952.8,1837 1953.7,1713.1 1954.6,1797.7 1955.5,1702.4 1956.4,1807.8 1957.3,1722.7 1958.2,1805.4 1959.1,1709 1960,1819.7 1961,1734.5 1961.9,1805.7 1962.8,1730.3 1963.7,1813.1 1964.6,1731.8 1965.5,1793.9 1966.4,1731.7 1967.3,1794.7 1968.3,1718.3 1969.2,1799 1970.1,1742.5 1971,1793.8 1971.9,1735.6 1972.8,1794.5 1973.7,1737.6 1974.6,1789.4 1975.5,1722.3 1976.5,1783.2 1977.4,1738.8 1978.3,1793.2 1979.2,1736.6 1980.1,1770.6 1981,1721 1981.9,1775.9 1982.8,1728.8 1983.7,1771.5 1984.7,1710.9 1985.6,1797.2 1986.5,1745.7 1987.4,1785.7 1988.3,1740.9 1989.2,1807.8 1990.1,1694.4 1991,1795.3 1992,1703.7 1992.9,1814.4 1993.8,1670.6 1994.7,1805.6 1995.6,1677.2 1996.5,1816.2 1997.4,1649.3 1998.3,1833 1999.2,1678.5 2000.2,1826.5 2001.1,1663.9 2002,1828.6 2002.9,1683.1 2003.8,1880.8 2004.7,1650.7 2005.6,1811.3 2006.5,1702.2 2007.4,1821 2008.4,1713.3 2009.3,1801.4 2010.2,1706.4 2011.1,1800.7 2012,1717 2012.9,1813.1 2013.8,1697.6 2014.7,1811.3 2015.7,1723.1 2016.6,1846.8 2017.5,1723.4 2018.4,1818.9 2019.3,1708.2 2020.2,1825 2021.1,1736.8 2022,1798.2 2022.9,1735.6 2023.9,1786.7 2024.8,1738.2 2025.7,1799.8 2026.6,1737.8 2027.5,1771.6 2028.4,1728.9 2029.3,1773.3 2030.2,1743.2 2031.1,1771.6 2032.1,1740.9 2033,1775.9 2033.9,1741.3 2034.8,1773.6 2035.7,1727.1 2036.6,1783.9 2037.5,1743.1 2038.4,1778.9 2039.3,1743.5 2040.3,1803.3 2041.2,1746.9 2042.1,1784.8 2043,1743 2043.9,1789.2 2044.8,1713 2045.7,1788.3 2046.6,1729.1 2047.6,1803 2048.5,1730.4 2049.4,1782.8 2050.3,1725 2051.2,1783.9 2052.1,1742.3 2053,1781.2 2053.9,1743.5 2054.8,1808.6 2055.8,1747.9 2056.7,1788 2057.6,1741.8 2058.5,1794.5 2059.4,1718.3 2060.3,1760.9 2061.2,1725.7 2062.1,1764 2063,1715.7 2064,1763.1 2064.9,1727.7 2065.8,1770.6 2066.7,1722.3 2067.6,1769.1 2068.5,1732.8 2069.4,1781.2 2070.3,1730.3 2071.3,1782.5 2072.2,1737 2073.1,1797.2 2074,1700.3 2074.9,1793.7 2075.8,1728 2076.7,1802.5 2077.6,1725 2078.5,1791.5 2079.5,1726.8 2080.4,1798.5 2081.3,1692.6 2082.2,1785.7 2083.1,1709.5 2084,1789.8 2084.9,1697.1 2085.8,1801.1 2086.7,1720.6 2087.7,1797.8 2088.6,1730.2 2089.5,1805.9 2090.4,1719.7 2091.3,1801.7 2092.2,1733.4 2093.1,1810.4 2094,1731.3 2095,1783 2095.9,1715.7 2096.8,1786.5 2097.7,1744.8 2098.6,1783.2 2099.5,1740.9 2100.4,1818.4 2101.3,1741.5 2102.2,1779.3 2103.2,1733.5 2104.1,1781.2 2105,1758.3 2105.9,1778.5 2106.8,1756.8 2107.7,1791.3 2108.6,1759.4 2109.5,1778.9 2110.4,1748.8 2111.4,1776.3 2112.3,1754.9 2113.2,1781.2 2114.1,1746.2 2115,1760.6 2115.9,1748.9 2116.8,1760.5 2117.7,1746.5 2118.7,1760.5 2119.6,1736.9 2120.5,1766.9 2121.4,1743.4 2122.3,1796.4 2123.2,1740.9 2124.1,1792.1 2125,1742.7 2125.9,1802.5 2126.9,1739.5 2127.8,1799.4 2128.7,1715.7 2129.6,1801.7 2130.5,1700.3 2131.4,1810.4 2132.3,1712.8 2133.2,1795.9 2134.1,1706.4 2135.1,1811.8 2136,1708.6 2136.9,1804.4 2137.8,1681.2 2138.7,1860.3 2139.6,1688 2140.5,1799.6 2141.4,1644.6 2142.4,1807.8 2143.3,1714.1 2144.2,1797.6 2145.1,1707.7 2146,1805.1 2146.9,1727.5 2147.8,1783 2148.7,1723.6 2149.6,1786.5 2150.6,1728.6 2151.5,1779 2152.4,1730.2 2153.3,1781.1 2154.2,1718.3 2155.1,1796.6 2156,1754.7 2156.9,1785.9 2157.8,1751.5 2158.8,1785.2 2159.7,1753.4 2160.6,1791.9 2161.5,1748.8 2162.4,1787.2 2163.3,1750.9 2164.2,1794.5 2165.1,1746.1 2166.1,1796.6 2167,1730.3 2167.9,1818.4 2168.8,1737.8 2169.7,1800.9 2170.6,1722.3 2171.5,1802.5 2172.4,1716.5 2173.3,1797.3 2174.3,1728.5 2175.2,1797.9 2176.1,1726.1 2177,1817.9 2177.9,1727.1 2178.8,1798.3 2179.7,1711.7 2180.6,1819.7 2181.5,1726.3 2182.5,1799.4 2183.4,1719.7 2184.3,1810.4 2185.2,1725.6 2186.1,1790.5 2187,1717 2187.9,1784.7 2188.8,1736.2 2189.8,1797.2 2190.7,1741.1 2191.6,1790.2 2192.5,1730.3 2193.4,1799.8 2194.3,1730.5 2195.2,1785 2196.1,1700.3 2197,1784.9 2198,1723.5 2198.9,1789.2 2199.8,1717 2200.7,1781.7 2201.6,1722.5 2202.5,1789.2 2203.4,1711.7 2204.3,1784.1 2205.2,1723.9 2206.2,1821.8 2207.1,1724.6 2208,1811.5 2208.9,1709 2209.8,1821 2210.7,1729.8 2211.6,1808 2212.5,1715.7 2213.5,1822.4 2214.4,1717.1 2215.3,1785.3 2216.2,1719.2 2217.1,1785.1 2218,1713 2218.9,1789.2 2219.8,1736.9 2220.7,1792.1 2221.7,1730.3 2222.6,1821 2223.5,1736.6 2224.4,1803.1 2225.3,1718.3 2226.2,1795.8 2227.1,1735.9 2228,1799.8 2228.9,1732.9 2229.9,1789.4 2230.8,1743.7 2231.7,1798.5 2232.6,1746.1 2233.5,1792.7 2234.4,1740.9 2235.3,1800.9 2236.2,1749 2237.2,1837 2238.1,1715.7 2239,1794.9 2239.9,1719.2 2240.8,1799.8 2241.7,1681.2 2242.6,1769.5 2243.5,1732.9 2244.4,1775.9 2245.4,1730.3 2246.3,1775.6 2247.2,1731.6 2248.1,1825 2249,1739.6 2249.9,1812.8 2250.8,1702.4 2251.7,1823.5 2252.6,1724.5 2253.6,1855 2254.5,1719.7 2255.4,1809.2 2256.3,1725.6 2257.2,1814.4 2258.1,1680.6 2259,1807.9 2259.9,1695.6 2260.9,1813.1 2261.8,1693.4 2262.7,1777.1 2263.6,1674.5 2264.5,1778.6 2265.4,1705.7 2266.3,1773.9 2267.2,1708.4 2268.1,1833 2269.1,1711.7 2270,1809.6 2270.9,1659.9 2271.8,1817.3 2272.7,1707.7 2273.6,1870.7 2274.5,1710.4 2275.4,1810.6 2276.3,1721.6 2277.3,1817.1 2278.2,1726.4 2279.1,1800.8 2280,1715.7 2280.9,1799.4 2281.8,1721.6 2282.7,1807.8 2283.6,1704.5 2284.6,1806.5 2285.5,1736.4 2286.4,1808.3 2287.3,1751.8 2288.2,1812.5 2289.1,1740.9 2290,1824.5 2290.9,1743.5 2291.8,1807.3 2292.8,1749.9 2293.7,1805.1 2294.6,1710.9 2295.5,1791.8 2296.4,1726.8 2297.3,1795.8 2298.2,1717 2299.1,1775.3 2300,1725.6 2301,1775.9 2301.9,1694.4 2302.8,1774.1 2303.7,1714.7 2304.6,1794.5 2305.5,1718.5 2306.4,1786.7 2307.3,1715.1 2308.3,1819.7 2309.2,1732 2310.1,1802 2311,1726.3 2311.9,1823.7 2312.8,1735.7 2313.7,1782.7 2314.6,1735.7 2315.5,1778.6 2316.5,1730.3 2317.4,1773.2 2318.3,1737.9 2319.2,1770.4 2320.1,1737.8 2321,1775.9 2321.9,1732.9 2322.8,1801.1 2323.7,1744.5 2324.7,1790.7 2325.6,1740.9 2326.5,1846.3 2327.4,1744.2 2328.3,1819.5 2329.2,1663.9 2330.1,1827.3 2331,1656 2331.9,1831.4 2332.9,1598.4 2333.8,1907.3 2334.7,1632.1 2335.6,1839 2336.5,1600.2 2337.4,1917.9 2338.3,1642.9 2339.2,1833.3 2340.2,1620.1 2341.1,1827 2342,1685.6 2342.9,1847.6 2343.8,1677.2 2344.7,1839.6 2345.6,1675.3 2346.5,1839.7 2347.4,1689.9 2348.4,1840.5 2349.3,1687.8 2350.2,1854.2 2351.1,1697.1 2352,1845.3 2352.9,1685.7 2353.8,1860.8 2354.7,1697 2355.6,1827.6 2356.6,1675.3 2357.5,1823.6 2358.4,1744 2359.3,1753.1"/>
<path class="k" d="M1426.5,1936.5 v15 M1609.5,1936.5 v15 M1791.5,1936.5 v15 M1973.5,1936.5 v15 M2156.5,1936.5 v15 M2338.5,1936.5 v15 M1380.5,1672.5 h-15 M1380.5,1769.5 h-15 M1380.5,1866.5 h-15"/>
<rect class="k" x="1380.5" y="1580.5" width="1025" height="356"/>
<text class="x" transform="translate(1426.5,1998.2) scale(0.94,1)">0</text>
<text class="x" transform="translate(1609.5,1998.2) scale(0.94,1)">200</text>
<text class="x" transform="translate(1791.5,1998.2) scale(0.94,1)">400</text>
<text class="x" transform="translate(1973.5,1998.2) scale(0.94,1)">600</text>
<text class="x" transform="translate(2156.5,1998.2) scale(0.94,1)">800</text>
<text class="x" transform="translate(2338.5,1998.2) scale(0.94,1)">1000</text>
<text class="y" transform="translate(1350.6,1688.5) scale(0.94,1)">0.25</text>
<text class="y" transform="translate(1350.6,1785.5) scale(0.94,1)">0.00</text>
<text class="y" transform="translate(1350.6,1882.5) scale(0.94,1)">−0.25</text>
<text class="t" transform="translate(1893.1,1555.9) scale(0.957,1)">de_21_ball</text>
</g>
<g>
<path class="s" d="M2657.7,1745.1 2658.6,1749.4 2659.5,1733.5 2660.4,1745.2 2661.3,1738.1 2662.2,1746.7 2663.2,1730.8 2664.1,1745.3 2665,1745.7 2665.9,1748.3 2666.8,1749.4 2667.7,1756 2668.6,1744.9 2669.5,1755.1 2670.4,1754.8 2671.4,1761.3 2672.3,1754.2 2673.2,1757.3 2674.1,1756.2 2675,1756.7 2675.9,1754.9 2676.8,1758.7 2677.7,1752.8 2678.6,1752.5 2679.6,1743.5 2680.5,1750.5 2681.4,1747.4 2682.3,1752.1 2683.2,1738.2 2684.1,1750.5 2685,1747.6 2685.9,1750.6 2686.9,1750 2687.8,1752.1 2688.7,1746.2 2689.6,1753.2 2690.5,1753.5 2691.4,1754.9 2692.3,1754.5 2693.2,1760 2694.1,1754.2 2695.1,1756.5 2696,1755.3 2696.9,1755.9 2697.8,1754.3 2698.7,1754.5 2699.6,1748.8 2700.5,1753.7 2701.4,1752.4 2702.3,1754.7 2703.3,1751.4 2704.2,1752.4 2705.1,1750 2706,1752.3 2706.9,1743.5 2707.8,1752.2 2708.7,1749 2709.6,1751.9 2710.6,1749.9 2711.5,1753.4 2712.4,1749.8 2713.3,1751.5 2714.2,1747.5 2715.1,1751.2 2716,1749.7 2716.9,1751 2717.8,1749.1 2718.8,1752.6 2719.7,1744.9 2720.6,1751.3 2721.5,1751 2722.4,1752.4 2723.3,1751.7 2724.2,1752.6 2725.1,1750.2 2726,1753.9 2727,1751.9 2727.9,1752.8 2728.8,1751.2 2729.7,1753.5 2730.6,1738.2 2731.5,1787.9 2732.4,1741.1 2733.3,1775.2 2734.3,1715.7 2735.2,1781.2 2736.1,1721.3 2737,1772.3 2737.9,1706.4 2738.8,1772.6 2739.7,1725.7 2740.6,1779.9 2741.5,1719.7 2742.5,1772.2 2743.4,1722.9 2744.3,1775.9 2745.2,1725.3 2746.1,1773.4 2747,1710.4 2747.9,1778.6 2748.8,1738.3 2749.7,1765.4 2750.7,1732.9 2751.6,1762.7 2752.5,1744.1 2753.4,1765.3 2754.3,1740.9 2755.2,1762.9 2756.1,1742.9 2757,1764.7 2758,1742.6 2758.9,1772 2759.8,1740.9 2760.7,1760.8 2761.6,1743.4 2762.5,1758.4 2763.4,1743.1 2764.3,1762.7 2765.2,1738.2 2766.2,1753.1 2767.1,1742.3 2768,1752.8 2768.9,1725.5 2769.8,1754.7 2770.7,1738.1 2771.6,1753.5 2772.5,1742.7 2773.4,1757.2 2774.4,1738.2 2775.3,1771.4 2776.2,1747.3 2777.1,1760.2 2778,1748.1 2778.9,1764 2779.8,1746.2 2780.7,1757.4 2781.7,1747.6 2782.6,1755.6 2783.5,1741.7 2784.4,1758.7 2785.3,1746.6 2786.2,1752.6 2787.1,1746 2788,1753.4 2788.9,1742.2 2789.9,1752.2 2790.8,1745.9 2791.7,1752.3 2792.6,1746.2 2793.5,1757.9 2794.4,1747.5 2795.3,1752.6 2796.2,1747.5 2797.1,1754.7 2798.1,1744.9 2799,1752.6 2799.9,1747.2 2800.8,1753.7 2801.7,1746.8 2802.6,1760 2803.5,1739.6 2804.4,1757 2805.4,1747 2806.3,1756 2807.2,1747.8 2808.1,1758.7 2809,1744.9 2809.9,1755.3 2810.8,1747.5 2811.7,1755 2812.6,1747.2 2813.6,1754.2 2814.5,1747.9 2815.4,1756.8 2816.3,1743.5 2817.2,1752.1 2818.1,1751.8 2819,1752.7 2819.9,1751.8 2820.8,1752.7 2821.8,1751.5 2822.7,1752.7 2823.6,1752.4 2824.5,1760 2825.4,1742.2 2826.3,1753.7 2827.2,1747.6 2828.1,1754.7 2829.1,1745.2 2830,1753.5 2830.9,1730.3 2831.8,1756.9 2832.7,1711.7 2833.6,1842.3 2834.5,1725.5 2835.4,1831.8 2836.3,1655.4 2837.3,1850.2 2838.2,1670.8 2839.1,1824.4 2840,1640.8 2840.9,1860.3 2841.8,1686.6 2842.7,1779.4 2843.6,1685.2 2844.5,1789.2 2845.5,1687.3 2846.4,1780.8 2847.3,1602.4 2848.2,1779.6 2849.1,1648.5 2850,1890 2850.9,1646.3 2851.8,1839.3 2852.8,1596.3 2853.7,1905.2 2854.6,1685 2855.5,1814.4 2856.4,1673.2 2857.3,1830.3 2858.2,1738.4 2859.1,1779.8 2860,1735.6 2861,1774.2 2861.9,1737.5 2862.8,1785.2 2863.7,1699.8 2864.6,1767 2865.5,1717.4 2866.4,1768 2867.3,1670.6 2868.2,1762.5 2869.2,1693.5 2870.1,1804.3 2871,1686.5 2871.9,1785.8 2872.8,1735.5 2873.7,1795.8 2874.6,1730.3 2875.5,1782.5 2876.5,1747.9 2877.4,1787.3 2878.3,1747.1 2879.2,1771.6 2880.1,1743.5 2881,1771 2881.9,1745.3 2882.8,1774.6 2883.7,1719.7 2884.7,1768.6 2885.6,1725.8 2886.5,1773.3 2887.4,1710.4 2888.3,1758.7 2889.2,1733.4 2890.1,1756.3 2891,1741.4 2891.9,1757.4 2892.9,1731.6 2893.8,1756.6 2894.7,1753 2895.6,1760 2896.5,1751.5 2897.4,1758.1 2898.3,1752.8 2899.2,1775.9 2900.2,1752 2901.1,1764.7 2902,1744.9 2902.9,1760.2 2903.8,1748.1 2904.7,1765.3 2905.6,1722.3 2906.5,1753.8 2907.4,1738.3 2908.4,1754.6 2909.3,1741.4 2910.2,1754.7 2911.1,1738.2 2912,1768 2912.9,1746.2 2913.8,1759 2914.7,1743.5 2915.6,1775.1 2916.6,1752.4 2917.5,1758.8 2918.4,1751.5 2919.3,1753.9 2920.2,1751.9 2921.1,1754.7 2922,1751.8 2922.9,1753.2 2923.9,1724.4 2924.8,1751.9 2925.7,1728.6 2926.6,1760 2927.5,1715.7 2928.4,1756.7 2929.3,1734.3 2930.2,1786.5 2931.1,1739.5 2932.1,1779.6 2933,1732.9 2933.9,1795 2934.8,1743 2935.7,1769.5 2936.6,1740.9 2937.5,1772 2938.4,1742.8 2939.3,1770.7 2940.3,1732.9 2941.2,1770.7 2942.1,1737.6 2943,1778.6 2943.9,1710.9 2944.8,1776.2 2945.7,1718.5 2946.6,1801.7 2947.5,1709 2948.5,1786.4 2949.4,1701.6 2950.3,1783.9 2951.2,1732.6 2952.1,1793.2 2953,1732.2 2953.9,1769 2954.8,1730.3 2955.8,1775.9 2956.7,1733.1 2957.6,1773.8 2958.5,1718.3 2959.4,1774.2 2960.3,1726.5 2961.2,1774.5 2962.1,1726 2963,1779.9 2964,1731 2964.9,1764.3 2965.8,1721 2966.7,1762.3 2967.6,1744.4 2968.5,1766.6 2969.4,1740.9 2970.3,1760.9 2971.2,1745.6 2972.2,1762.7 2973.1,1742.2 2974,1761.5 2974.9,1753 2975.8,1761.8 2976.7,1755.4 2977.6,1761.4 2978.5,1754.2 2979.5,1766.1 2980.4,1754.9 2981.3,1755.1 2982.2,1754 2983.1,1753.9 2984,1739.6 2984.9,1754.7 2985.8,1746 2986.7,1753.9 2987.7,1742 2988.6,1753.8 2989.5,1731.6 2990.4,1757.4 2991.3,1744.2 2992.2,1753.5 2993.1,1739.6 2994,1753.7 2994.9,1752.8 2995.9,1754.7 2996.8,1752.8 2997.7,1753.8 2998.6,1751.5 2999.5,1757.4 3000.4,1752.9 3001.3,1754.6 3002.2,1747.5 3003.2,1755.1 3004.1,1749.6 3005,1757.9 3005.9,1740.9 3006.8,1753.5 3007.7,1745.4 3008.6,1752.5 3009.5,1743.9 3010.4,1753.4 3011.4,1739.6 3012.3,1752.4 3013.2,1748.4 3014.1,1752.5 3015,1750.8 3015.9,1753.4 3016.8,1747.5 3017.7,1754.7 3018.6,1754.6 3019.6,1758.7 3020.5,1754.1 3021.4,1754.7 3022.3,1753.5 3023.2,1754 3024.1,1752.8 3025,1753.3 3025.9,1749.4 3026.9,1752.1 3027.8,1750.5 3028.7,1750.7 3029.6,1749.3 3030.5,1749.7 3031.4,1745.4 3032.3,1750.5 3033.2,1750.2 3034.1,1751.1 3035.1,1750.2 3036,1751.1 3036.9,1751.2 3037.8,1753.9 3038.7,1752.9 3039.6,1770.6 3040.5,1745.4 3041.4,1762.7 3042.3,1749 3043.3,1765.3 3044.2,1746.2 3045.1,1762.6 3046,1748.4 3046.9,1765.3 3047.8,1726.3 3048.7,1762.4 3049.6,1734.7 3050.6,1762.5 3051.5,1717 3052.4,1762.3 3053.3,1733.4 3054.2,1768 3055.1,1742.2 3056,1760.1 3056.9,1730.3 3057.8,1762.7 3058.8,1752.3 3059.7,1760.6 3060.6,1751.5 3061.5,1761.6 3062.4,1751.7 3063.3,1769.8 3064.2,1739.6 3065.1,1756.6 3066,1744.9 3067,1760 3067.9,1742.1 3068.8,1751.7 3069.7,1740.3 3070.6,1750.5 3071.5,1733.7 3072.4,1752.1 3073.3,1743.3 3074.3,1750.9 3075.2,1739.6 3076.1,1751.7 3077,1752.3 3077.9,1754.7 3078.8,1752.7 3079.7,1753.8 3080.6,1752.8 3081.5,1761.3 3082.5,1753.6 3083.4,1755.9 3084.3,1752.1 3085.2,1754.4 3086.1,1742.2 3087,1753.9 3087.9,1747.1 3088.8,1756 3089.7,1745.1 3090.7,1753.4 3091.6,1746.2 3092.5,1753.2 3093.4,1742.2 3094.3,1753.2 3095.2,1750.9 3096.1,1754.7 3097,1752 3098,1753.3 3098.9,1750.2 3099.8,1753.4 3100.7,1752.7 3101.6,1753.6 3102.5,1752.8 3103.4,1753.8 3104.3,1751.5 3105.2,1753.8 3106.2,1752.7 3107.1,1756 3108,1751.9 3108.9,1752.2 3109.8,1747.5 3110.7,1751.4 3111.6,1750 3112.5,1752.1 3113.4,1749.2 3114.4,1751.1 3115.3,1748.4 3116.2,1751.1 3117.1,1744.1 3118,1752.8 3118.9,1746.7 3119.8,1760 3120.7,1746.7 3121.7,1753.4 3122.6,1746.8 3123.5,1752.8 3124.4,1744.1 3125.3,1754.7 3126.2,1747.3 3127.1,1752.9 3128,1747.4 3128.9,1753 3129.9,1744.9 3130.8,1753.4 3131.7,1747.1 3132.6,1753.3 3133.5,1740.9 3134.4,1753.2 3135.3,1744.5 3136.2,1754.7 3137.1,1736.9 3138.1,1798.5 3139,1739.7 3139.9,1779.3 3140.8,1707.7 3141.7,1799.8 3142.6,1712.6 3143.5,1788.7 3144.4,1680.6 3145.4,1825.6 3146.3,1693.9 3147.2,1808.4 3148.1,1685.2 3149,1827.7 3149.9,1699.3 3150.8,1831.7 3151.7,1691.5 3152.6,1819 3153.6,1598.9 3154.5,1912.6 3155.4,1663.9 3156.3,1819.1 3157.2,1614.8 3158.1,1814.7 3159,1706.5 3159.9,1844.9 3160.8,1693.1 3161.8,1790.4 3162.7,1716.7 3163.6,1807.8 3164.5,1714.3 3165.4,1786.5 3166.3,1717.2 3167.2,1783.2 3168.1,1670 3169.1,1782.3 3170,1702 3170.9,1807.8 3171.8,1714.2 3172.7,1786.3 3173.6,1697.1 3174.5,1793.2 3175.4,1722.3 3176.3,1766 3177.3,1745.3 3178.2,1768 3179.1,1746.3 3180,1762.1 3180.9,1743.5 3181.8,1772.7 3182.7,1744.8 3183.6,1751.2 3184.5,1735.6 3185.5,1752.1 3186.4,1741.3 3187.3,1751.5 3188.2,1738.2 3189.1,1751.4 3190,1742.4 3190.9,1758.7 3191.8,1746.5 3192.8,1753.3 3193.7,1739.6 3194.6,1754.7 3195.5,1752.8 3196.4,1753.7 3197.3,1751.5 3198.2,1772 3199.1,1753.6 3200,1765.4 3201,1749.6 3201.9,1768 3202.8,1727.6 3203.7,1758.9 3204.6,1744.6 3205.5,1756.7 3206.4,1743.5 3207.3,1760 3208.2,1744.6 3209.2,1754.5 3210.1,1745.6 3211,1753.7 3211.9,1738.8 3212.8,1754.7 3213.7,1753.3 3214.6,1754.3 3215.5,1751.5 3216.4,1755 3217.4,1754.5 3218.3,1755.6 3219.2,1754.5 3220.1,1757.9 3221,1753.8 3221.9,1754.3 3222.8,1753.5 3223.7,1754 3224.7,1743.5 3225.6,1752.3 3226.5,1748.9 3227.4,1752.1 3228.3,1744.9 3229.2,1754.7 3230.1,1746.8 3231,1752.7 3231.9,1731.6 3232.9,1753.2 3233.8,1749.3 3234.7,1761.3 3235.6,1749.2 3236.5,1757.2 3237.4,1747.5 3238.3,1764.8 3239.2,1749.5 3240.1,1756.7 3241.1,1744.9 3242,1755.8 3242.9,1747.4 3243.8,1758.7 3244.7,1740.9 3245.6,1756 3246.5,1744.5 3247.4,1757.4 3248.4,1727.6 3249.3,1755.7 3250.2,1742.9 3251.1,1761.3 3252,1740.9 3252.9,1758 3253.8,1744 3254.7,1759.4 3255.6,1738.8 3256.6,1765.3 3257.5,1743.3 3258.4,1761.5 3259.3,1742.8 3260.2,1762.4 3261.1,1736.9 3262,1772.5 3262.9,1743.4 3263.8,1758.3 3264.8,1731.6 3265.7,1756.6 3266.6,1753 3267.5,1758.7 3268.4,1751.5 3269.3,1755.2 3270.2,1753 3271.1,1754.5 3272.1,1751.8 3273,1756 3273.9,1742.7 3274.8,1752.7 3275.7,1746.7 3276.6,1751.8 3277.5,1740.9 3278.4,1753.4 3279.3,1747.4 3280.3,1751.2 3281.2,1749.2 3282.1,1751.3 3283,1746.2 3283.9,1752.6 3284.8,1752.5 3285.7,1753.8 3286.6,1752.9 3287.5,1754 3288.5,1753.6 3289.4,1758.7 3290.3,1754.3 3291.2,1754.9 3292.1,1753.1 3293,1753.5 3293.9,1747.5 3294.8,1753.4 3295.8,1750.6 3296.7,1752.6 3297.6,1749.5 3298.5,1752.6 3299.4,1749.4 3300.3,1753 3301.2,1749.3 3302.1,1754.7 3303,1749.4 3304,1753.7 3304.9,1750.4 3305.8,1754 3306.7,1746.7 3307.6,1754.3 3308.5,1753 3309.4,1757.4 3310.3,1751.5 3311.2,1754.9 3312.2,1753 3313.1,1755.3 3314,1752.9 3314.9,1755.7 3315.8,1741.7 3316.7,1756.5 3317.6,1750.4 3318.5,1760.5 3319.5,1750.3 3320.4,1755.4 3321.3,1748.8 3322.2,1754.3 3323.1,1750.1 3324,1756 3324.9,1742.2 3325.8,1752.9 3326.7,1747.8 3327.7,1752.3 3328.6,1748.6 3329.5,1751.5 3330.4,1746.2 3331.3,1752.8 3332.2,1749.8 3333.1,1750.6 3334,1749.7 3334.9,1750.6 3335.9,1748.8 3336.8,1750.7 3337.7,1749.7 3338.6,1750 3339.5,1740.9 3340.4,1764 3341.3,1752.8 3342.2,1757.8 3343.2,1755.7 3344.1,1761.5 3345,1751.5 3345.9,1768 3346.8,1758.1 3347.7,1764.9 3348.6,1756.8 3349.5,1774.1 3350.4,1756 3351.4,1755.7 3352.3,1731.6 3353.2,1754.7 3354.1,1738.1 3355,1754.2 3355.9,1724.4 3356.8,1753.8 3357.7,1737.1 3358.6,1760 3359.6,1732.9 3360.5,1757.6 3361.4,1752.9 3362.3,1765.3 3363.2,1752.7 3364.1,1761.8 3365,1751.5 3365.9,1772 3366.9,1752.7 3367.8,1759.1 3368.7,1739.6 3369.6,1757 3370.5,1746.5 3371.4,1760 3372.3,1743.4 3373.2,1754 3374.1,1728.9 3375.1,1753.8 3376,1747.6 3376.9,1754.7 3377.8,1750.3 3378.7,1753.9 3379.6,1746.2 3380.5,1756.8 3381.4,1755.7 3382.3,1766.6 3383.3,1754.2 3384.2,1757.4 3385.1,1755.4 3386,1760 3386.9,1753.9 3387.8,1753.3 3388.7,1751.6 3389.6,1751.8 3390.6,1743.5 3391.5,1752.1 3392.4,1747.9 3393.3,1751.2 3394.2,1749.4 3395.1,1751.4 3396,1746.2 3396.9,1753.4 3397.8,1752.6 3398.8,1754.1 3399.7,1753.2 3400.6,1754.3 3401.5,1753.7 3402.4,1754.9 3403.3,1754.2 3404.2,1757.4 3405.1,1754 3406,1754.5 3407,1751.5 3407.9,1753.1 3408.8,1751.4 3409.7,1754.7 3410.6,1749 3411.5,1748.4 3412.4,1746.7 3413.3,1746.8 3414.3,1738.8 3415.2,1747 3416.1,1746.6 3417,1748.2 3417.9,1746.2 3418.8,1750 3419.7,1750.2 3420.6,1752.2 3421.5,1751.9 3422.5,1753.2 3423.4,1752.8 3424.3,1754.2 3425.2,1753.8 3426.1,1758.7 3427,1754.3 3427.9,1754.4 3428.8,1748.3 3429.7,1753.1 3430.7,1750.3 3431.6,1754.7 3432.5,1749.7 3433.4,1751.9 3434.3,1746.2 3435.2,1751.4 3436.1,1750.6 3437,1751.8 3438,1750.9 3438.9,1752.1 3439.8,1750.2 3440.7,1751.8 3441.6,1750.9 3442.5,1751.8 3443.4,1750.6 3444.3,1753.4 3445.2,1743.5 3446.2,1751.4 3447.1,1746.9 3448,1760 3448.9,1746.3 3449.8,1755.6 3450.7,1744.9 3451.6,1759.2 3452.5,1746.7 3453.4,1775.4 3454.4,1746.3 3455.3,1768.7 3456.2,1725 3457.1,1775.9 3458,1731.3 3458.9,1770.2 3459.8,1709.6 3460.7,1787.9 3461.7,1729.3 3462.6,1762.2 3463.5,1722.3 3464.4,1762.9 3465.3,1744 3466.2,1765.3 3467.1,1740.9 3468,1763.4 3468.9,1743 3469.9,1776.7 3470.8,1743.5 3471.7,1763.9 3472.6,1730.8 3473.5,1760.1 3474.4,1744.5 3475.3,1765.3 3476.2,1742.2 3477.1,1753.2 3478.1,1744.5 3479,1754.7 3479.9,1745.1 3480.8,1753.4 3481.7,1742.2 3482.6,1753.4 3483.5,1749 3484.4,1754.1 3485.3,1750.4 3486.3,1758.7 3487.2,1748.8 3488.1,1754.8 3489,1750.5 3489.9,1755.4 3490.8,1750.7 3491.7,1755.4 3492.6,1750.7 3493.6,1758.7 3494.5,1748.8 3495.4,1752.5 3496.3,1750.3 3497.2,1754.7 3498.1,1748.6 3499,1749 3499.9,1738.8 3500.8,1748.8 3501.8,1747.2 3502.7,1749.4 3503.6,1748.5 3504.5,1749.9 3505.4,1746.2 3506.3,1751.2 3507.2,1751.1 3508.1,1754.7 3509,1752 3510,1753 3510.9,1751.5 3511.8,1752.9 3512.7,1752 3513.6,1752.8 3514.5,1751.7 3515.4,1753.4 3516.3,1749.4 3517.3,1751.9 3518.2,1750.8 3519.1,1751.5 3520,1750.5 3520.9,1751.1 3521.8,1746.7 3522.7,1752.1 3523.6,1750.7 3524.5,1751.8 3525.5,1751.1 3526.4,1752.2 3527.3,1750.2 3528.2,1754.7 3529.1,1751.6 3530,1754 3530.9,1750.8 3531.8,1755.1 3532.7,1742.2 3533.7,1759.2 3534.6,1746.5 3535.5,1756.8 3536.4,1745.5 3537.3,1761.3 3538.2,1739.6 3539.1,1753.5 3540,1744.8 3541,1753.2 3541.9,1740.9 3542.8,1754.7 3543.7,1743.8 3544.6,1833 3545.5,1710.4 3546.4,1799.5 3547.3,1716.7 3548.2,1828.6 3549.2,1683.8 3550.1,1857.4 3551,1680.6 3551.9,1839.6 3552.8,1642.7 3553.7,1919.2 3554.6,1664.3 3555.5,1762.1 3556.4,1630.8 3557.4,1759.9 3558.3,1664.3 3559.2,1755.3 3560.1,1633.4 3561,1754.6 3561.9,1660.8 3562.8,1872.3 3563.7,1654 3564.7,1847 3565.6,1631.6 3566.5,1866.2 3567.4,1702.6 3568.3,1831.3 3569.2,1684.6 3570.1,1789.5 3571,1727.3 3571.9,1842.3 3572.9,1727.6 3573.8,1770.6 3574.7,1727.2 3575.6,1767.2 3576.5,1665.8 3577.4,1782.6 3578.3,1682.4 3579.2,1770.8 3580.1,1690.5 3581.1,1805.9 3582,1671.1 3582.9,1791.1 3583.8,1739.1 3584.7,1785.5 3585.6,1716.5 3586.5,1797.2 3587.4,1762.4 3588.4,1769.9 3589.3,1759.5 3590.2,1761.1"/>
<path class="k" d="M2657.5,1936.5 v15 M2839.5,1936.5 v15 M3022.5,1936.5 v15 M3204.5,1936.5 v15 M3386.5,1936.5 v15 M3569.5,1936.5 v15 M2611.5,1658.5 h-15 M2611.5,1751.5 h-15 M2611.5,1844.5 h-15"/>
<rect class="k" x="2611.5" y="1580.5" width="1025" height="356"/>
<text class="xs" transform="translate(2657.5,1988.8) scale(0.94,1)">0</text>
<text class="xs" transform="translate(2839.5,1988.8) scale(0.94,1)">200</text>
<text class="xs" transform="translate(3022.5,1988.8) scale(0.94,1)">400</text>
<text class="xs" transform="translate(3204.5,1988.8) scale(0.94,1)">600</text>
<text class="xs" transform="translate(3386.5,1988.8) scale(0.94,1)">800</text>
<text class="xs" transform="translate(3569.5,1988.8) scale(0.94,1)">1000</text>
<text class="ys" transform="translate(2582.7,1669.9) scale(0.94,1)">2</text>
<text class="ys" transform="translate(2582.7,1762.9) scale(0.94,1)">0</text>
<text class="ys" transform="translate(2582.7,1855.9) scale(0.94,1)">−2</text>
<text class="t" transform="translate(3123.9,1555.9) scale(0.957,1)">de_21_outer</text>
</g>
</svg>
</body></html>
